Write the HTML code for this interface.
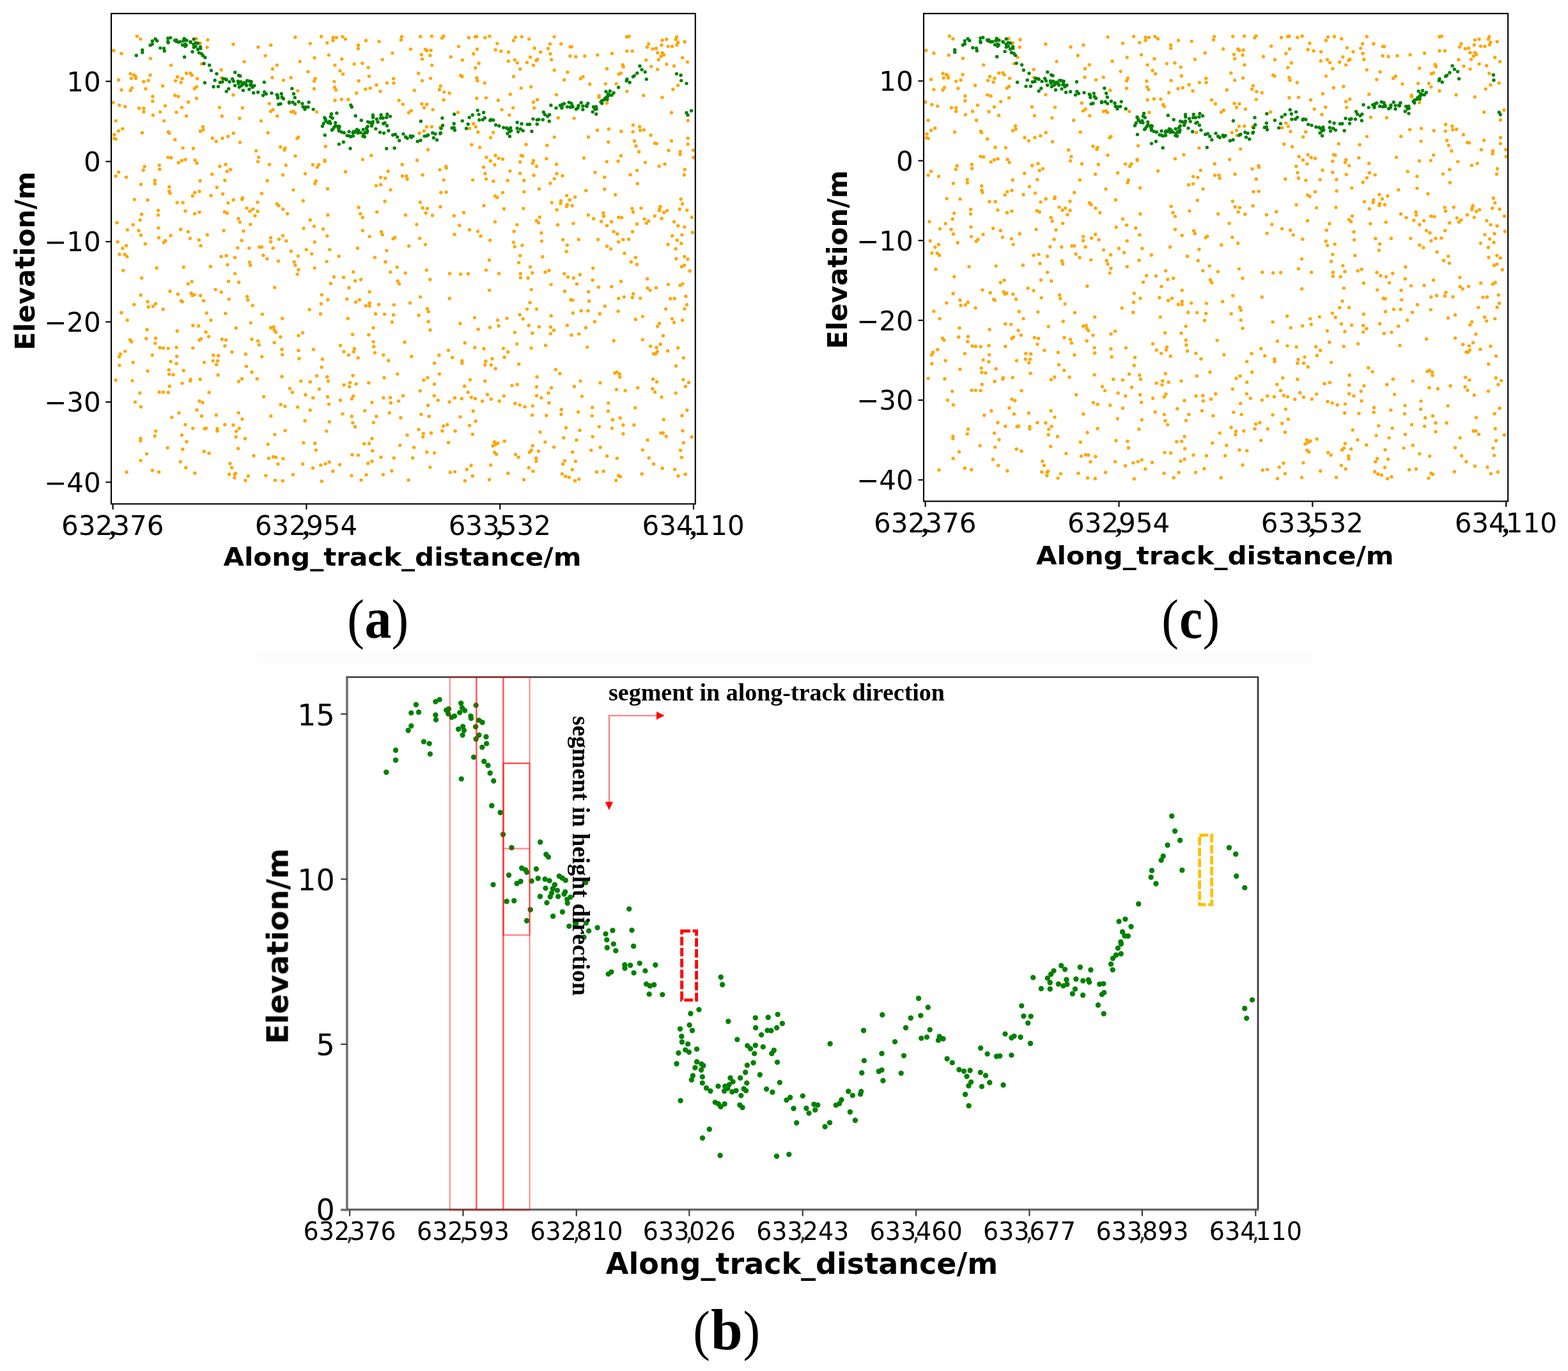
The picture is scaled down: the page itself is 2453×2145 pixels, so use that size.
<!DOCTYPE html>
<html lang="en"><head><meta charset="utf-8"><title>Figure</title>
<style>html,body{margin:0;padding:0;background:#fff}svg{display:block}.tk{font-family:"DejaVu Sans","Liberation Sans",sans-serif;fill:#000}.lb{font-family:"DejaVu Sans","Liberation Sans",sans-serif;font-weight:bold;fill:#000}.cap{font-family:"Liberation Serif","DejaVu Serif",serif;fill:#000}.an{font-family:"Liberation Serif","DejaVu Serif",serif;font-weight:bold;fill:#000}</style></head><body>
<svg xmlns="http://www.w3.org/2000/svg" width="2453" height="2145" viewBox="0 0 2453 2145">
<rect width="2453" height="2145" fill="#fff"/>
<g fill="#ffa500"><circle cx="214.3" cy="56.7" r="2.7"/><circle cx="219.9" cy="61.1" r="2.7"/><circle cx="307.1" cy="60.5" r="2.7"/><circle cx="325" cy="62.3" r="2.7"/><circle cx="313.3" cy="67.6" r="2.7"/><circle cx="324.2" cy="74" r="2.7"/><circle cx="364.9" cy="69.3" r="2.7"/><circle cx="403.9" cy="73.7" r="2.7"/><circle cx="177.7" cy="79.3" r="2.7"/><circle cx="190" cy="83.7" r="2.7"/><circle cx="235.4" cy="91.6" r="2.7"/><circle cx="382.1" cy="96.6" r="2.7"/><circle cx="315.4" cy="100.1" r="2.7"/><circle cx="267.6" cy="102.1" r="2.7"/><circle cx="346.1" cy="109.2" r="2.7"/><circle cx="204.1" cy="115.4" r="2.7"/><circle cx="209.6" cy="117.4" r="2.7"/><circle cx="211.9" cy="119.7" r="2.7"/><circle cx="212.5" cy="122.6" r="2.7"/><circle cx="205.3" cy="122.6" r="2.7"/><circle cx="235" cy="117.4" r="2.7"/><circle cx="291.6" cy="114.7" r="2.7"/><circle cx="297.8" cy="114.4" r="2.7"/><circle cx="300.2" cy="117.7" r="2.7"/><circle cx="277.6" cy="120.3" r="2.7"/><circle cx="285" cy="123" r="2.7"/><circle cx="308.6" cy="123" r="2.7"/><circle cx="346.7" cy="121.8" r="2.7"/><circle cx="185.6" cy="125" r="2.7"/><circle cx="224.8" cy="127.7" r="2.7"/><circle cx="232.1" cy="125.9" r="2.7"/><circle cx="274.6" cy="126.5" r="2.7"/><circle cx="283.2" cy="129.1" r="2.7"/><circle cx="254.5" cy="134.4" r="2.7"/><circle cx="307.5" cy="135.8" r="2.7"/><circle cx="304.2" cy="138.7" r="2.7"/><circle cx="206.4" cy="137.6" r="2.7"/><circle cx="204.1" cy="141.4" r="2.7"/><circle cx="190" cy="140.8" r="2.7"/><circle cx="227.8" cy="139" r="2.7"/><circle cx="273.8" cy="149.2" r="2.7"/><circle cx="279" cy="151" r="2.7"/><circle cx="238.9" cy="151" r="2.7"/><circle cx="238.9" cy="158.4" r="2.7"/><circle cx="307.5" cy="153.7" r="2.7"/><circle cx="364.9" cy="148.8" r="2.7"/><circle cx="294.6" cy="159.8" r="2.7"/><circle cx="176.8" cy="160.5" r="2.7"/><circle cx="186.8" cy="164.6" r="2.7"/><circle cx="195.8" cy="166.9" r="2.7"/><circle cx="258.5" cy="165.6" r="2.7"/><circle cx="284.4" cy="168.1" r="2.7"/><circle cx="343.4" cy="168.1" r="2.7"/><circle cx="379.3" cy="168.7" r="2.7"/><circle cx="217.5" cy="169.2" r="2.7"/><circle cx="224.8" cy="169.5" r="2.7"/><circle cx="224.8" cy="175" r="2.7"/><circle cx="250.6" cy="175.1" r="2.7"/><circle cx="276" cy="175.6" r="2.7"/><circle cx="239.5" cy="180.3" r="2.7"/><circle cx="291.6" cy="181.5" r="2.7"/><circle cx="347.3" cy="181.8" r="2.7"/><circle cx="374.8" cy="185.3" r="2.7"/><circle cx="181.1" cy="189.1" r="2.7"/><circle cx="256.5" cy="189.1" r="2.7"/><circle cx="317.4" cy="198.2" r="2.7"/><circle cx="318" cy="203.1" r="2.7"/><circle cx="313.5" cy="205.5" r="2.7"/><circle cx="191.8" cy="201.4" r="2.7"/><circle cx="185.6" cy="204.9" r="2.7"/><circle cx="222.5" cy="207.8" r="2.7"/><circle cx="263.5" cy="206.4" r="2.7"/><circle cx="264.7" cy="208.4" r="2.7"/><circle cx="365.2" cy="208.4" r="2.7"/><circle cx="178.9" cy="210.8" r="2.7"/><circle cx="356.7" cy="213.5" r="2.7"/><circle cx="332.1" cy="216.2" r="2.7"/><circle cx="347.9" cy="216.2" r="2.7"/><circle cx="178.5" cy="216.6" r="2.7"/><circle cx="181.2" cy="217.6" r="2.7"/><circle cx="273.7" cy="218.5" r="2.7"/><circle cx="338.3" cy="221.3" r="2.7"/><circle cx="375.4" cy="222.8" r="2.7"/><circle cx="461.9" cy="58.2" r="2.7"/><circle cx="502.6" cy="57.2" r="2.7"/><circle cx="521" cy="58.8" r="2.7"/><circle cx="526.3" cy="58.8" r="2.7"/><circle cx="521" cy="63.5" r="2.7"/><circle cx="535.9" cy="57.6" r="2.7"/><circle cx="540.4" cy="61.1" r="2.7"/><circle cx="511.7" cy="67" r="2.7"/><circle cx="485.3" cy="68.1" r="2.7"/><circle cx="572.4" cy="63.5" r="2.7"/><circle cx="593.1" cy="64.9" r="2.7"/><circle cx="628.5" cy="57.4" r="2.7"/><circle cx="627.3" cy="62.5" r="2.7"/><circle cx="560.5" cy="70.7" r="2.7"/><circle cx="560.5" cy="76" r="2.7"/><circle cx="423.8" cy="70.7" r="2.7"/><circle cx="415.2" cy="87.1" r="2.7"/><circle cx="514.4" cy="86.1" r="2.7"/><circle cx="492.1" cy="90.4" r="2.7"/><circle cx="534.8" cy="92.4" r="2.7"/><circle cx="614" cy="83.1" r="2.7"/><circle cx="598.2" cy="93.3" r="2.7"/><circle cx="469.1" cy="96.3" r="2.7"/><circle cx="524" cy="102.1" r="2.7"/><circle cx="554.2" cy="100.1" r="2.7"/><circle cx="566.8" cy="99" r="2.7"/><circle cx="576.1" cy="105.6" r="2.7"/><circle cx="433.2" cy="101.9" r="2.7"/><circle cx="426.4" cy="108" r="2.7"/><circle cx="482" cy="112.1" r="2.7"/><circle cx="531.9" cy="110.7" r="2.7"/><circle cx="536.5" cy="116" r="2.7"/><circle cx="577.3" cy="119.4" r="2.7"/><circle cx="425.8" cy="121.5" r="2.7"/><circle cx="455.1" cy="121.5" r="2.7"/><circle cx="443.4" cy="125.6" r="2.7"/><circle cx="493.2" cy="122.9" r="2.7"/><circle cx="491.4" cy="127.1" r="2.7"/><circle cx="522.8" cy="127.6" r="2.7"/><circle cx="561.1" cy="126.5" r="2.7"/><circle cx="615.6" cy="123" r="2.7"/><circle cx="616" cy="129.9" r="2.7"/><circle cx="605.4" cy="129.7" r="2.7"/><circle cx="589" cy="133" r="2.7"/><circle cx="491.4" cy="139" r="2.7"/><circle cx="523.4" cy="136.7" r="2.7"/><circle cx="525.7" cy="140.8" r="2.7"/><circle cx="579.1" cy="137.9" r="2.7"/><circle cx="571.8" cy="139.4" r="2.7"/><circle cx="594.9" cy="142.9" r="2.7"/><circle cx="557.6" cy="145.7" r="2.7"/><circle cx="465.7" cy="142" r="2.7"/><circle cx="524" cy="157" r="2.7"/><circle cx="534.2" cy="155.5" r="2.7"/><circle cx="544.8" cy="155.8" r="2.7"/><circle cx="624.2" cy="156.9" r="2.7"/><circle cx="630.3" cy="163.3" r="2.7"/><circle cx="421.2" cy="162.1" r="2.7"/><circle cx="427.1" cy="171.6" r="2.7"/><circle cx="423.4" cy="174.2" r="2.7"/><circle cx="455.4" cy="175.1" r="2.7"/><circle cx="458.9" cy="174.2" r="2.7"/><circle cx="461.6" cy="176.9" r="2.7"/><circle cx="495.5" cy="175.1" r="2.7"/><circle cx="433.7" cy="181.8" r="2.7"/><circle cx="408.5" cy="189.1" r="2.7"/><circle cx="419.1" cy="207.8" r="2.7"/><circle cx="466.8" cy="214.6" r="2.7"/><circle cx="464.8" cy="216.6" r="2.7"/><circle cx="657.6" cy="57.2" r="2.7"/><circle cx="675.5" cy="56.7" r="2.7"/><circle cx="694" cy="56.4" r="2.7"/><circle cx="691.6" cy="59.4" r="2.7"/><circle cx="733.5" cy="59" r="2.7"/><circle cx="743.4" cy="57.6" r="2.7"/><circle cx="745.8" cy="57" r="2.7"/><circle cx="758.7" cy="59" r="2.7"/><circle cx="766" cy="56.7" r="2.7"/><circle cx="806.4" cy="58.2" r="2.7"/><circle cx="816.3" cy="57.6" r="2.7"/><circle cx="803.4" cy="63.5" r="2.7"/><circle cx="827.8" cy="61.1" r="2.7"/><circle cx="867.1" cy="57.6" r="2.7"/><circle cx="777.8" cy="68.1" r="2.7"/><circle cx="717.6" cy="72.6" r="2.7"/><circle cx="860.4" cy="68.7" r="2.7"/><circle cx="836.2" cy="75.2" r="2.7"/><circle cx="857.5" cy="76" r="2.7"/><circle cx="642.4" cy="76.9" r="2.7"/><circle cx="665.5" cy="77.2" r="2.7"/><circle cx="667.8" cy="79.3" r="2.7"/><circle cx="674.1" cy="78.7" r="2.7"/><circle cx="746.4" cy="76.9" r="2.7"/><circle cx="775.1" cy="77.9" r="2.7"/><circle cx="783.9" cy="80.2" r="2.7"/><circle cx="795.6" cy="81.4" r="2.7"/><circle cx="845.7" cy="81.4" r="2.7"/><circle cx="860.9" cy="84.2" r="2.7"/><circle cx="659.3" cy="85.5" r="2.7"/><circle cx="672.8" cy="86.7" r="2.7"/><circle cx="740.7" cy="84.2" r="2.7"/><circle cx="705.3" cy="88.9" r="2.7"/><circle cx="829.6" cy="89.5" r="2.7"/><circle cx="660.6" cy="92.4" r="2.7"/><circle cx="723.3" cy="93.9" r="2.7"/><circle cx="805.3" cy="93.7" r="2.7"/><circle cx="840.7" cy="93" r="2.7"/><circle cx="838.9" cy="94.8" r="2.7"/><circle cx="862.6" cy="93.3" r="2.7"/><circle cx="795.2" cy="95.7" r="2.7"/><circle cx="809.3" cy="98.4" r="2.7"/><circle cx="824.5" cy="97.8" r="2.7"/><circle cx="749.1" cy="99" r="2.7"/><circle cx="675.7" cy="102.1" r="2.7"/><circle cx="834.5" cy="102.1" r="2.7"/><circle cx="743.7" cy="106.2" r="2.7"/><circle cx="813.7" cy="108" r="2.7"/><circle cx="867.1" cy="109.8" r="2.7"/><circle cx="654.7" cy="114.7" r="2.7"/><circle cx="720.6" cy="118" r="2.7"/><circle cx="722.9" cy="119.7" r="2.7"/><circle cx="803.5" cy="119.7" r="2.7"/><circle cx="673.5" cy="122.6" r="2.7"/><circle cx="745.8" cy="121.8" r="2.7"/><circle cx="746.9" cy="126.2" r="2.7"/><circle cx="660.6" cy="126.2" r="2.7"/><circle cx="758.1" cy="129.9" r="2.7"/><circle cx="689.2" cy="134.7" r="2.7"/><circle cx="830.7" cy="135.9" r="2.7"/><circle cx="815.3" cy="137.9" r="2.7"/><circle cx="687.4" cy="140.2" r="2.7"/><circle cx="648.2" cy="141.4" r="2.7"/><circle cx="694.8" cy="144.1" r="2.7"/><circle cx="703.2" cy="145.8" r="2.7"/><circle cx="798.2" cy="147.5" r="2.7"/><circle cx="745.8" cy="153.7" r="2.7"/><circle cx="760.4" cy="153.1" r="2.7"/><circle cx="694.2" cy="156.3" r="2.7"/><circle cx="779.4" cy="157" r="2.7"/><circle cx="840.7" cy="156" r="2.7"/><circle cx="834.5" cy="159.8" r="2.7"/><circle cx="659.9" cy="162.5" r="2.7"/><circle cx="667.8" cy="163.3" r="2.7"/><circle cx="663.4" cy="168.7" r="2.7"/><circle cx="802.6" cy="168.6" r="2.7"/><circle cx="835.7" cy="168.9" r="2.7"/><circle cx="677.2" cy="171.6" r="2.7"/><circle cx="785" cy="171.6" r="2.7"/><circle cx="643.2" cy="173.3" r="2.7"/><circle cx="639.5" cy="176.3" r="2.7"/><circle cx="716.5" cy="176" r="2.7"/><circle cx="796.8" cy="180.1" r="2.7"/><circle cx="740.7" cy="193.5" r="2.7"/><circle cx="744.2" cy="198.5" r="2.7"/><circle cx="734.6" cy="200.9" r="2.7"/><circle cx="667.3" cy="198.5" r="2.7"/><circle cx="675.5" cy="198.2" r="2.7"/><circle cx="688.4" cy="199.2" r="2.7"/><circle cx="663.4" cy="204.9" r="2.7"/><circle cx="656.1" cy="208.4" r="2.7"/><circle cx="747.8" cy="206.7" r="2.7"/><circle cx="771.6" cy="207.2" r="2.7"/><circle cx="767.5" cy="215.2" r="2.7"/><circle cx="867.1" cy="214.6" r="2.7"/><circle cx="980.5" cy="57.8" r="2.7"/><circle cx="984" cy="57" r="2.7"/><circle cx="1058.6" cy="57.8" r="2.7"/><circle cx="1057.2" cy="61.7" r="2.7"/><circle cx="1036.1" cy="62.9" r="2.7"/><circle cx="1042.8" cy="61.5" r="2.7"/><circle cx="1071" cy="65.5" r="2.7"/><circle cx="1060.7" cy="66.4" r="2.7"/><circle cx="877.7" cy="68.7" r="2.7"/><circle cx="1014.7" cy="68.7" r="2.7"/><circle cx="1035" cy="70.5" r="2.7"/><circle cx="1059" cy="70.3" r="2.7"/><circle cx="892" cy="73.1" r="2.7"/><circle cx="894.3" cy="73.1" r="2.7"/><circle cx="1012.3" cy="73.7" r="2.7"/><circle cx="1045.1" cy="72.6" r="2.7"/><circle cx="1051.6" cy="72.8" r="2.7"/><circle cx="1021.1" cy="76.6" r="2.7"/><circle cx="1026.4" cy="75.8" r="2.7"/><circle cx="980.8" cy="79.9" r="2.7"/><circle cx="989.2" cy="79.9" r="2.7"/><circle cx="957.4" cy="83.7" r="2.7"/><circle cx="1028.7" cy="82.8" r="2.7"/><circle cx="1036.1" cy="82.8" r="2.7"/><circle cx="1038.5" cy="85.7" r="2.7"/><circle cx="934.8" cy="86.1" r="2.7"/><circle cx="891.8" cy="87.7" r="2.7"/><circle cx="900.8" cy="88.9" r="2.7"/><circle cx="914.8" cy="87.7" r="2.7"/><circle cx="1034.1" cy="88.3" r="2.7"/><circle cx="1067.5" cy="90.4" r="2.7"/><circle cx="1010.7" cy="93.9" r="2.7"/><circle cx="1030.3" cy="93.3" r="2.7"/><circle cx="1075.4" cy="96.9" r="2.7"/><circle cx="1042.8" cy="100.6" r="2.7"/><circle cx="974" cy="101.5" r="2.7"/><circle cx="975.2" cy="104.5" r="2.7"/><circle cx="1018.8" cy="104.1" r="2.7"/><circle cx="1054.5" cy="103.3" r="2.7"/><circle cx="949.4" cy="107.4" r="2.7"/><circle cx="1028.7" cy="108.6" r="2.7"/><circle cx="887.9" cy="113" r="2.7"/><circle cx="968.2" cy="116" r="2.7"/><circle cx="971.4" cy="114.4" r="2.7"/><circle cx="912.1" cy="119.9" r="2.7"/><circle cx="908.2" cy="123" r="2.7"/><circle cx="882.6" cy="125" r="2.7"/><circle cx="947.4" cy="131.1" r="2.7"/><circle cx="964.1" cy="131.1" r="2.7"/><circle cx="922.7" cy="131.8" r="2.7"/><circle cx="1060.7" cy="133.5" r="2.7"/><circle cx="1052.9" cy="140" r="2.7"/><circle cx="980.8" cy="142.9" r="2.7"/><circle cx="870.5" cy="148.2" r="2.7"/><circle cx="1006.8" cy="149.2" r="2.7"/><circle cx="937.1" cy="149.6" r="2.7"/><circle cx="937.1" cy="152.2" r="2.7"/><circle cx="1035.9" cy="152.5" r="2.7"/><circle cx="949.4" cy="161.3" r="2.7"/><circle cx="1050.5" cy="176.3" r="2.7"/><circle cx="873.2" cy="184.4" r="2.7"/><circle cx="898.1" cy="185.1" r="2.7"/><circle cx="1076.2" cy="188.6" r="2.7"/><circle cx="990.4" cy="195.6" r="2.7"/><circle cx="1000.6" cy="198.2" r="2.7"/><circle cx="934.4" cy="203.7" r="2.7"/><circle cx="952.3" cy="202" r="2.7"/><circle cx="1001.6" cy="203.9" r="2.7"/><circle cx="1007.4" cy="203.3" r="2.7"/><circle cx="971.9" cy="205.5" r="2.7"/><circle cx="990.1" cy="206.1" r="2.7"/><circle cx="1018" cy="211.4" r="2.7"/><circle cx="920.5" cy="214.4" r="2.7"/><circle cx="1076.2" cy="216.2" r="2.7"/><circle cx="992.4" cy="220.8" r="2.7"/><circle cx="1050.5" cy="220.5" r="2.7"/><circle cx="951.8" cy="222.2" r="2.7"/><circle cx="1024.4" cy="224" r="2.7"/><circle cx="1027.3" cy="224.6" r="2.7"/><circle cx="286.1" cy="231.6" r="2.7"/><circle cx="302.4" cy="232.2" r="2.7"/><circle cx="400.6" cy="235.9" r="2.7"/><circle cx="404.7" cy="246.1" r="2.7"/><circle cx="403.5" cy="252.9" r="2.7"/><circle cx="262.9" cy="246.1" r="2.7"/><circle cx="267.6" cy="246.7" r="2.7"/><circle cx="290.1" cy="249.6" r="2.7"/><circle cx="284.4" cy="251.2" r="2.7"/><circle cx="279.3" cy="254.4" r="2.7"/><circle cx="305.1" cy="250.6" r="2.7"/><circle cx="308" cy="255.3" r="2.7"/><circle cx="249.2" cy="258.4" r="2.7"/><circle cx="249.7" cy="265" r="2.7"/><circle cx="226.2" cy="260.5" r="2.7"/><circle cx="224.2" cy="266.2" r="2.7"/><circle cx="352.9" cy="257.2" r="2.7"/><circle cx="343.8" cy="260.2" r="2.7"/><circle cx="360.4" cy="265.2" r="2.7"/><circle cx="355.1" cy="268.1" r="2.7"/><circle cx="185.6" cy="269.3" r="2.7"/><circle cx="181.1" cy="275.4" r="2.7"/><circle cx="197.5" cy="277.2" r="2.7"/><circle cx="331.7" cy="272.6" r="2.7"/><circle cx="242.2" cy="282.2" r="2.7"/><circle cx="242.4" cy="287.5" r="2.7"/><circle cx="313.1" cy="282.8" r="2.7"/><circle cx="351.8" cy="282.2" r="2.7"/><circle cx="220.4" cy="288.4" r="2.7"/><circle cx="264.7" cy="292.4" r="2.7"/><circle cx="339.4" cy="293.3" r="2.7"/><circle cx="264.7" cy="299.2" r="2.7"/><circle cx="266.1" cy="302.4" r="2.7"/><circle cx="311.9" cy="299.4" r="2.7"/><circle cx="304.8" cy="301.3" r="2.7"/><circle cx="301.2" cy="306.5" r="2.7"/><circle cx="348.5" cy="303.5" r="2.7"/><circle cx="330" cy="306" r="2.7"/><circle cx="210.2" cy="312.1" r="2.7"/><circle cx="231" cy="313" r="2.7"/><circle cx="379.3" cy="309.8" r="2.7"/><circle cx="378.6" cy="311.9" r="2.7"/><circle cx="365.2" cy="312.7" r="2.7"/><circle cx="277" cy="317" r="2.7"/><circle cx="286.1" cy="317" r="2.7"/><circle cx="356.9" cy="317.6" r="2.7"/><circle cx="403" cy="316.5" r="2.7"/><circle cx="386" cy="325.6" r="2.7"/><circle cx="395.6" cy="327.3" r="2.7"/><circle cx="391" cy="330.5" r="2.7"/><circle cx="403" cy="330.8" r="2.7"/><circle cx="247.5" cy="329.1" r="2.7"/><circle cx="289.9" cy="330.3" r="2.7"/><circle cx="311.9" cy="332" r="2.7"/><circle cx="304.5" cy="334.4" r="2.7"/><circle cx="351.2" cy="331.4" r="2.7"/><circle cx="355.3" cy="333.4" r="2.7"/><circle cx="221.6" cy="335.2" r="2.7"/><circle cx="247.5" cy="336.4" r="2.7"/><circle cx="398.9" cy="337.5" r="2.7"/><circle cx="373.1" cy="342" r="2.7"/><circle cx="219.2" cy="344.3" r="2.7"/><circle cx="375.2" cy="347.6" r="2.7"/><circle cx="182.9" cy="348.4" r="2.7"/><circle cx="208.1" cy="351.6" r="2.7"/><circle cx="391.6" cy="351.1" r="2.7"/><circle cx="247.9" cy="356.6" r="2.7"/><circle cx="199.4" cy="359.6" r="2.7"/><circle cx="217" cy="360.7" r="2.7"/><circle cx="282.6" cy="359" r="2.7"/><circle cx="294.3" cy="362.5" r="2.7"/><circle cx="350" cy="360.7" r="2.7"/><circle cx="381" cy="361.5" r="2.7"/><circle cx="220.4" cy="368" r="2.7"/><circle cx="267" cy="368.6" r="2.7"/><circle cx="324.2" cy="367.4" r="2.7"/><circle cx="248.5" cy="371.9" r="2.7"/><circle cx="297.3" cy="373" r="2.7"/><circle cx="311.2" cy="375.4" r="2.7"/><circle cx="258.8" cy="376.5" r="2.7"/><circle cx="256.2" cy="379.2" r="2.7"/><circle cx="378.1" cy="376.3" r="2.7"/><circle cx="184.1" cy="378.5" r="2.7"/><circle cx="227.2" cy="381.5" r="2.7"/><circle cx="197.5" cy="384.4" r="2.7"/><circle cx="314.1" cy="384.4" r="2.7"/><circle cx="191.8" cy="388.6" r="2.7"/><circle cx="371.9" cy="387.7" r="2.7"/><circle cx="389.8" cy="388.3" r="2.7"/><circle cx="405.7" cy="386.5" r="2.7"/><circle cx="186.8" cy="397.9" r="2.7"/><circle cx="195.2" cy="398" r="2.7"/><circle cx="198.7" cy="401.4" r="2.7"/><circle cx="346.1" cy="401.4" r="2.7"/><circle cx="354.1" cy="400" r="2.7"/><circle cx="367.5" cy="402.9" r="2.7"/><circle cx="390.4" cy="410.2" r="2.7"/><circle cx="391.6" cy="415" r="2.7"/><circle cx="355.9" cy="414.3" r="2.7"/><circle cx="329.4" cy="417" r="2.7"/><circle cx="287.2" cy="418.1" r="2.7"/><circle cx="245.1" cy="419.3" r="2.7"/><circle cx="192.8" cy="423.2" r="2.7"/><circle cx="409.5" cy="302.7" r="2.7"/><circle cx="438.8" cy="229.8" r="2.7"/><circle cx="446" cy="231.8" r="2.7"/><circle cx="444.9" cy="234.8" r="2.7"/><circle cx="509.3" cy="229.2" r="2.7"/><circle cx="461.9" cy="243.9" r="2.7"/><circle cx="580.8" cy="243.3" r="2.7"/><circle cx="567.3" cy="249.6" r="2.7"/><circle cx="507.9" cy="250.6" r="2.7"/><circle cx="508.2" cy="252.3" r="2.7"/><circle cx="421.4" cy="257.4" r="2.7"/><circle cx="447.2" cy="258.4" r="2.7"/><circle cx="489.4" cy="257.8" r="2.7"/><circle cx="498.8" cy="257.6" r="2.7"/><circle cx="496.4" cy="261.4" r="2.7"/><circle cx="629.1" cy="257.4" r="2.7"/><circle cx="540.4" cy="268.7" r="2.7"/><circle cx="607.2" cy="267.9" r="2.7"/><circle cx="477.5" cy="271.7" r="2.7"/><circle cx="442.5" cy="273.8" r="2.7"/><circle cx="629.4" cy="275.5" r="2.7"/><circle cx="635.9" cy="275.5" r="2.7"/><circle cx="637.1" cy="280.2" r="2.7"/><circle cx="595.5" cy="277.5" r="2.7"/><circle cx="602.7" cy="278.9" r="2.7"/><circle cx="418.2" cy="282.8" r="2.7"/><circle cx="494.3" cy="283.1" r="2.7"/><circle cx="492.9" cy="287.2" r="2.7"/><circle cx="595.5" cy="289" r="2.7"/><circle cx="588.4" cy="290.6" r="2.7"/><circle cx="512.5" cy="295.3" r="2.7"/><circle cx="458.9" cy="297.1" r="2.7"/><circle cx="611" cy="297.1" r="2.7"/><circle cx="474.2" cy="314.2" r="2.7"/><circle cx="602.1" cy="315" r="2.7"/><circle cx="433.2" cy="318.9" r="2.7"/><circle cx="435.9" cy="321.8" r="2.7"/><circle cx="561.1" cy="324.4" r="2.7"/><circle cx="442.8" cy="327.3" r="2.7"/><circle cx="589.8" cy="331.7" r="2.7"/><circle cx="449.6" cy="334.4" r="2.7"/><circle cx="563.8" cy="334.4" r="2.7"/><circle cx="512.8" cy="336.4" r="2.7"/><circle cx="634.5" cy="336.4" r="2.7"/><circle cx="567.3" cy="340.2" r="2.7"/><circle cx="485.3" cy="344.3" r="2.7"/><circle cx="491.4" cy="353.9" r="2.7"/><circle cx="475.1" cy="357.2" r="2.7"/><circle cx="505.6" cy="358.4" r="2.7"/><circle cx="567.3" cy="360.7" r="2.7"/><circle cx="596.4" cy="362.7" r="2.7"/><circle cx="598.2" cy="367.2" r="2.7"/><circle cx="442.5" cy="368.6" r="2.7"/><circle cx="511.7" cy="369.2" r="2.7"/><circle cx="578.1" cy="370.1" r="2.7"/><circle cx="423.5" cy="371.9" r="2.7"/><circle cx="617.7" cy="371.5" r="2.7"/><circle cx="615" cy="373.6" r="2.7"/><circle cx="436.4" cy="374.2" r="2.7"/><circle cx="447.8" cy="376.9" r="2.7"/><circle cx="423.5" cy="378.3" r="2.7"/><circle cx="492.1" cy="378.7" r="2.7"/><circle cx="409.7" cy="386.5" r="2.7"/><circle cx="427.1" cy="388.3" r="2.7"/><circle cx="559.4" cy="388.3" r="2.7"/><circle cx="479.2" cy="390.6" r="2.7"/><circle cx="515.8" cy="390.6" r="2.7"/><circle cx="455.4" cy="393" r="2.7"/><circle cx="604.8" cy="392.1" r="2.7"/><circle cx="487.6" cy="397.1" r="2.7"/><circle cx="411.8" cy="399.4" r="2.7"/><circle cx="466.3" cy="400.6" r="2.7"/><circle cx="530.2" cy="400.9" r="2.7"/><circle cx="586.4" cy="402.9" r="2.7"/><circle cx="417.9" cy="404.9" r="2.7"/><circle cx="435.5" cy="408.5" r="2.7"/><circle cx="511.1" cy="409.1" r="2.7"/><circle cx="603.1" cy="409.7" r="2.7"/><circle cx="460.1" cy="409.6" r="2.7"/><circle cx="461.9" cy="414.9" r="2.7"/><circle cx="621.2" cy="418.1" r="2.7"/><circle cx="492.1" cy="419.3" r="2.7"/><circle cx="466.9" cy="422" r="2.7"/><circle cx="737.9" cy="226.5" r="2.7"/><circle cx="823.1" cy="226" r="2.7"/><circle cx="750.5" cy="230.6" r="2.7"/><circle cx="855.9" cy="227.5" r="2.7"/><circle cx="669.6" cy="234.2" r="2.7"/><circle cx="775.1" cy="243.3" r="2.7"/><circle cx="761" cy="246.2" r="2.7"/><circle cx="815.3" cy="243.3" r="2.7"/><circle cx="817.8" cy="244.1" r="2.7"/><circle cx="780.1" cy="247.6" r="2.7"/><circle cx="786.4" cy="249" r="2.7"/><circle cx="854.8" cy="248.2" r="2.7"/><circle cx="652.6" cy="250.8" r="2.7"/><circle cx="767.2" cy="251.7" r="2.7"/><circle cx="834.5" cy="251.2" r="2.7"/><circle cx="813.7" cy="253.5" r="2.7"/><circle cx="833.3" cy="255.3" r="2.7"/><circle cx="773.9" cy="257.8" r="2.7"/><circle cx="839.5" cy="260.3" r="2.7"/><circle cx="756.6" cy="261.4" r="2.7"/><circle cx="697.7" cy="260.5" r="2.7"/><circle cx="698.3" cy="262.9" r="2.7"/><circle cx="688" cy="265.6" r="2.7"/><circle cx="797.9" cy="267.6" r="2.7"/><circle cx="758.9" cy="271.4" r="2.7"/><circle cx="813.7" cy="271.1" r="2.7"/><circle cx="661" cy="273.8" r="2.7"/><circle cx="835.1" cy="274.2" r="2.7"/><circle cx="760.4" cy="280.1" r="2.7"/><circle cx="694.2" cy="281.6" r="2.7"/><circle cx="739.6" cy="281.6" r="2.7"/><circle cx="771.8" cy="283.4" r="2.7"/><circle cx="794.1" cy="282.4" r="2.7"/><circle cx="819.8" cy="282.2" r="2.7"/><circle cx="867.1" cy="279.6" r="2.7"/><circle cx="860.9" cy="286.7" r="2.7"/><circle cx="843.6" cy="295.5" r="2.7"/><circle cx="689.8" cy="301.3" r="2.7"/><circle cx="698.1" cy="300.6" r="2.7"/><circle cx="786.4" cy="301.3" r="2.7"/><circle cx="820" cy="300.1" r="2.7"/><circle cx="774.5" cy="306.8" r="2.7"/><circle cx="778" cy="308.9" r="2.7"/><circle cx="657.3" cy="316.5" r="2.7"/><circle cx="863.2" cy="317.1" r="2.7"/><circle cx="756.9" cy="321.8" r="2.7"/><circle cx="688.9" cy="323.5" r="2.7"/><circle cx="661" cy="325.2" r="2.7"/><circle cx="668.4" cy="326.2" r="2.7"/><circle cx="788.5" cy="326.7" r="2.7"/><circle cx="818.8" cy="326.2" r="2.7"/><circle cx="725.6" cy="332.8" r="2.7"/><circle cx="666.1" cy="333.2" r="2.7"/><circle cx="676.6" cy="336.9" r="2.7"/><circle cx="710.4" cy="337.5" r="2.7"/><circle cx="844.2" cy="339.6" r="2.7"/><circle cx="774.5" cy="347" r="2.7"/><circle cx="839.3" cy="345.3" r="2.7"/><circle cx="842.5" cy="348.4" r="2.7"/><circle cx="652" cy="351.1" r="2.7"/><circle cx="808.7" cy="351.6" r="2.7"/><circle cx="718.8" cy="352.8" r="2.7"/><circle cx="734.6" cy="359.6" r="2.7"/><circle cx="747.5" cy="361.9" r="2.7"/><circle cx="804.1" cy="361.9" r="2.7"/><circle cx="846.9" cy="364.5" r="2.7"/><circle cx="711" cy="366.8" r="2.7"/><circle cx="752" cy="369.5" r="2.7"/><circle cx="656.7" cy="373" r="2.7"/><circle cx="766.6" cy="376" r="2.7"/><circle cx="847.5" cy="377.1" r="2.7"/><circle cx="803.2" cy="379.1" r="2.7"/><circle cx="665.5" cy="382.6" r="2.7"/><circle cx="817" cy="383.8" r="2.7"/><circle cx="639.7" cy="385" r="2.7"/><circle cx="805.3" cy="385.9" r="2.7"/><circle cx="813.7" cy="400" r="2.7"/><circle cx="848.7" cy="401.7" r="2.7"/><circle cx="765.5" cy="407" r="2.7"/><circle cx="811.6" cy="410.9" r="2.7"/><circle cx="829.6" cy="417.6" r="2.7"/><circle cx="667.3" cy="422.6" r="2.7"/><circle cx="760.4" cy="422.6" r="2.7"/><circle cx="858.9" cy="423.2" r="2.7"/><circle cx="1076.2" cy="225.7" r="2.7"/><circle cx="995.1" cy="228.5" r="2.7"/><circle cx="999.6" cy="237.4" r="2.7"/><circle cx="1046.1" cy="235.3" r="2.7"/><circle cx="1084.4" cy="235.1" r="2.7"/><circle cx="1064.2" cy="237.1" r="2.7"/><circle cx="1064" cy="241.5" r="2.7"/><circle cx="1085" cy="246.2" r="2.7"/><circle cx="971.4" cy="243.8" r="2.7"/><circle cx="913.3" cy="247.3" r="2.7"/><circle cx="949.2" cy="252.9" r="2.7"/><circle cx="967" cy="252.3" r="2.7"/><circle cx="1009.5" cy="254.1" r="2.7"/><circle cx="870.5" cy="257" r="2.7"/><circle cx="1040" cy="256.8" r="2.7"/><circle cx="1031.1" cy="259.9" r="2.7"/><circle cx="996.6" cy="266.6" r="2.7"/><circle cx="1071.3" cy="265.2" r="2.7"/><circle cx="931" cy="269.7" r="2.7"/><circle cx="871.1" cy="271.7" r="2.7"/><circle cx="880" cy="274.9" r="2.7"/><circle cx="986.1" cy="273.4" r="2.7"/><circle cx="1070.3" cy="273.8" r="2.7"/><circle cx="945.7" cy="277.2" r="2.7"/><circle cx="997.2" cy="287.2" r="2.7"/><circle cx="945.7" cy="296" r="2.7"/><circle cx="916.6" cy="298.3" r="2.7"/><circle cx="962.6" cy="304.7" r="2.7"/><circle cx="886.7" cy="306" r="2.7"/><circle cx="899.6" cy="308.2" r="2.7"/><circle cx="1065.2" cy="311.5" r="2.7"/><circle cx="891.2" cy="312.7" r="2.7"/><circle cx="877.6" cy="314.1" r="2.7"/><circle cx="877" cy="318.2" r="2.7"/><circle cx="1067.5" cy="318.9" r="2.7"/><circle cx="887.5" cy="320.3" r="2.7"/><circle cx="886.5" cy="323" r="2.7"/><circle cx="895.1" cy="321.8" r="2.7"/><circle cx="1033" cy="323.2" r="2.7"/><circle cx="988.9" cy="326.2" r="2.7"/><circle cx="1003" cy="325.8" r="2.7"/><circle cx="1031.8" cy="326.7" r="2.7"/><circle cx="1031.4" cy="329.4" r="2.7"/><circle cx="1063.3" cy="327.3" r="2.7"/><circle cx="1074.8" cy="328.9" r="2.7"/><circle cx="871.1" cy="328.3" r="2.7"/><circle cx="1043.4" cy="329.7" r="2.7"/><circle cx="1038.5" cy="332.4" r="2.7"/><circle cx="990.4" cy="331.8" r="2.7"/><circle cx="943.9" cy="333.2" r="2.7"/><circle cx="920.3" cy="336.4" r="2.7"/><circle cx="944.5" cy="338.2" r="2.7"/><circle cx="1024.2" cy="337.9" r="2.7"/><circle cx="967.6" cy="339.9" r="2.7"/><circle cx="972.6" cy="340.5" r="2.7"/><circle cx="1082.2" cy="339.9" r="2.7"/><circle cx="928.7" cy="342.2" r="2.7"/><circle cx="1035" cy="341.7" r="2.7"/><circle cx="1008" cy="342.6" r="2.7"/><circle cx="1014.7" cy="345.8" r="2.7"/><circle cx="940.6" cy="346.4" r="2.7"/><circle cx="956.4" cy="347" r="2.7"/><circle cx="1054.6" cy="347" r="2.7"/><circle cx="1011.3" cy="349.2" r="2.7"/><circle cx="896.9" cy="349.4" r="2.7"/><circle cx="996.6" cy="350.4" r="2.7"/><circle cx="872.6" cy="351.7" r="2.7"/><circle cx="949.6" cy="353.1" r="2.7"/><circle cx="1060.7" cy="353.3" r="2.7"/><circle cx="1070.9" cy="355.1" r="2.7"/><circle cx="960.2" cy="362.5" r="2.7"/><circle cx="989.5" cy="362.5" r="2.7"/><circle cx="1083.2" cy="363.7" r="2.7"/><circle cx="965.8" cy="366" r="2.7"/><circle cx="1066.8" cy="367.4" r="2.7"/><circle cx="1051.7" cy="368.9" r="2.7"/><circle cx="983.7" cy="374.2" r="2.7"/><circle cx="974.8" cy="374.8" r="2.7"/><circle cx="880.6" cy="375.1" r="2.7"/><circle cx="905.2" cy="374.8" r="2.7"/><circle cx="935.6" cy="374.8" r="2.7"/><circle cx="1059.2" cy="375.7" r="2.7"/><circle cx="967.6" cy="378.5" r="2.7"/><circle cx="1065.8" cy="381" r="2.7"/><circle cx="1045.1" cy="382.4" r="2.7"/><circle cx="887.3" cy="383.6" r="2.7"/><circle cx="949.6" cy="385.3" r="2.7"/><circle cx="1057.2" cy="389.2" r="2.7"/><circle cx="955.6" cy="389.4" r="2.7"/><circle cx="886.1" cy="393.5" r="2.7"/><circle cx="976.9" cy="396.2" r="2.7"/><circle cx="994.5" cy="402.9" r="2.7"/><circle cx="1070.7" cy="401.5" r="2.7"/><circle cx="1057.8" cy="404.7" r="2.7"/><circle cx="1076" cy="405.5" r="2.7"/><circle cx="987.3" cy="409.7" r="2.7"/><circle cx="996.3" cy="413.8" r="2.7"/><circle cx="1070.7" cy="415.2" r="2.7"/><circle cx="1066.4" cy="417.3" r="2.7"/><circle cx="927.7" cy="419.7" r="2.7"/><circle cx="1079.1" cy="424" r="2.7"/><circle cx="367.6" cy="428.1" r="2.7"/><circle cx="221.7" cy="435" r="2.7"/><circle cx="300.1" cy="440.6" r="2.7"/><circle cx="294.3" cy="444.1" r="2.7"/><circle cx="357.5" cy="440.3" r="2.7"/><circle cx="373.7" cy="441.8" r="2.7"/><circle cx="265.9" cy="455.8" r="2.7"/><circle cx="337.1" cy="453.1" r="2.7"/><circle cx="346.1" cy="457" r="2.7"/><circle cx="278.2" cy="460.2" r="2.7"/><circle cx="299.2" cy="458.8" r="2.7"/><circle cx="303.9" cy="461.1" r="2.7"/><circle cx="301" cy="462.3" r="2.7"/><circle cx="313.7" cy="462.5" r="2.7"/><circle cx="220.1" cy="461.7" r="2.7"/><circle cx="386.6" cy="464" r="2.7"/><circle cx="387.7" cy="469.3" r="2.7"/><circle cx="358.1" cy="468.1" r="2.7"/><circle cx="318.6" cy="470.5" r="2.7"/><circle cx="283.4" cy="470.7" r="2.7"/><circle cx="285.2" cy="472" r="2.7"/><circle cx="231" cy="471.9" r="2.7"/><circle cx="243.4" cy="475.2" r="2.7"/><circle cx="209.8" cy="476.4" r="2.7"/><circle cx="239.5" cy="479.3" r="2.7"/><circle cx="232.1" cy="480.2" r="2.7"/><circle cx="395.1" cy="477.9" r="2.7"/><circle cx="255.1" cy="484" r="2.7"/><circle cx="190" cy="489.2" r="2.7"/><circle cx="323.3" cy="489.8" r="2.7"/><circle cx="352.8" cy="490.4" r="2.7"/><circle cx="199.1" cy="501" r="2.7"/><circle cx="330" cy="501" r="2.7"/><circle cx="392.2" cy="505.1" r="2.7"/><circle cx="301.8" cy="509.2" r="2.7"/><circle cx="310.7" cy="510" r="2.7"/><circle cx="369.2" cy="513.3" r="2.7"/><circle cx="230.1" cy="515.8" r="2.7"/><circle cx="277.2" cy="518" r="2.7"/><circle cx="322.1" cy="519.5" r="2.7"/><circle cx="326.4" cy="526.7" r="2.7"/><circle cx="228.7" cy="529.7" r="2.7"/><circle cx="243.4" cy="529.1" r="2.7"/><circle cx="314.5" cy="529.9" r="2.7"/><circle cx="311.9" cy="532" r="2.7"/><circle cx="203.4" cy="531.8" r="2.7"/><circle cx="205.9" cy="534.7" r="2.7"/><circle cx="347.3" cy="530.8" r="2.7"/><circle cx="353.5" cy="532" r="2.7"/><circle cx="393.9" cy="530.8" r="2.7"/><circle cx="403.5" cy="533.4" r="2.7"/><circle cx="405.3" cy="539.4" r="2.7"/><circle cx="242.8" cy="537.1" r="2.7"/><circle cx="351.8" cy="541.2" r="2.7"/><circle cx="250" cy="544" r="2.7"/><circle cx="255.3" cy="544.6" r="2.7"/><circle cx="263.2" cy="545.1" r="2.7"/><circle cx="276" cy="543.4" r="2.7"/><circle cx="301.8" cy="544.6" r="2.7"/><circle cx="195.8" cy="549.6" r="2.7"/><circle cx="362.9" cy="550.8" r="2.7"/><circle cx="188.5" cy="553.9" r="2.7"/><circle cx="186.5" cy="558" r="2.7"/><circle cx="238.3" cy="555.8" r="2.7"/><circle cx="333.8" cy="555.8" r="2.7"/><circle cx="341.7" cy="556.4" r="2.7"/><circle cx="384.4" cy="554" r="2.7"/><circle cx="276.6" cy="557.8" r="2.7"/><circle cx="333.2" cy="564.6" r="2.7"/><circle cx="340.5" cy="564.8" r="2.7"/><circle cx="267" cy="565.8" r="2.7"/><circle cx="208.1" cy="566.9" r="2.7"/><circle cx="319.5" cy="566.9" r="2.7"/><circle cx="276" cy="568.7" r="2.7"/><circle cx="338.7" cy="570.5" r="2.7"/><circle cx="186.8" cy="571.6" r="2.7"/><circle cx="385.4" cy="573.3" r="2.7"/><circle cx="264.1" cy="578.7" r="2.7"/><circle cx="287.2" cy="579.8" r="2.7"/><circle cx="231" cy="580.6" r="2.7"/><circle cx="393.9" cy="582.2" r="2.7"/><circle cx="264.7" cy="585.6" r="2.7"/><circle cx="270.9" cy="586.2" r="2.7"/><circle cx="341.1" cy="586.7" r="2.7"/><circle cx="378.6" cy="592.7" r="2.7"/><circle cx="402.1" cy="592.7" r="2.7"/><circle cx="313.1" cy="593.5" r="2.7"/><circle cx="298.3" cy="593.8" r="2.7"/><circle cx="297.5" cy="596.1" r="2.7"/><circle cx="181.1" cy="594.7" r="2.7"/><circle cx="207" cy="595.6" r="2.7"/><circle cx="373.4" cy="596.8" r="2.7"/><circle cx="285" cy="599.6" r="2.7"/><circle cx="265.3" cy="604.3" r="2.7"/><circle cx="249.1" cy="613.5" r="2.7"/><circle cx="255.3" cy="613.5" r="2.7"/><circle cx="263.2" cy="614" r="2.7"/><circle cx="327" cy="614" r="2.7"/><circle cx="218.7" cy="615" r="2.7"/><circle cx="410.3" cy="491.6" r="2.7"/><circle cx="409.7" cy="558.1" r="2.7"/><circle cx="552.7" cy="425.6" r="2.7"/><circle cx="610.7" cy="425.6" r="2.7"/><circle cx="634.1" cy="427.1" r="2.7"/><circle cx="465.1" cy="429.1" r="2.7"/><circle cx="522.5" cy="433.3" r="2.7"/><circle cx="537.5" cy="433.9" r="2.7"/><circle cx="564.6" cy="437.3" r="2.7"/><circle cx="555.6" cy="439.4" r="2.7"/><circle cx="622.2" cy="439.8" r="2.7"/><circle cx="624.5" cy="444.1" r="2.7"/><circle cx="517.3" cy="443.5" r="2.7"/><circle cx="429.6" cy="449.8" r="2.7"/><circle cx="545.9" cy="450.3" r="2.7"/><circle cx="578.1" cy="456.4" r="2.7"/><circle cx="503.2" cy="461.1" r="2.7"/><circle cx="512.8" cy="469" r="2.7"/><circle cx="542.7" cy="467.9" r="2.7"/><circle cx="562.3" cy="469" r="2.7"/><circle cx="556.6" cy="472.5" r="2.7"/><circle cx="578.1" cy="474" r="2.7"/><circle cx="502.3" cy="475.2" r="2.7"/><circle cx="572.3" cy="478.5" r="2.7"/><circle cx="578.1" cy="478.7" r="2.7"/><circle cx="592.5" cy="476.4" r="2.7"/><circle cx="616.2" cy="476.9" r="2.7"/><circle cx="484.1" cy="484.2" r="2.7"/><circle cx="501.5" cy="491" r="2.7"/><circle cx="587.6" cy="491" r="2.7"/><circle cx="601.6" cy="491.6" r="2.7"/><circle cx="615.6" cy="492.8" r="2.7"/><circle cx="441.6" cy="498.3" r="2.7"/><circle cx="544.2" cy="498.3" r="2.7"/><circle cx="613.4" cy="503.9" r="2.7"/><circle cx="423.5" cy="512.7" r="2.7"/><circle cx="428.1" cy="511.5" r="2.7"/><circle cx="429.1" cy="516.2" r="2.7"/><circle cx="431.6" cy="519.7" r="2.7"/><circle cx="584.1" cy="512.9" r="2.7"/><circle cx="473.6" cy="520.6" r="2.7"/><circle cx="466.9" cy="525" r="2.7"/><circle cx="551.5" cy="523.2" r="2.7"/><circle cx="576.9" cy="523.8" r="2.7"/><circle cx="438.8" cy="527.1" r="2.7"/><circle cx="429.1" cy="535.9" r="2.7"/><circle cx="584.1" cy="534.6" r="2.7"/><circle cx="633" cy="535.2" r="2.7"/><circle cx="532.4" cy="540.5" r="2.7"/><circle cx="584.7" cy="542.3" r="2.7"/><circle cx="554.4" cy="545.5" r="2.7"/><circle cx="441" cy="546.7" r="2.7"/><circle cx="490.3" cy="546.7" r="2.7"/><circle cx="466.9" cy="548.4" r="2.7"/><circle cx="538" cy="550.2" r="2.7"/><circle cx="553.3" cy="550.2" r="2.7"/><circle cx="586.4" cy="551.9" r="2.7"/><circle cx="441.6" cy="554.9" r="2.7"/><circle cx="545.4" cy="555.5" r="2.7"/><circle cx="599.8" cy="555.5" r="2.7"/><circle cx="560.1" cy="559.9" r="2.7"/><circle cx="468" cy="561" r="2.7"/><circle cx="504.4" cy="561.9" r="2.7"/><circle cx="607.8" cy="564.2" r="2.7"/><circle cx="503.2" cy="574.4" r="2.7"/><circle cx="621.8" cy="585.1" r="2.7"/><circle cx="552.1" cy="587.4" r="2.7"/><circle cx="495.5" cy="588" r="2.7"/><circle cx="441" cy="589.2" r="2.7"/><circle cx="511.7" cy="589.7" r="2.7"/><circle cx="601.1" cy="591" r="2.7"/><circle cx="470.7" cy="596.2" r="2.7"/><circle cx="513.4" cy="596.2" r="2.7"/><circle cx="485.3" cy="597.4" r="2.7"/><circle cx="547.6" cy="598.8" r="2.7"/><circle cx="576.9" cy="599" r="2.7"/><circle cx="557.1" cy="600.8" r="2.7"/><circle cx="538" cy="602.3" r="2.7"/><circle cx="546.8" cy="605" r="2.7"/><circle cx="453.4" cy="607.8" r="2.7"/><circle cx="499.4" cy="608.8" r="2.7"/><circle cx="457.4" cy="614" r="2.7"/><circle cx="478" cy="617.8" r="2.7"/><circle cx="412.6" cy="620.8" r="2.7"/><circle cx="512.5" cy="620.8" r="2.7"/><circle cx="552.7" cy="619.6" r="2.7"/><circle cx="630.6" cy="619.3" r="2.7"/><circle cx="489.8" cy="622.5" r="2.7"/><circle cx="599.9" cy="622.5" r="2.7"/><circle cx="610.5" cy="621.9" r="2.7"/><circle cx="550.3" cy="624" r="2.7"/><circle cx="853" cy="425.7" r="2.7"/><circle cx="703.6" cy="428" r="2.7"/><circle cx="720.6" cy="428.9" r="2.7"/><circle cx="732.5" cy="428.5" r="2.7"/><circle cx="780.6" cy="428" r="2.7"/><circle cx="814.3" cy="428.3" r="2.7"/><circle cx="832.8" cy="426.9" r="2.7"/><circle cx="814.3" cy="434.4" r="2.7"/><circle cx="826" cy="435" r="2.7"/><circle cx="672.9" cy="437.3" r="2.7"/><circle cx="862.1" cy="445.1" r="2.7"/><circle cx="765.5" cy="454.1" r="2.7"/><circle cx="831.3" cy="453.1" r="2.7"/><circle cx="657.6" cy="464.6" r="2.7"/><circle cx="703.2" cy="467" r="2.7"/><circle cx="641.5" cy="474" r="2.7"/><circle cx="829" cy="473.4" r="2.7"/><circle cx="668.4" cy="483" r="2.7"/><circle cx="670.2" cy="487.5" r="2.7"/><circle cx="824.5" cy="483.6" r="2.7"/><circle cx="839.5" cy="483.6" r="2.7"/><circle cx="655" cy="493.3" r="2.7"/><circle cx="813.2" cy="492.4" r="2.7"/><circle cx="862.1" cy="493.9" r="2.7"/><circle cx="742.5" cy="497.1" r="2.7"/><circle cx="793" cy="498" r="2.7"/><circle cx="818.2" cy="498.9" r="2.7"/><circle cx="778.6" cy="501" r="2.7"/><circle cx="670.2" cy="503.3" r="2.7"/><circle cx="720" cy="506.2" r="2.7"/><circle cx="780.1" cy="510" r="2.7"/><circle cx="827.2" cy="509.2" r="2.7"/><circle cx="766.6" cy="512.3" r="2.7"/><circle cx="843.4" cy="511.2" r="2.7"/><circle cx="861.4" cy="511.7" r="2.7"/><circle cx="748.1" cy="515.3" r="2.7"/><circle cx="672.9" cy="516.2" r="2.7"/><circle cx="866.5" cy="516.8" r="2.7"/><circle cx="805.3" cy="520.1" r="2.7"/><circle cx="832.8" cy="521.2" r="2.7"/><circle cx="861.4" cy="522.1" r="2.7"/><circle cx="727.3" cy="536.4" r="2.7"/><circle cx="808.7" cy="538.1" r="2.7"/><circle cx="853.6" cy="540.5" r="2.7"/><circle cx="742.8" cy="543.7" r="2.7"/><circle cx="756.9" cy="545.5" r="2.7"/><circle cx="787.4" cy="545.1" r="2.7"/><circle cx="831.1" cy="544.6" r="2.7"/><circle cx="701.5" cy="548.1" r="2.7"/><circle cx="794.6" cy="550.8" r="2.7"/><circle cx="686.9" cy="555.8" r="2.7"/><circle cx="643.8" cy="557.8" r="2.7"/><circle cx="707.7" cy="559.3" r="2.7"/><circle cx="789.1" cy="559" r="2.7"/><circle cx="770" cy="561.3" r="2.7"/><circle cx="722.7" cy="564.5" r="2.7"/><circle cx="759.8" cy="565.2" r="2.7"/><circle cx="722.9" cy="568.3" r="2.7"/><circle cx="679.6" cy="568.3" r="2.7"/><circle cx="811.6" cy="569.8" r="2.7"/><circle cx="758.7" cy="571" r="2.7"/><circle cx="768.3" cy="571" r="2.7"/><circle cx="775.1" cy="576.8" r="2.7"/><circle cx="687.4" cy="585.1" r="2.7"/><circle cx="840.1" cy="589.8" r="2.7"/><circle cx="669" cy="591" r="2.7"/><circle cx="662.8" cy="594.7" r="2.7"/><circle cx="735.6" cy="594.1" r="2.7"/><circle cx="758.7" cy="596.2" r="2.7"/><circle cx="679.6" cy="600.9" r="2.7"/><circle cx="809.3" cy="601.4" r="2.7"/><circle cx="800.9" cy="603.1" r="2.7"/><circle cx="726.7" cy="604.3" r="2.7"/><circle cx="839.5" cy="605.3" r="2.7"/><circle cx="862.6" cy="606.7" r="2.7"/><circle cx="657.3" cy="611.5" r="2.7"/><circle cx="732.3" cy="613.8" r="2.7"/><circle cx="858" cy="615" r="2.7"/><circle cx="762.5" cy="617.3" r="2.7"/><circle cx="679.2" cy="619.1" r="2.7"/><circle cx="788.5" cy="619.6" r="2.7"/><circle cx="839.5" cy="619" r="2.7"/><circle cx="737.3" cy="621.7" r="2.7"/><circle cx="711.6" cy="622.5" r="2.7"/><circle cx="846.8" cy="622.5" r="2.7"/><circle cx="722.3" cy="623.7" r="2.7"/><circle cx="743.4" cy="623.7" r="2.7"/><circle cx="768.3" cy="624.4" r="2.7"/><circle cx="869.4" cy="578.3" r="2.7"/><circle cx="882.8" cy="428.3" r="2.7"/><circle cx="907.5" cy="429.7" r="2.7"/><circle cx="888.5" cy="433.3" r="2.7"/><circle cx="897.3" cy="435" r="2.7"/><circle cx="927.1" cy="438.3" r="2.7"/><circle cx="1012.5" cy="436.2" r="2.7"/><circle cx="971.4" cy="440.3" r="2.7"/><circle cx="902.3" cy="444.5" r="2.7"/><circle cx="1045.5" cy="445.1" r="2.7"/><circle cx="1068" cy="444.1" r="2.7"/><circle cx="1064" cy="446.5" r="2.7"/><circle cx="936.3" cy="449.2" r="2.7"/><circle cx="956.8" cy="448.5" r="2.7"/><circle cx="1013" cy="450.6" r="2.7"/><circle cx="1026.4" cy="450.2" r="2.7"/><circle cx="1017" cy="454.1" r="2.7"/><circle cx="883.4" cy="455.8" r="2.7"/><circle cx="920.7" cy="456.4" r="2.7"/><circle cx="990.7" cy="459.7" r="2.7"/><circle cx="1073" cy="463.7" r="2.7"/><circle cx="976.4" cy="464.6" r="2.7"/><circle cx="989.2" cy="465.5" r="2.7"/><circle cx="967.6" cy="467" r="2.7"/><circle cx="1001.8" cy="466.6" r="2.7"/><circle cx="1048.8" cy="467.3" r="2.7"/><circle cx="1055.2" cy="467" r="2.7"/><circle cx="892.9" cy="469" r="2.7"/><circle cx="895.9" cy="469.6" r="2.7"/><circle cx="921.6" cy="471.3" r="2.7"/><circle cx="1074.4" cy="476.7" r="2.7"/><circle cx="946.2" cy="479" r="2.7"/><circle cx="1041.6" cy="483.4" r="2.7"/><circle cx="1070.9" cy="483.1" r="2.7"/><circle cx="909.2" cy="486.3" r="2.7"/><circle cx="919.9" cy="486.3" r="2.7"/><circle cx="967" cy="486.9" r="2.7"/><circle cx="896.3" cy="489.8" r="2.7"/><circle cx="938.3" cy="491" r="2.7"/><circle cx="1005.3" cy="495.1" r="2.7"/><circle cx="994.3" cy="499.8" r="2.7"/><circle cx="1051.4" cy="498.6" r="2.7"/><circle cx="1067.5" cy="501" r="2.7"/><circle cx="930.4" cy="503.3" r="2.7"/><circle cx="1054.5" cy="504.5" r="2.7"/><circle cx="1031.4" cy="506" r="2.7"/><circle cx="887.3" cy="508.9" r="2.7"/><circle cx="1028.5" cy="510.6" r="2.7"/><circle cx="916.4" cy="512.7" r="2.7"/><circle cx="905.7" cy="522.4" r="2.7"/><circle cx="894" cy="524.2" r="2.7"/><circle cx="1037.6" cy="525.3" r="2.7"/><circle cx="1005.3" cy="531.4" r="2.7"/><circle cx="960.2" cy="533" r="2.7"/><circle cx="1033.2" cy="538.7" r="2.7"/><circle cx="1017.4" cy="541.6" r="2.7"/><circle cx="918.7" cy="543.1" r="2.7"/><circle cx="1027" cy="543.7" r="2.7"/><circle cx="1060.7" cy="544.3" r="2.7"/><circle cx="1044.6" cy="549" r="2.7"/><circle cx="1028.2" cy="550.2" r="2.7"/><circle cx="1022.6" cy="553.5" r="2.7"/><circle cx="1025.6" cy="553.7" r="2.7"/><circle cx="1069.2" cy="559.9" r="2.7"/><circle cx="1057.5" cy="572.4" r="2.7"/><circle cx="875.9" cy="584.4" r="2.7"/><circle cx="961.7" cy="583.8" r="2.7"/><circle cx="965.2" cy="582.2" r="2.7"/><circle cx="969.3" cy="585.1" r="2.7"/><circle cx="969.7" cy="590" r="2.7"/><circle cx="1021.5" cy="593.3" r="2.7"/><circle cx="1068.9" cy="594.1" r="2.7"/><circle cx="908" cy="596.1" r="2.7"/><circle cx="1027.6" cy="597.4" r="2.7"/><circle cx="1077.5" cy="598.5" r="2.7"/><circle cx="938.9" cy="599" r="2.7"/><circle cx="898.4" cy="604.7" r="2.7"/><circle cx="1072.5" cy="604.7" r="2.7"/><circle cx="997.7" cy="606.7" r="2.7"/><circle cx="1020.9" cy="608.2" r="2.7"/><circle cx="964.6" cy="609.4" r="2.7"/><circle cx="978.1" cy="611.1" r="2.7"/><circle cx="1024.6" cy="613.5" r="2.7"/><circle cx="1057.2" cy="614.9" r="2.7"/><circle cx="910.4" cy="620.1" r="2.7"/><circle cx="1035" cy="621.3" r="2.7"/><circle cx="211.4" cy="628.9" r="2.7"/><circle cx="220.4" cy="636.5" r="2.7"/><circle cx="311.9" cy="627.4" r="2.7"/><circle cx="316.8" cy="629.7" r="2.7"/><circle cx="308" cy="641.4" r="2.7"/><circle cx="279.9" cy="645.9" r="2.7"/><circle cx="373.1" cy="645.9" r="2.7"/><circle cx="338.3" cy="649.4" r="2.7"/><circle cx="315.4" cy="650.9" r="2.7"/><circle cx="268.8" cy="652.9" r="2.7"/><circle cx="378.9" cy="655.8" r="2.7"/><circle cx="289.9" cy="664.4" r="2.7"/><circle cx="351.8" cy="664.4" r="2.7"/><circle cx="364.9" cy="665" r="2.7"/><circle cx="301.8" cy="670.1" r="2.7"/><circle cx="320" cy="670.7" r="2.7"/><circle cx="322.5" cy="669.9" r="2.7"/><circle cx="374.2" cy="670.3" r="2.7"/><circle cx="339.9" cy="670.7" r="2.7"/><circle cx="339.9" cy="674.2" r="2.7"/><circle cx="243.6" cy="674.6" r="2.7"/><circle cx="369.8" cy="674.8" r="2.7"/><circle cx="284.4" cy="680.8" r="2.7"/><circle cx="242.2" cy="682.2" r="2.7"/><circle cx="369.2" cy="683.6" r="2.7"/><circle cx="219.9" cy="686" r="2.7"/><circle cx="219.9" cy="689.6" r="2.7"/><circle cx="383.4" cy="686.3" r="2.7"/><circle cx="291.9" cy="691" r="2.7"/><circle cx="262.1" cy="700.6" r="2.7"/><circle cx="285.8" cy="703" r="2.7"/><circle cx="372.7" cy="701.8" r="2.7"/><circle cx="319.2" cy="706.2" r="2.7"/><circle cx="327" cy="709.2" r="2.7"/><circle cx="229.5" cy="710.1" r="2.7"/><circle cx="396.9" cy="713" r="2.7"/><circle cx="220.1" cy="720.6" r="2.7"/><circle cx="282.3" cy="722.4" r="2.7"/><circle cx="359.8" cy="725.3" r="2.7"/><circle cx="290.7" cy="731.7" r="2.7"/><circle cx="362.5" cy="731.7" r="2.7"/><circle cx="238.3" cy="735.9" r="2.7"/><circle cx="198.1" cy="738.8" r="2.7"/><circle cx="248.6" cy="738.5" r="2.7"/><circle cx="304.8" cy="740.2" r="2.7"/><circle cx="358.7" cy="742" r="2.7"/><circle cx="368.6" cy="740.6" r="2.7"/><circle cx="367.2" cy="742.2" r="2.7"/><circle cx="388.3" cy="744.7" r="2.7"/><circle cx="366.9" cy="747.6" r="2.7"/><circle cx="384" cy="751.7" r="2.7"/><circle cx="532.5" cy="626.3" r="2.7"/><circle cx="623.6" cy="627.4" r="2.7"/><circle cx="581.8" cy="629.7" r="2.7"/><circle cx="611.3" cy="630.3" r="2.7"/><circle cx="514.6" cy="632.4" r="2.7"/><circle cx="439.2" cy="633" r="2.7"/><circle cx="446" cy="635.7" r="2.7"/><circle cx="465.7" cy="636.9" r="2.7"/><circle cx="485.3" cy="641.8" r="2.7"/><circle cx="570.6" cy="642.6" r="2.7"/><circle cx="609.3" cy="645.9" r="2.7"/><circle cx="535.9" cy="647.6" r="2.7"/><circle cx="423.8" cy="650.9" r="2.7"/><circle cx="550.3" cy="651.5" r="2.7"/><circle cx="588.7" cy="651.5" r="2.7"/><circle cx="626.9" cy="653.5" r="2.7"/><circle cx="477.1" cy="658.2" r="2.7"/><circle cx="515.2" cy="659.9" r="2.7"/><circle cx="551.8" cy="661.5" r="2.7"/><circle cx="584.3" cy="661.1" r="2.7"/><circle cx="555.6" cy="667.8" r="2.7"/><circle cx="446" cy="673.7" r="2.7"/><circle cx="510.7" cy="674.6" r="2.7"/><circle cx="429.9" cy="679.9" r="2.7"/><circle cx="637.1" cy="680.8" r="2.7"/><circle cx="582" cy="686.3" r="2.7"/><circle cx="474.8" cy="692.8" r="2.7"/><circle cx="492.7" cy="693.7" r="2.7"/><circle cx="569.7" cy="694.3" r="2.7"/><circle cx="577.5" cy="693.9" r="2.7"/><circle cx="419.3" cy="695.1" r="2.7"/><circle cx="625.7" cy="696.6" r="2.7"/><circle cx="494.4" cy="704.1" r="2.7"/><circle cx="582.6" cy="705.3" r="2.7"/><circle cx="550.9" cy="711.5" r="2.7"/><circle cx="560.5" cy="712.1" r="2.7"/><circle cx="427.3" cy="714.8" r="2.7"/><circle cx="431.6" cy="715.4" r="2.7"/><circle cx="420.3" cy="717" r="2.7"/><circle cx="442.8" cy="717.6" r="2.7"/><circle cx="596" cy="715.4" r="2.7"/><circle cx="616.2" cy="716.4" r="2.7"/><circle cx="515.2" cy="723" r="2.7"/><circle cx="582" cy="721.8" r="2.7"/><circle cx="509.1" cy="725.6" r="2.7"/><circle cx="575.8" cy="725" r="2.7"/><circle cx="434.9" cy="725.9" r="2.7"/><circle cx="473.6" cy="725.9" r="2.7"/><circle cx="501.7" cy="727.6" r="2.7"/><circle cx="531.4" cy="727" r="2.7"/><circle cx="489.4" cy="732.2" r="2.7"/><circle cx="520.7" cy="737.3" r="2.7"/><circle cx="612.8" cy="736.7" r="2.7"/><circle cx="458.4" cy="742.6" r="2.7"/><circle cx="573" cy="742.9" r="2.7"/><circle cx="599.3" cy="742.6" r="2.7"/><circle cx="415.8" cy="744.1" r="2.7"/><circle cx="550" cy="744.1" r="2.7"/><circle cx="430.5" cy="751.4" r="2.7"/><circle cx="442.2" cy="752.3" r="2.7"/><circle cx="565" cy="751.1" r="2.7"/><circle cx="503.2" cy="752.9" r="2.7"/><circle cx="685.2" cy="626.3" r="2.7"/><circle cx="754.6" cy="627.7" r="2.7"/><circle cx="781.2" cy="627.4" r="2.7"/><circle cx="639.1" cy="751.1" r="2.7"/><circle cx="703.2" cy="628.9" r="2.7"/><circle cx="805.9" cy="631.2" r="2.7"/><circle cx="858.9" cy="630.3" r="2.7"/><circle cx="669.6" cy="634.2" r="2.7"/><circle cx="813.2" cy="633.6" r="2.7"/><circle cx="833.3" cy="635.1" r="2.7"/><circle cx="821.1" cy="636.5" r="2.7"/><circle cx="740.3" cy="643.2" r="2.7"/><circle cx="658.8" cy="648.2" r="2.7"/><circle cx="832.5" cy="649.4" r="2.7"/><circle cx="854.8" cy="650" r="2.7"/><circle cx="671.1" cy="651.5" r="2.7"/><circle cx="720" cy="652.1" r="2.7"/><circle cx="744.2" cy="659" r="2.7"/><circle cx="699.8" cy="664.4" r="2.7"/><circle cx="693.6" cy="666.6" r="2.7"/><circle cx="734.6" cy="665.6" r="2.7"/><circle cx="655" cy="671.9" r="2.7"/><circle cx="691.9" cy="674.2" r="2.7"/><circle cx="712.1" cy="674.2" r="2.7"/><circle cx="674.5" cy="677.5" r="2.7"/><circle cx="662.3" cy="678.1" r="2.7"/><circle cx="845.1" cy="676" r="2.7"/><circle cx="739.3" cy="679.5" r="2.7"/><circle cx="661.6" cy="683.4" r="2.7"/><circle cx="789.1" cy="690.2" r="2.7"/><circle cx="773.3" cy="691.4" r="2.7"/><circle cx="701.5" cy="692.4" r="2.7"/><circle cx="778.8" cy="693.3" r="2.7"/><circle cx="852.8" cy="691.6" r="2.7"/><circle cx="775.1" cy="695.5" r="2.7"/><circle cx="771" cy="697.8" r="2.7"/><circle cx="833.3" cy="697.2" r="2.7"/><circle cx="647.6" cy="700" r="2.7"/><circle cx="866.5" cy="699.6" r="2.7"/><circle cx="831.3" cy="704.5" r="2.7"/><circle cx="842.5" cy="705.9" r="2.7"/><circle cx="667.8" cy="707.4" r="2.7"/><circle cx="828.4" cy="707.4" r="2.7"/><circle cx="679.6" cy="708.6" r="2.7"/><circle cx="773.7" cy="707.8" r="2.7"/><circle cx="776.6" cy="710.7" r="2.7"/><circle cx="806.5" cy="711.3" r="2.7"/><circle cx="811" cy="715.4" r="2.7"/><circle cx="645.6" cy="716.4" r="2.7"/><circle cx="838.6" cy="716.8" r="2.7"/><circle cx="838.9" cy="721.5" r="2.7"/><circle cx="737" cy="728.3" r="2.7"/><circle cx="767.7" cy="727.6" r="2.7"/><circle cx="672.9" cy="731.1" r="2.7"/><circle cx="827.2" cy="731.7" r="2.7"/><circle cx="730.2" cy="734.4" r="2.7"/><circle cx="834" cy="737.3" r="2.7"/><circle cx="704.2" cy="739" r="2.7"/><circle cx="711.6" cy="738.1" r="2.7"/><circle cx="794.6" cy="740.5" r="2.7"/><circle cx="739.3" cy="744.7" r="2.7"/><circle cx="765.5" cy="750.5" r="2.7"/><circle cx="819.4" cy="750.5" r="2.7"/><circle cx="727.4" cy="752.3" r="2.7"/><circle cx="951.8" cy="630.6" r="2.7"/><circle cx="926.8" cy="637.4" r="2.7"/><circle cx="993.9" cy="637.9" r="2.7"/><circle cx="878.3" cy="640.8" r="2.7"/><circle cx="1074.8" cy="641.8" r="2.7"/><circle cx="951.4" cy="643.3" r="2.7"/><circle cx="904.6" cy="644.7" r="2.7"/><circle cx="877.9" cy="648.2" r="2.7"/><circle cx="926.2" cy="650.6" r="2.7"/><circle cx="1066.9" cy="650.3" r="2.7"/><circle cx="970.3" cy="653.9" r="2.7"/><circle cx="958.5" cy="656.8" r="2.7"/><circle cx="1038.2" cy="656.4" r="2.7"/><circle cx="974.8" cy="664.9" r="2.7"/><circle cx="991.8" cy="664.9" r="2.7"/><circle cx="937.3" cy="667.6" r="2.7"/><circle cx="885.5" cy="669.3" r="2.7"/><circle cx="957.4" cy="670.1" r="2.7"/><circle cx="907" cy="673.2" r="2.7"/><circle cx="1068" cy="674" r="2.7"/><circle cx="1033.8" cy="677.5" r="2.7"/><circle cx="1037.3" cy="677.5" r="2.7"/><circle cx="974.8" cy="678.7" r="2.7"/><circle cx="1042.2" cy="682.8" r="2.7"/><circle cx="927.1" cy="683.1" r="2.7"/><circle cx="1082.1" cy="683.7" r="2.7"/><circle cx="881.8" cy="684.9" r="2.7"/><circle cx="901.9" cy="688.4" r="2.7"/><circle cx="1013" cy="688.4" r="2.7"/><circle cx="1069.3" cy="692.8" r="2.7"/><circle cx="939.1" cy="700" r="2.7"/><circle cx="1005.3" cy="703.9" r="2.7"/><circle cx="924.8" cy="704.5" r="2.7"/><circle cx="1064.6" cy="704.5" r="2.7"/><circle cx="895.7" cy="707.2" r="2.7"/><circle cx="949.6" cy="713.5" r="2.7"/><circle cx="965.5" cy="717" r="2.7"/><circle cx="1015.3" cy="716.4" r="2.7"/><circle cx="1066.4" cy="715.8" r="2.7"/><circle cx="883.5" cy="720.9" r="2.7"/><circle cx="900.4" cy="721.8" r="2.7"/><circle cx="880.6" cy="725.9" r="2.7"/><circle cx="1022.6" cy="725.9" r="2.7"/><circle cx="1036.1" cy="732.8" r="2.7"/><circle cx="895.3" cy="734.7" r="2.7"/><circle cx="1055.7" cy="734.4" r="2.7"/><circle cx="933.4" cy="738.5" r="2.7"/><circle cx="944.1" cy="737.3" r="2.7"/><circle cx="879.4" cy="741.4" r="2.7"/><circle cx="1004.1" cy="741.4" r="2.7"/><circle cx="1072.1" cy="742" r="2.7"/><circle cx="967.6" cy="744" r="2.7"/><circle cx="970.5" cy="745.7" r="2.7"/><circle cx="884.6" cy="745.3" r="2.7"/><circle cx="890.2" cy="746.9" r="2.7"/><circle cx="1061" cy="744.7" r="2.7"/><circle cx="905.8" cy="749.6" r="2.7"/><circle cx="899.6" cy="752.3" r="2.7"/><circle cx="963.7" cy="751.7" r="2.7"/></g><g fill="#008000"><circle cx="213.3" cy="86.7" r="2.7"/><circle cx="222.7" cy="78.3" r="2.7"/><circle cx="222.7" cy="82.1" r="2.7"/><circle cx="235.2" cy="70.8" r="2.7"/><circle cx="238.3" cy="69.1" r="2.7"/><circle cx="238.3" cy="64.2" r="2.7"/><circle cx="243.1" cy="61" r="2.7"/><circle cx="245.8" cy="63.9" r="2.7"/><circle cx="250.8" cy="75.1" r="2.7"/><circle cx="256.4" cy="75.8" r="2.7"/><circle cx="257.2" cy="79.7" r="2.7"/><circle cx="262.7" cy="59.9" r="2.7"/><circle cx="266.7" cy="59.1" r="2.7"/><circle cx="262.7" cy="65" r="2.7"/><circle cx="263.1" cy="66.8" r="2.7"/><circle cx="273.4" cy="63.1" r="2.7"/><circle cx="275.8" cy="62.7" r="2.7"/><circle cx="275.4" cy="64.5" r="2.7"/><circle cx="278.8" cy="65.9" r="2.7"/><circle cx="281.7" cy="65.4" r="2.7"/><circle cx="288.2" cy="60.5" r="2.7"/><circle cx="289.3" cy="62.2" r="2.7"/><circle cx="292" cy="63.2" r="2.7"/><circle cx="286.9" cy="64" r="2.7"/><circle cx="297.9" cy="65.4" r="2.7"/><circle cx="298.3" cy="66.2" r="2.7"/><circle cx="303.2" cy="61.2" r="2.7"/><circle cx="285.6" cy="70.3" r="2.7"/><circle cx="290.1" cy="69.3" r="2.7"/><circle cx="291.2" cy="70.8" r="2.7"/><circle cx="289.7" cy="72.6" r="2.7"/><circle cx="302.9" cy="69.4" r="2.7"/><circle cx="306.2" cy="66.9" r="2.7"/><circle cx="309.6" cy="67.7" r="2.7"/><circle cx="306.2" cy="72.6" r="2.7"/><circle cx="303.2" cy="74.1" r="2.7"/><circle cx="313.4" cy="73.2" r="2.7"/><circle cx="313.8" cy="75.8" r="2.7"/><circle cx="309.4" cy="77.2" r="2.7"/><circle cx="301" cy="81" r="2.7"/><circle cx="311.3" cy="82.6" r="2.7"/><circle cx="315.2" cy="84.1" r="2.7"/><circle cx="317.4" cy="87" r="2.7"/><circle cx="320.9" cy="90" r="2.7"/><circle cx="288.6" cy="89.2" r="2.7"/><circle cx="319" cy="99.4" r="2.7"/><circle cx="327.6" cy="102" r="2.7"/><circle cx="330.4" cy="110.3" r="2.7"/><circle cx="339" cy="115.4" r="2.7"/><circle cx="367.7" cy="113.2" r="2.7"/><circle cx="373.5" cy="117.9" r="2.7"/><circle cx="375.8" cy="118.9" r="2.7"/><circle cx="349.1" cy="123.1" r="2.7"/><circle cx="352.9" cy="123.8" r="2.7"/><circle cx="354.2" cy="124.7" r="2.7"/><circle cx="363.6" cy="123.4" r="2.7"/><circle cx="336.1" cy="125.8" r="2.7"/><circle cx="320.4" cy="129.4" r="2.7"/><circle cx="344.2" cy="128.9" r="2.7"/><circle cx="348" cy="128.1" r="2.7"/><circle cx="359" cy="128" r="2.7"/><circle cx="365.4" cy="127" r="2.7"/><circle cx="372.4" cy="127.3" r="2.7"/><circle cx="376.9" cy="127.9" r="2.7"/><circle cx="386.6" cy="126.2" r="2.7"/><circle cx="389.7" cy="126.9" r="2.7"/><circle cx="393.1" cy="127.7" r="2.7"/><circle cx="382.2" cy="129.4" r="2.7"/><circle cx="373" cy="130.7" r="2.7"/><circle cx="380.3" cy="130.9" r="2.7"/><circle cx="384.8" cy="131.6" r="2.7"/><circle cx="379.2" cy="132.6" r="2.7"/><circle cx="392.7" cy="132.1" r="2.7"/><circle cx="391.6" cy="133" r="2.7"/><circle cx="367.5" cy="133.9" r="2.7"/><circle cx="377.7" cy="134" r="2.7"/><circle cx="385.6" cy="133.9" r="2.7"/><circle cx="397.9" cy="134.1" r="2.7"/><circle cx="394.5" cy="135" r="2.7"/><circle cx="394.9" cy="136.4" r="2.7"/><circle cx="374.3" cy="136.3" r="2.7"/><circle cx="334" cy="135.7" r="2.7"/><circle cx="341.4" cy="135.5" r="2.7"/><circle cx="357.7" cy="138.9" r="2.7"/><circle cx="389.9" cy="139.7" r="2.7"/><circle cx="380.4" cy="141.4" r="2.7"/><circle cx="354.2" cy="143.1" r="2.7"/><circle cx="413.3" cy="128.6" r="2.7"/><circle cx="396.6" cy="145.2" r="2.7"/><circle cx="403.6" cy="144.2" r="2.7"/><circle cx="413.7" cy="144" r="2.7"/><circle cx="416.3" cy="146.9" r="2.7"/><circle cx="425" cy="145.7" r="2.7"/><circle cx="411.5" cy="149.3" r="2.7"/><circle cx="433.2" cy="148.1" r="2.7"/><circle cx="440.2" cy="146.8" r="2.7"/><circle cx="456.8" cy="138.6" r="2.7"/><circle cx="459.5" cy="146.7" r="2.7"/><circle cx="434.4" cy="150.3" r="2.7"/><circle cx="441.1" cy="151.9" r="2.7"/><circle cx="434.7" cy="153.3" r="2.7"/><circle cx="443.4" cy="154.5" r="2.7"/><circle cx="461.2" cy="152.8" r="2.7"/><circle cx="435.9" cy="163.3" r="2.7"/><circle cx="439" cy="162.5" r="2.7"/><circle cx="452.4" cy="159.8" r="2.7"/><circle cx="452.5" cy="161.1" r="2.7"/><circle cx="458" cy="160" r="2.7"/><circle cx="467.3" cy="159.2" r="2.7"/><circle cx="483.1" cy="159.9" r="2.7"/><circle cx="472.9" cy="162.1" r="2.7"/><circle cx="461.5" cy="162.9" r="2.7"/><circle cx="474" cy="167.1" r="2.7"/><circle cx="477.7" cy="167.8" r="2.7"/><circle cx="481.8" cy="167.4" r="2.7"/><circle cx="476.9" cy="171" r="2.7"/><circle cx="490.2" cy="171.1" r="2.7"/><circle cx="548.8" cy="164.5" r="2.7"/><circle cx="550.3" cy="167.4" r="2.7"/><circle cx="526.8" cy="176.9" r="2.7"/><circle cx="518.4" cy="178.3" r="2.7"/><circle cx="517.3" cy="182.7" r="2.7"/><circle cx="507.9" cy="184.2" r="2.7"/><circle cx="520.1" cy="184.8" r="2.7"/><circle cx="509.4" cy="187" r="2.7"/><circle cx="509.8" cy="189.2" r="2.7"/><circle cx="515.7" cy="189.9" r="2.7"/><circle cx="513.2" cy="192.1" r="2.7"/><circle cx="516.9" cy="193" r="2.7"/><circle cx="524.7" cy="191.9" r="2.7"/><circle cx="506.3" cy="193.3" r="2.7"/><circle cx="504.4" cy="197.4" r="2.7"/><circle cx="524.7" cy="196.7" r="2.7"/><circle cx="529.3" cy="197.5" r="2.7"/><circle cx="531.2" cy="198.1" r="2.7"/><circle cx="522.9" cy="198.9" r="2.7"/><circle cx="529.1" cy="199.8" r="2.7"/><circle cx="520.7" cy="202" r="2.7"/><circle cx="519.4" cy="203.5" r="2.7"/><circle cx="530.2" cy="202.4" r="2.7"/><circle cx="530.2" cy="204.7" r="2.7"/><circle cx="534.2" cy="206.6" r="2.7"/><circle cx="538.3" cy="207.8" r="2.7"/><circle cx="546.1" cy="205.9" r="2.7"/><circle cx="508.3" cy="211.4" r="2.7"/><circle cx="556.2" cy="181.3" r="2.7"/><circle cx="565.2" cy="188.2" r="2.7"/><circle cx="583.4" cy="180" r="2.7"/><circle cx="596.2" cy="179.8" r="2.7"/><circle cx="605.8" cy="178.7" r="2.7"/><circle cx="610.4" cy="182.1" r="2.7"/><circle cx="583.6" cy="183.7" r="2.7"/><circle cx="604.8" cy="183.7" r="2.7"/><circle cx="595.4" cy="184.7" r="2.7"/><circle cx="599.2" cy="184.8" r="2.7"/><circle cx="589.4" cy="186.4" r="2.7"/><circle cx="575.4" cy="190.6" r="2.7"/><circle cx="578.5" cy="191.7" r="2.7"/><circle cx="583.4" cy="190.4" r="2.7"/><circle cx="591.1" cy="191" r="2.7"/><circle cx="582.4" cy="193.6" r="2.7"/><circle cx="602" cy="192.3" r="2.7"/><circle cx="599.8" cy="193.5" r="2.7"/><circle cx="581.4" cy="197" r="2.7"/><circle cx="575.2" cy="198" r="2.7"/><circle cx="605.4" cy="196.8" r="2.7"/><circle cx="573.4" cy="200.7" r="2.7"/><circle cx="587.9" cy="201.6" r="2.7"/><circle cx="568.2" cy="202.8" r="2.7"/><circle cx="558.2" cy="202.8" r="2.7"/><circle cx="560.9" cy="204.2" r="2.7"/><circle cx="557.1" cy="205.4" r="2.7"/><circle cx="553" cy="205.9" r="2.7"/><circle cx="555.6" cy="206.8" r="2.7"/><circle cx="552.2" cy="207.8" r="2.7"/><circle cx="574.8" cy="204.7" r="2.7"/><circle cx="607.8" cy="204.5" r="2.7"/><circle cx="560.1" cy="208.1" r="2.7"/><circle cx="564" cy="207.6" r="2.7"/><circle cx="571.8" cy="206.9" r="2.7"/><circle cx="574" cy="207.6" r="2.7"/><circle cx="569" cy="209.5" r="2.7"/><circle cx="594.5" cy="207" r="2.7"/><circle cx="600.5" cy="208.2" r="2.7"/><circle cx="543" cy="212.1" r="2.7"/><circle cx="546.3" cy="212.6" r="2.7"/><circle cx="548.6" cy="213.8" r="2.7"/><circle cx="552.5" cy="212.7" r="2.7"/><circle cx="567.8" cy="213.1" r="2.7"/><circle cx="570.4" cy="214" r="2.7"/><circle cx="618.3" cy="210.2" r="2.7"/><circle cx="614.6" cy="211.2" r="2.7"/><circle cx="630.9" cy="209.6" r="2.7"/><circle cx="621.7" cy="214.4" r="2.7"/><circle cx="634.5" cy="214.3" r="2.7"/><circle cx="637.1" cy="216.2" r="2.7"/><circle cx="624.7" cy="219.9" r="2.7"/><circle cx="642.1" cy="212.8" r="2.7"/><circle cx="645.9" cy="213.1" r="2.7"/><circle cx="643.3" cy="214.9" r="2.7"/><circle cx="658.3" cy="189.8" r="2.7"/><circle cx="691.9" cy="184.8" r="2.7"/><circle cx="734.2" cy="183.7" r="2.7"/><circle cx="758.4" cy="184.5" r="2.7"/><circle cx="723.3" cy="189.1" r="2.7"/><circle cx="749.8" cy="187.7" r="2.7"/><circle cx="755.3" cy="187.3" r="2.7"/><circle cx="768" cy="187.1" r="2.7"/><circle cx="771.7" cy="187.9" r="2.7"/><circle cx="766.8" cy="188.5" r="2.7"/><circle cx="710.2" cy="193.5" r="2.7"/><circle cx="732.3" cy="194.3" r="2.7"/><circle cx="692.5" cy="196.2" r="2.7"/><circle cx="690.1" cy="200.9" r="2.7"/><circle cx="707.1" cy="200.3" r="2.7"/><circle cx="710.2" cy="199.8" r="2.7"/><circle cx="729.5" cy="201" r="2.7"/><circle cx="711.4" cy="203.8" r="2.7"/><circle cx="676.7" cy="207.9" r="2.7"/><circle cx="680.9" cy="209.5" r="2.7"/><circle cx="689.4" cy="208" r="2.7"/><circle cx="688.7" cy="209" r="2.7"/><circle cx="669.7" cy="211.1" r="2.7"/><circle cx="667.7" cy="212.5" r="2.7"/><circle cx="664.1" cy="213.1" r="2.7"/><circle cx="678.4" cy="215.7" r="2.7"/><circle cx="683.5" cy="218.9" r="2.7"/><circle cx="657.9" cy="219.8" r="2.7"/><circle cx="653.2" cy="221.3" r="2.7"/><circle cx="756.5" cy="176" r="2.7"/><circle cx="775.6" cy="195.5" r="2.7"/><circle cx="780.9" cy="197" r="2.7"/><circle cx="787.6" cy="199.6" r="2.7"/><circle cx="792.5" cy="200.2" r="2.7"/><circle cx="798.7" cy="199.9" r="2.7"/><circle cx="795.4" cy="202.2" r="2.7"/><circle cx="799.6" cy="204.4" r="2.7"/><circle cx="797.3" cy="205.8" r="2.7"/><circle cx="793.9" cy="209" r="2.7"/><circle cx="797.4" cy="213.4" r="2.7"/><circle cx="809.2" cy="191.5" r="2.7"/><circle cx="816" cy="193.7" r="2.7"/><circle cx="825.2" cy="194.6" r="2.7"/><circle cx="828.6" cy="194.5" r="2.7"/><circle cx="840.2" cy="194.2" r="2.7"/><circle cx="809.1" cy="200.7" r="2.7"/><circle cx="814.3" cy="201.9" r="2.7"/><circle cx="818.3" cy="204.6" r="2.7"/><circle cx="810.4" cy="206.1" r="2.7"/><circle cx="831.9" cy="205.5" r="2.7"/><circle cx="833.9" cy="186.1" r="2.7"/><circle cx="840.2" cy="187.6" r="2.7"/><circle cx="842.8" cy="186.9" r="2.7"/><circle cx="849.2" cy="187.3" r="2.7"/><circle cx="859.2" cy="189.7" r="2.7"/><circle cx="850.3" cy="175.4" r="2.7"/><circle cx="852.4" cy="179.3" r="2.7"/><circle cx="859.6" cy="179.4" r="2.7"/><circle cx="856.7" cy="181.9" r="2.7"/><circle cx="861.9" cy="164.7" r="2.7"/><circle cx="870" cy="168.9" r="2.7"/><circle cx="878.9" cy="169" r="2.7"/><circle cx="876.4" cy="164.9" r="2.7"/><circle cx="878.9" cy="166.6" r="2.7"/><circle cx="879.8" cy="163.4" r="2.7"/><circle cx="882.6" cy="162.1" r="2.7"/><circle cx="890.1" cy="160.1" r="2.7"/><circle cx="893.8" cy="161.6" r="2.7"/><circle cx="887.3" cy="167.1" r="2.7"/><circle cx="892.1" cy="167.8" r="2.7"/><circle cx="895.9" cy="167.2" r="2.7"/><circle cx="895.3" cy="165.5" r="2.7"/><circle cx="904.9" cy="165.2" r="2.7"/><circle cx="904" cy="169" r="2.7"/><circle cx="901.4" cy="170.8" r="2.7"/><circle cx="909.1" cy="160.8" r="2.7"/><circle cx="919.7" cy="161.8" r="2.7"/><circle cx="911.9" cy="165.9" r="2.7"/><circle cx="917.3" cy="165.5" r="2.7"/><circle cx="918.2" cy="166.4" r="2.7"/><circle cx="911.8" cy="171.4" r="2.7"/><circle cx="928.5" cy="167.2" r="2.7"/><circle cx="932.4" cy="167" r="2.7"/><circle cx="933.1" cy="170.4" r="2.7"/><circle cx="930.8" cy="171.1" r="2.7"/><circle cx="927.1" cy="175.1" r="2.7"/><circle cx="932.7" cy="178.4" r="2.7"/><circle cx="941.7" cy="161.8" r="2.7"/><circle cx="939.9" cy="159.6" r="2.7"/><circle cx="941.9" cy="157.4" r="2.7"/><circle cx="945.1" cy="156.1" r="2.7"/><circle cx="949.9" cy="155.7" r="2.7"/><circle cx="946.9" cy="153.5" r="2.7"/><circle cx="950.1" cy="151.9" r="2.7"/><circle cx="949.8" cy="151.2" r="2.7"/><circle cx="951.5" cy="147.3" r="2.7"/><circle cx="953.7" cy="148.8" r="2.7"/><circle cx="957.1" cy="148.9" r="2.7"/><circle cx="960.1" cy="145.3" r="2.7"/><circle cx="948" cy="143.3" r="2.7"/><circle cx="954.3" cy="142.5" r="2.7"/><circle cx="967.6" cy="136.7" r="2.7"/><circle cx="1001" cy="103.3" r="2.7"/><circle cx="1004.1" cy="109" r="2.7"/><circle cx="1009.2" cy="112.6" r="2.7"/><circle cx="996.7" cy="114.4" r="2.7"/><circle cx="992.3" cy="118.6" r="2.7"/><circle cx="990.3" cy="120.1" r="2.7"/><circle cx="980.9" cy="124" r="2.7"/><circle cx="980.1" cy="126.6" r="2.7"/><circle cx="985.1" cy="129" r="2.7"/><circle cx="1011.3" cy="123.9" r="2.7"/><circle cx="1058.5" cy="115.4" r="2.7"/><circle cx="1065.1" cy="117.8" r="2.7"/><circle cx="1065.7" cy="126.1" r="2.7"/><circle cx="1074" cy="130.6" r="2.7"/><circle cx="1081.6" cy="173.2" r="2.7"/><circle cx="1074" cy="176.4" r="2.7"/><circle cx="1076" cy="180.1" r="2.7"/><circle cx="537.3" cy="222.3" r="2.7"/><circle cx="530.4" cy="225.6" r="2.7"/><circle cx="548" cy="232.3" r="2.7"/><circle cx="604.7" cy="232.5" r="2.7"/><circle cx="617.1" cy="231.8" r="2.7"/><circle cx="747.1" cy="172.6" r="2.7"/><circle cx="710.7" cy="178.8" r="2.7"/><circle cx="739.2" cy="180" r="2.7"/><circle cx="749.1" cy="179.1" r="2.7"/></g>
<rect x="174" y="21.2" width="913.8" height="767.2" fill="none" stroke="#000" stroke-width="2.1"/>
<line x1="176.6" y1="788.4" x2="176.6" y2="797.1" stroke="#000" stroke-width="2.1"/>
<text class="tk" x="176.2" y="836.6" font-size="42" text-anchor="middle">632<tspan dx="-5.46" dy="1.2" font-family="Liberation Serif, DejaVu Serif, serif" font-weight="bold" font-size="43.7">,</tspan><tspan dx="-5.46" dy="-1.2">376</tspan></text>
<line x1="479.4" y1="788.4" x2="479.4" y2="797.1" stroke="#000" stroke-width="2.1"/>
<text class="tk" x="479" y="836.6" font-size="42" text-anchor="middle">632<tspan dx="-5.46" dy="1.2" font-family="Liberation Serif, DejaVu Serif, serif" font-weight="bold" font-size="43.7">,</tspan><tspan dx="-5.46" dy="-1.2">954</tspan></text>
<line x1="782.2" y1="788.4" x2="782.2" y2="797.1" stroke="#000" stroke-width="2.1"/>
<text class="tk" x="781.8" y="836.6" font-size="42" text-anchor="middle">633<tspan dx="-5.46" dy="1.2" font-family="Liberation Serif, DejaVu Serif, serif" font-weight="bold" font-size="43.7">,</tspan><tspan dx="-5.46" dy="-1.2">532</tspan></text>
<line x1="1085" y1="788.4" x2="1085" y2="797.1" stroke="#000" stroke-width="2.1"/>
<text class="tk" x="1084.6" y="836.6" font-size="42" text-anchor="middle">634<tspan dx="-5.46" dy="1.2" font-family="Liberation Serif, DejaVu Serif, serif" font-weight="bold" font-size="43.7">,</tspan><tspan dx="-5.46" dy="-1.2">110</tspan></text>
<line x1="165.4" y1="127.3" x2="174" y2="127.3" stroke="#000" stroke-width="2.1"/>
<text class="tk" x="157.7" y="142.6" font-size="42" text-anchor="end">10</text>
<line x1="165.4" y1="252.7" x2="174" y2="252.7" stroke="#000" stroke-width="2.1"/>
<text class="tk" x="157.7" y="268" font-size="42" text-anchor="end">0</text>
<line x1="165.4" y1="378.1" x2="174" y2="378.1" stroke="#000" stroke-width="2.1"/>
<text class="tk" x="157.7" y="393.4" font-size="42" text-anchor="end">−10</text>
<line x1="165.4" y1="503.6" x2="174" y2="503.6" stroke="#000" stroke-width="2.1"/>
<text class="tk" x="157.7" y="518.9" font-size="42" text-anchor="end">−20</text>
<line x1="165.4" y1="629" x2="174" y2="629" stroke="#000" stroke-width="2.1"/>
<text class="tk" x="157.7" y="644.3" font-size="42" text-anchor="end">−30</text>
<line x1="165.4" y1="754.4" x2="174" y2="754.4" stroke="#000" stroke-width="2.1"/>
<text class="tk" x="157.7" y="769.7" font-size="42" text-anchor="end">−40</text>
<text class="lb" transform="translate(629.4 884.7) scale(1.0915 1)" font-size="38.5" text-anchor="middle">Along_track_distance/m</text>
<text class="lb" transform="translate(53.5 408.3) rotate(-90)" font-size="42" text-anchor="middle">Elevation/m</text>
<g fill="#ffa500"><circle cx="1485.3" cy="56.4" r="2.7"/><circle cx="1490.9" cy="60.8" r="2.7"/><circle cx="1578.1" cy="60.2" r="2.7"/><circle cx="1596" cy="62" r="2.7"/><circle cx="1584.3" cy="67.3" r="2.7"/><circle cx="1595.2" cy="73.7" r="2.7"/><circle cx="1635.9" cy="69" r="2.7"/><circle cx="1675" cy="73.4" r="2.7"/><circle cx="1448.7" cy="78.9" r="2.7"/><circle cx="1461" cy="83.3" r="2.7"/><circle cx="1506.4" cy="91.2" r="2.7"/><circle cx="1653.1" cy="96.1" r="2.7"/><circle cx="1586.4" cy="99.6" r="2.7"/><circle cx="1538.6" cy="101.6" r="2.7"/><circle cx="1617.1" cy="108.7" r="2.7"/><circle cx="1475.1" cy="114.9" r="2.7"/><circle cx="1480.6" cy="116.8" r="2.7"/><circle cx="1482.9" cy="119.1" r="2.7"/><circle cx="1483.5" cy="122" r="2.7"/><circle cx="1476.3" cy="122" r="2.7"/><circle cx="1506" cy="116.8" r="2.7"/><circle cx="1562.6" cy="114.2" r="2.7"/><circle cx="1568.8" cy="113.9" r="2.7"/><circle cx="1571.2" cy="117.1" r="2.7"/><circle cx="1548.6" cy="119.7" r="2.7"/><circle cx="1556" cy="122.4" r="2.7"/><circle cx="1579.6" cy="122.4" r="2.7"/><circle cx="1617.7" cy="121.2" r="2.7"/><circle cx="1456.6" cy="124.4" r="2.7"/><circle cx="1495.8" cy="127.1" r="2.7"/><circle cx="1503.1" cy="125.3" r="2.7"/><circle cx="1545.6" cy="125.9" r="2.7"/><circle cx="1554.2" cy="128.5" r="2.7"/><circle cx="1525.5" cy="133.8" r="2.7"/><circle cx="1578.5" cy="135.2" r="2.7"/><circle cx="1575.2" cy="138" r="2.7"/><circle cx="1477.4" cy="137" r="2.7"/><circle cx="1475.1" cy="140.7" r="2.7"/><circle cx="1461" cy="140.1" r="2.7"/><circle cx="1498.8" cy="138.3" r="2.7"/><circle cx="1544.8" cy="148.5" r="2.7"/><circle cx="1550" cy="150.3" r="2.7"/><circle cx="1509.9" cy="150.3" r="2.7"/><circle cx="1509.9" cy="157.7" r="2.7"/><circle cx="1578.5" cy="153" r="2.7"/><circle cx="1635.9" cy="148.1" r="2.7"/><circle cx="1565.6" cy="159" r="2.7"/><circle cx="1447.8" cy="159.7" r="2.7"/><circle cx="1457.8" cy="163.8" r="2.7"/><circle cx="1466.8" cy="166.1" r="2.7"/><circle cx="1529.5" cy="164.8" r="2.7"/><circle cx="1555.4" cy="167.3" r="2.7"/><circle cx="1614.4" cy="167.3" r="2.7"/><circle cx="1650.3" cy="167.9" r="2.7"/><circle cx="1488.5" cy="168.4" r="2.7"/><circle cx="1495.8" cy="168.7" r="2.7"/><circle cx="1495.8" cy="174.2" r="2.7"/><circle cx="1521.6" cy="174.3" r="2.7"/><circle cx="1547" cy="174.8" r="2.7"/><circle cx="1510.5" cy="179.4" r="2.7"/><circle cx="1562.6" cy="180.6" r="2.7"/><circle cx="1618.3" cy="180.9" r="2.7"/><circle cx="1645.8" cy="184.4" r="2.7"/><circle cx="1452.1" cy="188.2" r="2.7"/><circle cx="1527.5" cy="188.2" r="2.7"/><circle cx="1588.4" cy="197.3" r="2.7"/><circle cx="1589" cy="202.1" r="2.7"/><circle cx="1584.5" cy="204.5" r="2.7"/><circle cx="1462.8" cy="200.4" r="2.7"/><circle cx="1456.6" cy="203.9" r="2.7"/><circle cx="1493.5" cy="206.8" r="2.7"/><circle cx="1534.5" cy="205.4" r="2.7"/><circle cx="1535.7" cy="207.4" r="2.7"/><circle cx="1636.2" cy="207.4" r="2.7"/><circle cx="1449.9" cy="209.8" r="2.7"/><circle cx="1627.7" cy="212.5" r="2.7"/><circle cx="1603.1" cy="215.2" r="2.7"/><circle cx="1618.9" cy="215.2" r="2.7"/><circle cx="1449.5" cy="215.6" r="2.7"/><circle cx="1452.2" cy="216.6" r="2.7"/><circle cx="1544.7" cy="217.5" r="2.7"/><circle cx="1609.3" cy="220.3" r="2.7"/><circle cx="1646.4" cy="221.7" r="2.7"/><circle cx="1733" cy="57.9" r="2.7"/><circle cx="1773.7" cy="56.9" r="2.7"/><circle cx="1792.1" cy="58.5" r="2.7"/><circle cx="1797.4" cy="58.5" r="2.7"/><circle cx="1792.1" cy="63.2" r="2.7"/><circle cx="1807" cy="57.3" r="2.7"/><circle cx="1811.5" cy="60.8" r="2.7"/><circle cx="1782.8" cy="66.7" r="2.7"/><circle cx="1756.4" cy="67.8" r="2.7"/><circle cx="1843.5" cy="63.2" r="2.7"/><circle cx="1864.2" cy="64.6" r="2.7"/><circle cx="1899.6" cy="57.1" r="2.7"/><circle cx="1898.4" cy="62.2" r="2.7"/><circle cx="1831.6" cy="70.4" r="2.7"/><circle cx="1831.6" cy="75.6" r="2.7"/><circle cx="1694.9" cy="70.4" r="2.7"/><circle cx="1686.3" cy="86.7" r="2.7"/><circle cx="1785.5" cy="85.7" r="2.7"/><circle cx="1763.2" cy="90" r="2.7"/><circle cx="1805.9" cy="92" r="2.7"/><circle cx="1885.1" cy="82.7" r="2.7"/><circle cx="1869.3" cy="92.9" r="2.7"/><circle cx="1740.2" cy="95.8" r="2.7"/><circle cx="1795.1" cy="101.6" r="2.7"/><circle cx="1825.3" cy="99.6" r="2.7"/><circle cx="1837.9" cy="98.5" r="2.7"/><circle cx="1847.2" cy="105.1" r="2.7"/><circle cx="1704.3" cy="101.4" r="2.7"/><circle cx="1697.5" cy="107.5" r="2.7"/><circle cx="1753.1" cy="111.6" r="2.7"/><circle cx="1803" cy="110.2" r="2.7"/><circle cx="1807.6" cy="115.5" r="2.7"/><circle cx="1848.4" cy="118.8" r="2.7"/><circle cx="1696.9" cy="120.9" r="2.7"/><circle cx="1726.2" cy="120.9" r="2.7"/><circle cx="1714.5" cy="125" r="2.7"/><circle cx="1764.3" cy="122.3" r="2.7"/><circle cx="1762.5" cy="126.5" r="2.7"/><circle cx="1793.9" cy="127" r="2.7"/><circle cx="1832.2" cy="125.9" r="2.7"/><circle cx="1886.7" cy="122.4" r="2.7"/><circle cx="1887.1" cy="129.3" r="2.7"/><circle cx="1876.5" cy="129.1" r="2.7"/><circle cx="1860.1" cy="132.4" r="2.7"/><circle cx="1762.5" cy="138.3" r="2.7"/><circle cx="1794.5" cy="136.1" r="2.7"/><circle cx="1796.8" cy="140.1" r="2.7"/><circle cx="1850.2" cy="137.2" r="2.7"/><circle cx="1842.9" cy="138.7" r="2.7"/><circle cx="1866" cy="142.2" r="2.7"/><circle cx="1828.7" cy="145" r="2.7"/><circle cx="1736.8" cy="141.3" r="2.7"/><circle cx="1795.1" cy="156.3" r="2.7"/><circle cx="1805.3" cy="154.8" r="2.7"/><circle cx="1815.9" cy="155.1" r="2.7"/><circle cx="1895.3" cy="156.2" r="2.7"/><circle cx="1901.4" cy="162.5" r="2.7"/><circle cx="1692.3" cy="161.3" r="2.7"/><circle cx="1698.2" cy="170.8" r="2.7"/><circle cx="1694.5" cy="173.4" r="2.7"/><circle cx="1726.5" cy="174.3" r="2.7"/><circle cx="1730" cy="173.4" r="2.7"/><circle cx="1732.7" cy="176.1" r="2.7"/><circle cx="1766.6" cy="174.3" r="2.7"/><circle cx="1704.8" cy="180.9" r="2.7"/><circle cx="1679.6" cy="188.2" r="2.7"/><circle cx="1690.2" cy="206.8" r="2.7"/><circle cx="1737.9" cy="213.6" r="2.7"/><circle cx="1735.9" cy="215.6" r="2.7"/><circle cx="1928.7" cy="56.9" r="2.7"/><circle cx="1946.6" cy="56.4" r="2.7"/><circle cx="1965.1" cy="56.1" r="2.7"/><circle cx="1962.7" cy="59.1" r="2.7"/><circle cx="2004.6" cy="58.7" r="2.7"/><circle cx="2014.5" cy="57.3" r="2.7"/><circle cx="2016.9" cy="56.7" r="2.7"/><circle cx="2029.8" cy="58.7" r="2.7"/><circle cx="2037.1" cy="56.4" r="2.7"/><circle cx="2077.5" cy="57.9" r="2.7"/><circle cx="2087.4" cy="57.3" r="2.7"/><circle cx="2074.5" cy="63.2" r="2.7"/><circle cx="2098.9" cy="60.8" r="2.7"/><circle cx="2138.3" cy="57.3" r="2.7"/><circle cx="2048.9" cy="67.8" r="2.7"/><circle cx="1988.7" cy="72.3" r="2.7"/><circle cx="2131.6" cy="68.4" r="2.7"/><circle cx="2107.3" cy="74.8" r="2.7"/><circle cx="2128.6" cy="75.6" r="2.7"/><circle cx="1913.5" cy="76.5" r="2.7"/><circle cx="1936.6" cy="76.8" r="2.7"/><circle cx="1938.9" cy="78.9" r="2.7"/><circle cx="1945.2" cy="78.3" r="2.7"/><circle cx="2017.5" cy="76.5" r="2.7"/><circle cx="2046.2" cy="77.5" r="2.7"/><circle cx="2055" cy="79.8" r="2.7"/><circle cx="2066.7" cy="81" r="2.7"/><circle cx="2116.8" cy="81" r="2.7"/><circle cx="2132.1" cy="83.8" r="2.7"/><circle cx="1930.4" cy="85.1" r="2.7"/><circle cx="1943.9" cy="86.3" r="2.7"/><circle cx="2011.8" cy="83.8" r="2.7"/><circle cx="1976.4" cy="88.5" r="2.7"/><circle cx="2100.7" cy="89.1" r="2.7"/><circle cx="1931.7" cy="92" r="2.7"/><circle cx="1994.4" cy="93.5" r="2.7"/><circle cx="2076.4" cy="93.3" r="2.7"/><circle cx="2111.8" cy="92.6" r="2.7"/><circle cx="2110" cy="94.4" r="2.7"/><circle cx="2133.8" cy="92.9" r="2.7"/><circle cx="2066.3" cy="95.3" r="2.7"/><circle cx="2080.4" cy="97.9" r="2.7"/><circle cx="2095.6" cy="97.3" r="2.7"/><circle cx="2020.2" cy="98.5" r="2.7"/><circle cx="1946.8" cy="101.6" r="2.7"/><circle cx="2105.6" cy="101.6" r="2.7"/><circle cx="2014.8" cy="105.7" r="2.7"/><circle cx="2084.8" cy="107.5" r="2.7"/><circle cx="2138.3" cy="109.3" r="2.7"/><circle cx="1925.8" cy="114.2" r="2.7"/><circle cx="1991.7" cy="117.4" r="2.7"/><circle cx="1994" cy="119.1" r="2.7"/><circle cx="2074.6" cy="119.1" r="2.7"/><circle cx="1944.6" cy="122" r="2.7"/><circle cx="2016.9" cy="121.2" r="2.7"/><circle cx="2018" cy="125.6" r="2.7"/><circle cx="1931.7" cy="125.6" r="2.7"/><circle cx="2029.2" cy="129.3" r="2.7"/><circle cx="1960.3" cy="134.1" r="2.7"/><circle cx="2101.8" cy="135.3" r="2.7"/><circle cx="2086.4" cy="137.2" r="2.7"/><circle cx="1958.5" cy="139.5" r="2.7"/><circle cx="1919.3" cy="140.7" r="2.7"/><circle cx="1965.9" cy="143.4" r="2.7"/><circle cx="1974.3" cy="145.1" r="2.7"/><circle cx="2069.3" cy="146.8" r="2.7"/><circle cx="2016.9" cy="153" r="2.7"/><circle cx="2031.5" cy="152.4" r="2.7"/><circle cx="1965.3" cy="155.6" r="2.7"/><circle cx="2050.5" cy="156.3" r="2.7"/><circle cx="2111.8" cy="155.3" r="2.7"/><circle cx="2105.6" cy="159" r="2.7"/><circle cx="1931" cy="161.7" r="2.7"/><circle cx="1938.9" cy="162.5" r="2.7"/><circle cx="1934.5" cy="167.9" r="2.7"/><circle cx="2073.7" cy="167.8" r="2.7"/><circle cx="2106.8" cy="168.1" r="2.7"/><circle cx="1948.3" cy="170.8" r="2.7"/><circle cx="2056.1" cy="170.8" r="2.7"/><circle cx="1914.3" cy="172.5" r="2.7"/><circle cx="1910.6" cy="175.5" r="2.7"/><circle cx="1987.6" cy="175.2" r="2.7"/><circle cx="2067.9" cy="179.2" r="2.7"/><circle cx="2011.8" cy="192.6" r="2.7"/><circle cx="2015.3" cy="197.6" r="2.7"/><circle cx="2005.7" cy="199.9" r="2.7"/><circle cx="1938.4" cy="197.6" r="2.7"/><circle cx="1946.6" cy="197.3" r="2.7"/><circle cx="1959.5" cy="198.3" r="2.7"/><circle cx="1934.5" cy="203.9" r="2.7"/><circle cx="1927.2" cy="207.4" r="2.7"/><circle cx="2018.9" cy="205.7" r="2.7"/><circle cx="2042.7" cy="206.2" r="2.7"/><circle cx="2038.6" cy="214.2" r="2.7"/><circle cx="2138.3" cy="213.6" r="2.7"/><circle cx="2251.7" cy="57.5" r="2.7"/><circle cx="2255.2" cy="56.7" r="2.7"/><circle cx="2329.8" cy="57.5" r="2.7"/><circle cx="2328.4" cy="61.4" r="2.7"/><circle cx="2307.3" cy="62.6" r="2.7"/><circle cx="2314" cy="61.2" r="2.7"/><circle cx="2342.2" cy="65.2" r="2.7"/><circle cx="2331.9" cy="66.1" r="2.7"/><circle cx="2148.9" cy="68.4" r="2.7"/><circle cx="2285.9" cy="68.4" r="2.7"/><circle cx="2306.2" cy="70.2" r="2.7"/><circle cx="2330.2" cy="70" r="2.7"/><circle cx="2163.2" cy="72.8" r="2.7"/><circle cx="2165.5" cy="72.8" r="2.7"/><circle cx="2283.5" cy="73.4" r="2.7"/><circle cx="2316.3" cy="72.3" r="2.7"/><circle cx="2322.8" cy="72.5" r="2.7"/><circle cx="2292.3" cy="76.2" r="2.7"/><circle cx="2297.6" cy="75.4" r="2.7"/><circle cx="2252" cy="79.5" r="2.7"/><circle cx="2260.4" cy="79.5" r="2.7"/><circle cx="2228.6" cy="83.3" r="2.7"/><circle cx="2299.9" cy="82.4" r="2.7"/><circle cx="2307.3" cy="82.4" r="2.7"/><circle cx="2309.7" cy="85.3" r="2.7"/><circle cx="2206" cy="85.7" r="2.7"/><circle cx="2163" cy="87.3" r="2.7"/><circle cx="2172" cy="88.5" r="2.7"/><circle cx="2186" cy="87.3" r="2.7"/><circle cx="2305.3" cy="87.9" r="2.7"/><circle cx="2338.7" cy="90" r="2.7"/><circle cx="2281.9" cy="93.5" r="2.7"/><circle cx="2301.5" cy="92.9" r="2.7"/><circle cx="2346.6" cy="96.4" r="2.7"/><circle cx="2314" cy="100.1" r="2.7"/><circle cx="2245.2" cy="101" r="2.7"/><circle cx="2246.4" cy="104" r="2.7"/><circle cx="2290" cy="103.6" r="2.7"/><circle cx="2325.7" cy="102.8" r="2.7"/><circle cx="2220.6" cy="106.9" r="2.7"/><circle cx="2299.9" cy="108.1" r="2.7"/><circle cx="2159.1" cy="112.5" r="2.7"/><circle cx="2239.4" cy="115.5" r="2.7"/><circle cx="2242.6" cy="113.9" r="2.7"/><circle cx="2183.3" cy="119.3" r="2.7"/><circle cx="2179.4" cy="122.4" r="2.7"/><circle cx="2153.8" cy="124.4" r="2.7"/><circle cx="2218.6" cy="130.5" r="2.7"/><circle cx="2235.3" cy="130.5" r="2.7"/><circle cx="2193.9" cy="131.2" r="2.7"/><circle cx="2331.9" cy="132.9" r="2.7"/><circle cx="2324.1" cy="139.3" r="2.7"/><circle cx="2252" cy="142.2" r="2.7"/><circle cx="2141.7" cy="147.5" r="2.7"/><circle cx="2278" cy="148.5" r="2.7"/><circle cx="2208.3" cy="148.9" r="2.7"/><circle cx="2208.3" cy="151.5" r="2.7"/><circle cx="2307.1" cy="151.8" r="2.7"/><circle cx="2220.6" cy="160.5" r="2.7"/><circle cx="2321.7" cy="175.5" r="2.7"/><circle cx="2144.4" cy="183.5" r="2.7"/><circle cx="2169.3" cy="184.2" r="2.7"/><circle cx="2347.4" cy="187.7" r="2.7"/><circle cx="2261.6" cy="194.7" r="2.7"/><circle cx="2271.8" cy="197.3" r="2.7"/><circle cx="2205.6" cy="202.7" r="2.7"/><circle cx="2223.5" cy="201" r="2.7"/><circle cx="2272.8" cy="202.9" r="2.7"/><circle cx="2278.6" cy="202.3" r="2.7"/><circle cx="2243.1" cy="204.5" r="2.7"/><circle cx="2261.3" cy="205.1" r="2.7"/><circle cx="2289.2" cy="210.4" r="2.7"/><circle cx="2191.7" cy="213.4" r="2.7"/><circle cx="2347.4" cy="215.2" r="2.7"/><circle cx="2263.6" cy="219.8" r="2.7"/><circle cx="2321.7" cy="219.5" r="2.7"/><circle cx="2223" cy="221.1" r="2.7"/><circle cx="2295.6" cy="222.9" r="2.7"/><circle cx="2298.5" cy="223.5" r="2.7"/><circle cx="1557.1" cy="230.5" r="2.7"/><circle cx="1573.4" cy="231.1" r="2.7"/><circle cx="1671.6" cy="234.8" r="2.7"/><circle cx="1675.8" cy="244.9" r="2.7"/><circle cx="1674.5" cy="251.7" r="2.7"/><circle cx="1533.9" cy="244.9" r="2.7"/><circle cx="1538.6" cy="245.5" r="2.7"/><circle cx="1561.1" cy="248.4" r="2.7"/><circle cx="1555.4" cy="250" r="2.7"/><circle cx="1550.3" cy="253.2" r="2.7"/><circle cx="1576.1" cy="249.4" r="2.7"/><circle cx="1579" cy="254.1" r="2.7"/><circle cx="1520.2" cy="257.2" r="2.7"/><circle cx="1520.7" cy="263.7" r="2.7"/><circle cx="1497.2" cy="259.3" r="2.7"/><circle cx="1495.2" cy="264.9" r="2.7"/><circle cx="1623.9" cy="256" r="2.7"/><circle cx="1614.8" cy="259" r="2.7"/><circle cx="1631.4" cy="263.9" r="2.7"/><circle cx="1626.1" cy="266.8" r="2.7"/><circle cx="1456.6" cy="268" r="2.7"/><circle cx="1452.1" cy="274.1" r="2.7"/><circle cx="1468.5" cy="275.9" r="2.7"/><circle cx="1602.7" cy="271.3" r="2.7"/><circle cx="1513.2" cy="280.9" r="2.7"/><circle cx="1513.4" cy="286.1" r="2.7"/><circle cx="1584.1" cy="281.5" r="2.7"/><circle cx="1622.8" cy="280.9" r="2.7"/><circle cx="1491.4" cy="287" r="2.7"/><circle cx="1535.7" cy="291" r="2.7"/><circle cx="1610.4" cy="291.9" r="2.7"/><circle cx="1535.7" cy="297.8" r="2.7"/><circle cx="1537.1" cy="301" r="2.7"/><circle cx="1582.9" cy="298" r="2.7"/><circle cx="1575.8" cy="299.9" r="2.7"/><circle cx="1572.2" cy="305" r="2.7"/><circle cx="1619.5" cy="302.1" r="2.7"/><circle cx="1601" cy="304.5" r="2.7"/><circle cx="1481.2" cy="310.6" r="2.7"/><circle cx="1502" cy="311.5" r="2.7"/><circle cx="1650.3" cy="308.3" r="2.7"/><circle cx="1649.6" cy="310.4" r="2.7"/><circle cx="1636.2" cy="311.2" r="2.7"/><circle cx="1548" cy="315.5" r="2.7"/><circle cx="1557.1" cy="315.5" r="2.7"/><circle cx="1627.9" cy="316.1" r="2.7"/><circle cx="1674" cy="315" r="2.7"/><circle cx="1657" cy="324.1" r="2.7"/><circle cx="1666.6" cy="325.7" r="2.7"/><circle cx="1662" cy="328.9" r="2.7"/><circle cx="1674" cy="329.2" r="2.7"/><circle cx="1518.5" cy="327.5" r="2.7"/><circle cx="1560.9" cy="328.7" r="2.7"/><circle cx="1582.9" cy="330.4" r="2.7"/><circle cx="1575.5" cy="332.8" r="2.7"/><circle cx="1622.2" cy="329.8" r="2.7"/><circle cx="1626.3" cy="331.8" r="2.7"/><circle cx="1492.6" cy="333.6" r="2.7"/><circle cx="1518.5" cy="334.8" r="2.7"/><circle cx="1669.9" cy="335.9" r="2.7"/><circle cx="1644.1" cy="340.4" r="2.7"/><circle cx="1490.2" cy="342.7" r="2.7"/><circle cx="1646.2" cy="345.9" r="2.7"/><circle cx="1453.9" cy="346.7" r="2.7"/><circle cx="1479.1" cy="349.9" r="2.7"/><circle cx="1662.6" cy="349.4" r="2.7"/><circle cx="1518.9" cy="354.9" r="2.7"/><circle cx="1470.4" cy="357.9" r="2.7"/><circle cx="1488" cy="359" r="2.7"/><circle cx="1553.6" cy="357.3" r="2.7"/><circle cx="1565.3" cy="360.8" r="2.7"/><circle cx="1621" cy="359" r="2.7"/><circle cx="1652" cy="359.8" r="2.7"/><circle cx="1491.4" cy="366.2" r="2.7"/><circle cx="1538" cy="366.8" r="2.7"/><circle cx="1595.2" cy="365.7" r="2.7"/><circle cx="1519.5" cy="370.1" r="2.7"/><circle cx="1568.3" cy="371.2" r="2.7"/><circle cx="1582.2" cy="373.6" r="2.7"/><circle cx="1529.8" cy="374.7" r="2.7"/><circle cx="1527.2" cy="377.4" r="2.7"/><circle cx="1649.1" cy="374.5" r="2.7"/><circle cx="1455.1" cy="376.7" r="2.7"/><circle cx="1498.2" cy="379.7" r="2.7"/><circle cx="1468.5" cy="382.6" r="2.7"/><circle cx="1585.1" cy="382.6" r="2.7"/><circle cx="1462.8" cy="386.7" r="2.7"/><circle cx="1642.9" cy="385.9" r="2.7"/><circle cx="1660.8" cy="386.5" r="2.7"/><circle cx="1676.8" cy="384.7" r="2.7"/><circle cx="1457.8" cy="396" r="2.7"/><circle cx="1466.2" cy="396.1" r="2.7"/><circle cx="1469.7" cy="399.5" r="2.7"/><circle cx="1617.1" cy="399.5" r="2.7"/><circle cx="1625.1" cy="398.1" r="2.7"/><circle cx="1638.5" cy="401" r="2.7"/><circle cx="1661.4" cy="408.2" r="2.7"/><circle cx="1662.6" cy="413" r="2.7"/><circle cx="1626.9" cy="412.3" r="2.7"/><circle cx="1600.4" cy="415" r="2.7"/><circle cx="1558.2" cy="416.1" r="2.7"/><circle cx="1516.1" cy="417.3" r="2.7"/><circle cx="1463.8" cy="421.2" r="2.7"/><circle cx="1680.6" cy="301.3" r="2.7"/><circle cx="1709.9" cy="228.7" r="2.7"/><circle cx="1717.1" cy="230.7" r="2.7"/><circle cx="1716" cy="233.7" r="2.7"/><circle cx="1780.4" cy="228.1" r="2.7"/><circle cx="1733" cy="242.7" r="2.7"/><circle cx="1851.9" cy="242.1" r="2.7"/><circle cx="1838.4" cy="248.4" r="2.7"/><circle cx="1779" cy="249.4" r="2.7"/><circle cx="1779.3" cy="251.1" r="2.7"/><circle cx="1692.5" cy="256.2" r="2.7"/><circle cx="1718.3" cy="257.2" r="2.7"/><circle cx="1760.5" cy="256.6" r="2.7"/><circle cx="1769.9" cy="256.4" r="2.7"/><circle cx="1767.5" cy="260.2" r="2.7"/><circle cx="1900.2" cy="256.2" r="2.7"/><circle cx="1811.5" cy="267.4" r="2.7"/><circle cx="1878.3" cy="266.6" r="2.7"/><circle cx="1748.6" cy="270.4" r="2.7"/><circle cx="1713.6" cy="272.5" r="2.7"/><circle cx="1900.5" cy="274.2" r="2.7"/><circle cx="1907" cy="274.2" r="2.7"/><circle cx="1908.2" cy="278.9" r="2.7"/><circle cx="1866.6" cy="276.2" r="2.7"/><circle cx="1873.8" cy="277.6" r="2.7"/><circle cx="1689.3" cy="281.5" r="2.7"/><circle cx="1765.4" cy="281.8" r="2.7"/><circle cx="1764" cy="285.8" r="2.7"/><circle cx="1866.6" cy="287.6" r="2.7"/><circle cx="1859.5" cy="289.2" r="2.7"/><circle cx="1783.6" cy="293.9" r="2.7"/><circle cx="1730" cy="295.7" r="2.7"/><circle cx="1882.1" cy="295.7" r="2.7"/><circle cx="1745.3" cy="312.7" r="2.7"/><circle cx="1873.2" cy="313.5" r="2.7"/><circle cx="1704.3" cy="317.4" r="2.7"/><circle cx="1707" cy="320.3" r="2.7"/><circle cx="1832.2" cy="322.9" r="2.7"/><circle cx="1713.9" cy="325.7" r="2.7"/><circle cx="1860.9" cy="330.1" r="2.7"/><circle cx="1720.7" cy="332.8" r="2.7"/><circle cx="1834.9" cy="332.8" r="2.7"/><circle cx="1783.9" cy="334.8" r="2.7"/><circle cx="1905.6" cy="334.8" r="2.7"/><circle cx="1838.4" cy="338.6" r="2.7"/><circle cx="1756.4" cy="342.7" r="2.7"/><circle cx="1762.5" cy="352.2" r="2.7"/><circle cx="1746.2" cy="355.5" r="2.7"/><circle cx="1776.7" cy="356.7" r="2.7"/><circle cx="1838.4" cy="359" r="2.7"/><circle cx="1867.5" cy="361" r="2.7"/><circle cx="1869.3" cy="365.5" r="2.7"/><circle cx="1713.6" cy="366.8" r="2.7"/><circle cx="1782.8" cy="367.4" r="2.7"/><circle cx="1849.2" cy="368.3" r="2.7"/><circle cx="1694.6" cy="370.1" r="2.7"/><circle cx="1888.8" cy="369.7" r="2.7"/><circle cx="1886.1" cy="371.8" r="2.7"/><circle cx="1707.5" cy="372.4" r="2.7"/><circle cx="1718.9" cy="375.1" r="2.7"/><circle cx="1694.6" cy="376.5" r="2.7"/><circle cx="1763.2" cy="376.9" r="2.7"/><circle cx="1680.8" cy="384.7" r="2.7"/><circle cx="1698.2" cy="386.5" r="2.7"/><circle cx="1830.5" cy="386.5" r="2.7"/><circle cx="1750.3" cy="388.7" r="2.7"/><circle cx="1786.9" cy="388.7" r="2.7"/><circle cx="1726.5" cy="391.1" r="2.7"/><circle cx="1875.9" cy="390.2" r="2.7"/><circle cx="1758.7" cy="395.2" r="2.7"/><circle cx="1682.9" cy="397.5" r="2.7"/><circle cx="1737.4" cy="398.7" r="2.7"/><circle cx="1801.3" cy="399" r="2.7"/><circle cx="1857.5" cy="401" r="2.7"/><circle cx="1689" cy="403" r="2.7"/><circle cx="1706.6" cy="406.6" r="2.7"/><circle cx="1782.2" cy="407.2" r="2.7"/><circle cx="1874.2" cy="407.7" r="2.7"/><circle cx="1731.2" cy="407.6" r="2.7"/><circle cx="1733" cy="412.9" r="2.7"/><circle cx="1892.3" cy="416.1" r="2.7"/><circle cx="1763.2" cy="417.3" r="2.7"/><circle cx="1738" cy="420" r="2.7"/><circle cx="2009" cy="225.4" r="2.7"/><circle cx="2094.2" cy="224.9" r="2.7"/><circle cx="2021.6" cy="229.5" r="2.7"/><circle cx="2127" cy="226.4" r="2.7"/><circle cx="1940.7" cy="233.1" r="2.7"/><circle cx="2046.2" cy="242.1" r="2.7"/><circle cx="2032.1" cy="245" r="2.7"/><circle cx="2086.4" cy="242.1" r="2.7"/><circle cx="2088.9" cy="242.9" r="2.7"/><circle cx="2051.2" cy="246.4" r="2.7"/><circle cx="2057.5" cy="247.8" r="2.7"/><circle cx="2125.9" cy="247" r="2.7"/><circle cx="1923.7" cy="249.6" r="2.7"/><circle cx="2038.3" cy="250.5" r="2.7"/><circle cx="2105.6" cy="250" r="2.7"/><circle cx="2084.8" cy="252.3" r="2.7"/><circle cx="2104.4" cy="254.1" r="2.7"/><circle cx="2045" cy="256.6" r="2.7"/><circle cx="2110.6" cy="259.1" r="2.7"/><circle cx="2027.7" cy="260.2" r="2.7"/><circle cx="1968.8" cy="259.3" r="2.7"/><circle cx="1969.4" cy="261.7" r="2.7"/><circle cx="1959.1" cy="264.3" r="2.7"/><circle cx="2069" cy="266.3" r="2.7"/><circle cx="2030" cy="270.1" r="2.7"/><circle cx="2084.8" cy="269.8" r="2.7"/><circle cx="1932.1" cy="272.5" r="2.7"/><circle cx="2106.2" cy="272.9" r="2.7"/><circle cx="2031.5" cy="278.8" r="2.7"/><circle cx="1965.3" cy="280.3" r="2.7"/><circle cx="2010.7" cy="280.3" r="2.7"/><circle cx="2042.9" cy="282.1" r="2.7"/><circle cx="2065.2" cy="281.1" r="2.7"/><circle cx="2090.9" cy="280.9" r="2.7"/><circle cx="2138.3" cy="278.3" r="2.7"/><circle cx="2132.1" cy="285.3" r="2.7"/><circle cx="2114.7" cy="294.1" r="2.7"/><circle cx="1960.9" cy="299.9" r="2.7"/><circle cx="1969.2" cy="299.2" r="2.7"/><circle cx="2057.5" cy="299.9" r="2.7"/><circle cx="2091.1" cy="298.7" r="2.7"/><circle cx="2045.6" cy="305.3" r="2.7"/><circle cx="2049.1" cy="307.4" r="2.7"/><circle cx="1928.4" cy="315" r="2.7"/><circle cx="2134.4" cy="315.6" r="2.7"/><circle cx="2028" cy="320.3" r="2.7"/><circle cx="1960" cy="322" r="2.7"/><circle cx="1932.1" cy="323.7" r="2.7"/><circle cx="1939.5" cy="324.6" r="2.7"/><circle cx="2059.6" cy="325.1" r="2.7"/><circle cx="2089.9" cy="324.6" r="2.7"/><circle cx="1996.7" cy="331.2" r="2.7"/><circle cx="1937.2" cy="331.6" r="2.7"/><circle cx="1947.7" cy="335.3" r="2.7"/><circle cx="1981.5" cy="335.9" r="2.7"/><circle cx="2115.3" cy="338" r="2.7"/><circle cx="2045.6" cy="345.3" r="2.7"/><circle cx="2110.4" cy="343.7" r="2.7"/><circle cx="2113.6" cy="346.7" r="2.7"/><circle cx="1923.1" cy="349.4" r="2.7"/><circle cx="2079.8" cy="349.9" r="2.7"/><circle cx="1989.9" cy="351.1" r="2.7"/><circle cx="2005.7" cy="357.9" r="2.7"/><circle cx="2018.6" cy="360.2" r="2.7"/><circle cx="2075.2" cy="360.2" r="2.7"/><circle cx="2118" cy="362.8" r="2.7"/><circle cx="1982.1" cy="365.1" r="2.7"/><circle cx="2023.1" cy="367.7" r="2.7"/><circle cx="1927.8" cy="371.2" r="2.7"/><circle cx="2037.7" cy="374.2" r="2.7"/><circle cx="2118.6" cy="375.3" r="2.7"/><circle cx="2074.3" cy="377.3" r="2.7"/><circle cx="1936.6" cy="380.8" r="2.7"/><circle cx="2088.1" cy="382" r="2.7"/><circle cx="1910.8" cy="383.2" r="2.7"/><circle cx="2076.4" cy="384.1" r="2.7"/><circle cx="2084.8" cy="398.1" r="2.7"/><circle cx="2119.8" cy="399.8" r="2.7"/><circle cx="2036.6" cy="405.1" r="2.7"/><circle cx="2082.7" cy="408.9" r="2.7"/><circle cx="2100.7" cy="415.6" r="2.7"/><circle cx="1938.4" cy="420.6" r="2.7"/><circle cx="2031.5" cy="420.6" r="2.7"/><circle cx="2130.1" cy="421.2" r="2.7"/><circle cx="2347.4" cy="224.6" r="2.7"/><circle cx="2266.3" cy="227.4" r="2.7"/><circle cx="2270.8" cy="236.3" r="2.7"/><circle cx="2317.3" cy="234.2" r="2.7"/><circle cx="2355.6" cy="234" r="2.7"/><circle cx="2335.4" cy="236" r="2.7"/><circle cx="2335.2" cy="240.4" r="2.7"/><circle cx="2356.2" cy="245" r="2.7"/><circle cx="2242.6" cy="242.6" r="2.7"/><circle cx="2184.5" cy="246.1" r="2.7"/><circle cx="2220.4" cy="251.7" r="2.7"/><circle cx="2238.2" cy="251.1" r="2.7"/><circle cx="2280.7" cy="252.9" r="2.7"/><circle cx="2141.7" cy="255.8" r="2.7"/><circle cx="2311.2" cy="255.6" r="2.7"/><circle cx="2302.3" cy="258.7" r="2.7"/><circle cx="2267.8" cy="265.3" r="2.7"/><circle cx="2342.5" cy="263.9" r="2.7"/><circle cx="2202.2" cy="268.4" r="2.7"/><circle cx="2142.3" cy="270.4" r="2.7"/><circle cx="2151.2" cy="273.6" r="2.7"/><circle cx="2257.3" cy="272.1" r="2.7"/><circle cx="2341.5" cy="272.5" r="2.7"/><circle cx="2216.9" cy="275.9" r="2.7"/><circle cx="2268.4" cy="285.8" r="2.7"/><circle cx="2216.9" cy="294.6" r="2.7"/><circle cx="2187.8" cy="296.9" r="2.7"/><circle cx="2233.8" cy="303.3" r="2.7"/><circle cx="2157.9" cy="304.5" r="2.7"/><circle cx="2170.8" cy="306.7" r="2.7"/><circle cx="2336.4" cy="310" r="2.7"/><circle cx="2162.4" cy="311.2" r="2.7"/><circle cx="2148.8" cy="312.6" r="2.7"/><circle cx="2148.2" cy="316.7" r="2.7"/><circle cx="2338.7" cy="317.4" r="2.7"/><circle cx="2158.7" cy="318.8" r="2.7"/><circle cx="2157.7" cy="321.5" r="2.7"/><circle cx="2166.3" cy="320.3" r="2.7"/><circle cx="2304.2" cy="321.7" r="2.7"/><circle cx="2260.1" cy="324.6" r="2.7"/><circle cx="2274.2" cy="324.3" r="2.7"/><circle cx="2303" cy="325.1" r="2.7"/><circle cx="2302.6" cy="327.8" r="2.7"/><circle cx="2334.5" cy="325.7" r="2.7"/><circle cx="2346" cy="327.3" r="2.7"/><circle cx="2142.3" cy="326.7" r="2.7"/><circle cx="2314.6" cy="328.1" r="2.7"/><circle cx="2309.7" cy="330.8" r="2.7"/><circle cx="2261.6" cy="330.2" r="2.7"/><circle cx="2215.1" cy="331.6" r="2.7"/><circle cx="2191.5" cy="334.8" r="2.7"/><circle cx="2215.7" cy="336.6" r="2.7"/><circle cx="2295.4" cy="336.3" r="2.7"/><circle cx="2238.8" cy="338.3" r="2.7"/><circle cx="2243.8" cy="338.9" r="2.7"/><circle cx="2353.4" cy="338.3" r="2.7"/><circle cx="2199.9" cy="340.6" r="2.7"/><circle cx="2306.2" cy="340.1" r="2.7"/><circle cx="2279.2" cy="341" r="2.7"/><circle cx="2285.9" cy="344.2" r="2.7"/><circle cx="2211.8" cy="344.8" r="2.7"/><circle cx="2227.6" cy="345.3" r="2.7"/><circle cx="2325.8" cy="345.3" r="2.7"/><circle cx="2282.5" cy="347.5" r="2.7"/><circle cx="2168.1" cy="347.7" r="2.7"/><circle cx="2267.8" cy="348.7" r="2.7"/><circle cx="2143.8" cy="350" r="2.7"/><circle cx="2220.8" cy="351.4" r="2.7"/><circle cx="2331.9" cy="351.6" r="2.7"/><circle cx="2342.1" cy="353.4" r="2.7"/><circle cx="2231.4" cy="360.8" r="2.7"/><circle cx="2260.7" cy="360.8" r="2.7"/><circle cx="2354.4" cy="362" r="2.7"/><circle cx="2237" cy="364.3" r="2.7"/><circle cx="2338" cy="365.7" r="2.7"/><circle cx="2322.9" cy="367.1" r="2.7"/><circle cx="2254.9" cy="372.4" r="2.7"/><circle cx="2246" cy="373" r="2.7"/><circle cx="2151.8" cy="373.3" r="2.7"/><circle cx="2176.4" cy="373" r="2.7"/><circle cx="2206.8" cy="373" r="2.7"/><circle cx="2330.4" cy="373.9" r="2.7"/><circle cx="2238.8" cy="376.7" r="2.7"/><circle cx="2337" cy="379.2" r="2.7"/><circle cx="2316.3" cy="380.6" r="2.7"/><circle cx="2158.5" cy="381.8" r="2.7"/><circle cx="2220.8" cy="383.5" r="2.7"/><circle cx="2328.4" cy="387.3" r="2.7"/><circle cx="2226.8" cy="387.5" r="2.7"/><circle cx="2157.3" cy="391.6" r="2.7"/><circle cx="2248.1" cy="394.3" r="2.7"/><circle cx="2265.7" cy="401" r="2.7"/><circle cx="2341.9" cy="399.6" r="2.7"/><circle cx="2329" cy="402.8" r="2.7"/><circle cx="2347.2" cy="403.6" r="2.7"/><circle cx="2258.5" cy="407.7" r="2.7"/><circle cx="2267.5" cy="411.8" r="2.7"/><circle cx="2341.9" cy="413.2" r="2.7"/><circle cx="2337.6" cy="415.3" r="2.7"/><circle cx="2198.9" cy="417.7" r="2.7"/><circle cx="2350.3" cy="422" r="2.7"/><circle cx="1638.6" cy="426.1" r="2.7"/><circle cx="1492.7" cy="432.9" r="2.7"/><circle cx="1571.1" cy="438.5" r="2.7"/><circle cx="1565.3" cy="442" r="2.7"/><circle cx="1628.5" cy="438.2" r="2.7"/><circle cx="1644.7" cy="439.7" r="2.7"/><circle cx="1536.9" cy="453.6" r="2.7"/><circle cx="1608.1" cy="450.9" r="2.7"/><circle cx="1617.1" cy="454.8" r="2.7"/><circle cx="1549.2" cy="458" r="2.7"/><circle cx="1570.2" cy="456.6" r="2.7"/><circle cx="1574.9" cy="458.9" r="2.7"/><circle cx="1572" cy="460.1" r="2.7"/><circle cx="1584.7" cy="460.3" r="2.7"/><circle cx="1491.1" cy="459.5" r="2.7"/><circle cx="1657.6" cy="461.8" r="2.7"/><circle cx="1658.7" cy="467.1" r="2.7"/><circle cx="1629.1" cy="465.9" r="2.7"/><circle cx="1589.6" cy="468.3" r="2.7"/><circle cx="1554.4" cy="468.5" r="2.7"/><circle cx="1556.2" cy="469.8" r="2.7"/><circle cx="1502" cy="469.7" r="2.7"/><circle cx="1514.4" cy="472.9" r="2.7"/><circle cx="1480.8" cy="474.1" r="2.7"/><circle cx="1510.5" cy="477" r="2.7"/><circle cx="1503.1" cy="477.9" r="2.7"/><circle cx="1666.1" cy="475.6" r="2.7"/><circle cx="1526.1" cy="481.7" r="2.7"/><circle cx="1461" cy="486.9" r="2.7"/><circle cx="1594.3" cy="487.5" r="2.7"/><circle cx="1623.8" cy="488.1" r="2.7"/><circle cx="1470.1" cy="498.6" r="2.7"/><circle cx="1601" cy="498.6" r="2.7"/><circle cx="1663.2" cy="502.7" r="2.7"/><circle cx="1572.8" cy="506.8" r="2.7"/><circle cx="1581.7" cy="507.6" r="2.7"/><circle cx="1640.2" cy="510.9" r="2.7"/><circle cx="1501.1" cy="513.3" r="2.7"/><circle cx="1548.2" cy="515.5" r="2.7"/><circle cx="1593.1" cy="517" r="2.7"/><circle cx="1597.4" cy="524.2" r="2.7"/><circle cx="1499.7" cy="527.2" r="2.7"/><circle cx="1514.4" cy="526.6" r="2.7"/><circle cx="1585.5" cy="527.4" r="2.7"/><circle cx="1582.9" cy="529.5" r="2.7"/><circle cx="1474.4" cy="529.3" r="2.7"/><circle cx="1476.9" cy="532.2" r="2.7"/><circle cx="1618.3" cy="528.3" r="2.7"/><circle cx="1624.5" cy="529.5" r="2.7"/><circle cx="1664.9" cy="528.3" r="2.7"/><circle cx="1674.5" cy="530.9" r="2.7"/><circle cx="1676.4" cy="536.8" r="2.7"/><circle cx="1513.8" cy="534.5" r="2.7"/><circle cx="1622.8" cy="538.6" r="2.7"/><circle cx="1521" cy="541.4" r="2.7"/><circle cx="1526.3" cy="542" r="2.7"/><circle cx="1534.2" cy="542.5" r="2.7"/><circle cx="1547" cy="540.8" r="2.7"/><circle cx="1572.8" cy="542" r="2.7"/><circle cx="1466.8" cy="547" r="2.7"/><circle cx="1633.9" cy="548.2" r="2.7"/><circle cx="1459.5" cy="551.3" r="2.7"/><circle cx="1457.5" cy="555.3" r="2.7"/><circle cx="1509.3" cy="553.2" r="2.7"/><circle cx="1604.8" cy="553.2" r="2.7"/><circle cx="1612.7" cy="553.7" r="2.7"/><circle cx="1655.4" cy="551.4" r="2.7"/><circle cx="1547.6" cy="555.1" r="2.7"/><circle cx="1604.2" cy="561.9" r="2.7"/><circle cx="1611.5" cy="562.1" r="2.7"/><circle cx="1538" cy="563.1" r="2.7"/><circle cx="1479.1" cy="564.2" r="2.7"/><circle cx="1590.5" cy="564.2" r="2.7"/><circle cx="1547" cy="566" r="2.7"/><circle cx="1609.7" cy="567.8" r="2.7"/><circle cx="1457.8" cy="568.9" r="2.7"/><circle cx="1656.4" cy="570.6" r="2.7"/><circle cx="1535.1" cy="575.9" r="2.7"/><circle cx="1558.2" cy="577" r="2.7"/><circle cx="1502" cy="577.8" r="2.7"/><circle cx="1664.9" cy="579.4" r="2.7"/><circle cx="1535.7" cy="582.8" r="2.7"/><circle cx="1541.9" cy="583.4" r="2.7"/><circle cx="1612.1" cy="583.9" r="2.7"/><circle cx="1649.6" cy="589.9" r="2.7"/><circle cx="1673.1" cy="589.9" r="2.7"/><circle cx="1584.1" cy="590.7" r="2.7"/><circle cx="1569.3" cy="591" r="2.7"/><circle cx="1568.5" cy="593.3" r="2.7"/><circle cx="1452.1" cy="591.9" r="2.7"/><circle cx="1478" cy="592.8" r="2.7"/><circle cx="1644.4" cy="594" r="2.7"/><circle cx="1556" cy="596.7" r="2.7"/><circle cx="1536.3" cy="601.4" r="2.7"/><circle cx="1520.1" cy="610.6" r="2.7"/><circle cx="1526.3" cy="610.6" r="2.7"/><circle cx="1534.2" cy="611.1" r="2.7"/><circle cx="1598" cy="611.1" r="2.7"/><circle cx="1489.7" cy="612.1" r="2.7"/><circle cx="1681.4" cy="489.3" r="2.7"/><circle cx="1680.8" cy="555.4" r="2.7"/><circle cx="1823.8" cy="423.6" r="2.7"/><circle cx="1881.8" cy="423.6" r="2.7"/><circle cx="1905.2" cy="425.1" r="2.7"/><circle cx="1736.2" cy="427.1" r="2.7"/><circle cx="1793.6" cy="431.2" r="2.7"/><circle cx="1808.6" cy="431.8" r="2.7"/><circle cx="1835.7" cy="435.2" r="2.7"/><circle cx="1826.7" cy="437.3" r="2.7"/><circle cx="1893.3" cy="437.7" r="2.7"/><circle cx="1895.6" cy="442" r="2.7"/><circle cx="1788.4" cy="441.4" r="2.7"/><circle cx="1700.7" cy="447.7" r="2.7"/><circle cx="1817" cy="448.2" r="2.7"/><circle cx="1849.2" cy="454.2" r="2.7"/><circle cx="1774.3" cy="458.9" r="2.7"/><circle cx="1783.9" cy="466.8" r="2.7"/><circle cx="1813.8" cy="465.7" r="2.7"/><circle cx="1833.4" cy="466.8" r="2.7"/><circle cx="1827.7" cy="470.2" r="2.7"/><circle cx="1849.2" cy="471.7" r="2.7"/><circle cx="1773.4" cy="472.9" r="2.7"/><circle cx="1843.4" cy="476.2" r="2.7"/><circle cx="1849.2" cy="476.4" r="2.7"/><circle cx="1863.6" cy="474.1" r="2.7"/><circle cx="1887.3" cy="474.6" r="2.7"/><circle cx="1755.2" cy="481.9" r="2.7"/><circle cx="1772.6" cy="488.7" r="2.7"/><circle cx="1858.7" cy="488.7" r="2.7"/><circle cx="1872.7" cy="489.3" r="2.7"/><circle cx="1886.7" cy="490.5" r="2.7"/><circle cx="1712.7" cy="495.9" r="2.7"/><circle cx="1815.3" cy="495.9" r="2.7"/><circle cx="1884.5" cy="501.5" r="2.7"/><circle cx="1694.6" cy="510.3" r="2.7"/><circle cx="1699.2" cy="509.1" r="2.7"/><circle cx="1700.2" cy="513.7" r="2.7"/><circle cx="1702.7" cy="517.2" r="2.7"/><circle cx="1855.2" cy="510.5" r="2.7"/><circle cx="1744.7" cy="518.1" r="2.7"/><circle cx="1738" cy="522.5" r="2.7"/><circle cx="1822.6" cy="520.7" r="2.7"/><circle cx="1848" cy="521.3" r="2.7"/><circle cx="1709.9" cy="524.6" r="2.7"/><circle cx="1700.2" cy="533.3" r="2.7"/><circle cx="1855.2" cy="532.1" r="2.7"/><circle cx="1904.1" cy="532.6" r="2.7"/><circle cx="1803.5" cy="537.9" r="2.7"/><circle cx="1855.8" cy="539.7" r="2.7"/><circle cx="1825.5" cy="542.9" r="2.7"/><circle cx="1712.1" cy="544.1" r="2.7"/><circle cx="1761.4" cy="544.1" r="2.7"/><circle cx="1738" cy="545.8" r="2.7"/><circle cx="1809.1" cy="547.6" r="2.7"/><circle cx="1824.4" cy="547.6" r="2.7"/><circle cx="1857.5" cy="549.3" r="2.7"/><circle cx="1712.7" cy="552.3" r="2.7"/><circle cx="1816.5" cy="552.9" r="2.7"/><circle cx="1870.9" cy="552.9" r="2.7"/><circle cx="1831.2" cy="557.2" r="2.7"/><circle cx="1739.1" cy="558.3" r="2.7"/><circle cx="1775.5" cy="559.2" r="2.7"/><circle cx="1878.9" cy="561.5" r="2.7"/><circle cx="1774.3" cy="571.7" r="2.7"/><circle cx="1892.9" cy="582.3" r="2.7"/><circle cx="1823.2" cy="584.6" r="2.7"/><circle cx="1766.6" cy="585.2" r="2.7"/><circle cx="1712.1" cy="586.4" r="2.7"/><circle cx="1782.8" cy="586.9" r="2.7"/><circle cx="1872.2" cy="588.2" r="2.7"/><circle cx="1741.8" cy="593.4" r="2.7"/><circle cx="1784.5" cy="593.4" r="2.7"/><circle cx="1756.4" cy="594.6" r="2.7"/><circle cx="1818.7" cy="595.9" r="2.7"/><circle cx="1848" cy="596.1" r="2.7"/><circle cx="1828.2" cy="597.9" r="2.7"/><circle cx="1809.1" cy="599.4" r="2.7"/><circle cx="1817.9" cy="602.1" r="2.7"/><circle cx="1724.5" cy="604.9" r="2.7"/><circle cx="1770.5" cy="605.9" r="2.7"/><circle cx="1728.5" cy="611.1" r="2.7"/><circle cx="1749.1" cy="614.9" r="2.7"/><circle cx="1683.7" cy="617.8" r="2.7"/><circle cx="1783.6" cy="617.8" r="2.7"/><circle cx="1823.8" cy="616.6" r="2.7"/><circle cx="1901.7" cy="616.3" r="2.7"/><circle cx="1760.9" cy="619.5" r="2.7"/><circle cx="1871" cy="619.5" r="2.7"/><circle cx="1881.6" cy="618.9" r="2.7"/><circle cx="1821.4" cy="621" r="2.7"/><circle cx="2124.1" cy="423.7" r="2.7"/><circle cx="1974.7" cy="426" r="2.7"/><circle cx="1991.7" cy="426.9" r="2.7"/><circle cx="2003.6" cy="426.5" r="2.7"/><circle cx="2051.7" cy="426" r="2.7"/><circle cx="2085.4" cy="426.3" r="2.7"/><circle cx="2103.9" cy="424.9" r="2.7"/><circle cx="2085.4" cy="432.3" r="2.7"/><circle cx="2097.1" cy="432.9" r="2.7"/><circle cx="1944" cy="435.2" r="2.7"/><circle cx="2133.3" cy="443" r="2.7"/><circle cx="2036.6" cy="451.9" r="2.7"/><circle cx="2102.4" cy="450.9" r="2.7"/><circle cx="1928.7" cy="462.4" r="2.7"/><circle cx="1974.3" cy="464.8" r="2.7"/><circle cx="1912.6" cy="471.7" r="2.7"/><circle cx="2100.1" cy="471.1" r="2.7"/><circle cx="1939.5" cy="480.7" r="2.7"/><circle cx="1941.3" cy="485.2" r="2.7"/><circle cx="2095.6" cy="481.3" r="2.7"/><circle cx="2110.6" cy="481.3" r="2.7"/><circle cx="1926.1" cy="490.9" r="2.7"/><circle cx="2084.3" cy="490.1" r="2.7"/><circle cx="2133.3" cy="491.5" r="2.7"/><circle cx="2013.6" cy="494.7" r="2.7"/><circle cx="2064.1" cy="495.6" r="2.7"/><circle cx="2089.3" cy="496.5" r="2.7"/><circle cx="2049.7" cy="498.6" r="2.7"/><circle cx="1941.3" cy="500.9" r="2.7"/><circle cx="1991.1" cy="503.8" r="2.7"/><circle cx="2051.2" cy="507.6" r="2.7"/><circle cx="2098.3" cy="506.8" r="2.7"/><circle cx="2037.7" cy="509.9" r="2.7"/><circle cx="2114.5" cy="508.8" r="2.7"/><circle cx="2132.6" cy="509.3" r="2.7"/><circle cx="2019.2" cy="512.8" r="2.7"/><circle cx="1944" cy="513.7" r="2.7"/><circle cx="2137.7" cy="514.3" r="2.7"/><circle cx="2076.4" cy="517.6" r="2.7"/><circle cx="2103.9" cy="518.7" r="2.7"/><circle cx="2132.6" cy="519.6" r="2.7"/><circle cx="1998.4" cy="533.8" r="2.7"/><circle cx="2079.8" cy="535.5" r="2.7"/><circle cx="2124.7" cy="537.9" r="2.7"/><circle cx="2013.9" cy="541.1" r="2.7"/><circle cx="2028" cy="542.9" r="2.7"/><circle cx="2058.5" cy="542.5" r="2.7"/><circle cx="2102.2" cy="542" r="2.7"/><circle cx="1972.6" cy="545.5" r="2.7"/><circle cx="2065.7" cy="548.2" r="2.7"/><circle cx="1958" cy="553.2" r="2.7"/><circle cx="1914.9" cy="555.1" r="2.7"/><circle cx="1978.8" cy="556.6" r="2.7"/><circle cx="2060.2" cy="556.3" r="2.7"/><circle cx="2041.1" cy="558.6" r="2.7"/><circle cx="1993.8" cy="561.8" r="2.7"/><circle cx="2030.9" cy="562.5" r="2.7"/><circle cx="1994" cy="565.6" r="2.7"/><circle cx="1950.7" cy="565.6" r="2.7"/><circle cx="2082.7" cy="567.1" r="2.7"/><circle cx="2029.8" cy="568.3" r="2.7"/><circle cx="2039.4" cy="568.3" r="2.7"/><circle cx="2046.2" cy="574" r="2.7"/><circle cx="1958.5" cy="582.3" r="2.7"/><circle cx="2111.2" cy="587" r="2.7"/><circle cx="1940.1" cy="588.2" r="2.7"/><circle cx="1933.9" cy="591.9" r="2.7"/><circle cx="2006.7" cy="591.3" r="2.7"/><circle cx="2029.8" cy="593.4" r="2.7"/><circle cx="1950.7" cy="598" r="2.7"/><circle cx="2080.4" cy="598.5" r="2.7"/><circle cx="2072" cy="600.2" r="2.7"/><circle cx="1997.8" cy="601.4" r="2.7"/><circle cx="2110.6" cy="602.4" r="2.7"/><circle cx="2133.8" cy="603.8" r="2.7"/><circle cx="1928.4" cy="608.6" r="2.7"/><circle cx="2003.4" cy="610.9" r="2.7"/><circle cx="2129.2" cy="612.1" r="2.7"/><circle cx="2033.6" cy="614.4" r="2.7"/><circle cx="1950.3" cy="616.1" r="2.7"/><circle cx="2059.6" cy="616.6" r="2.7"/><circle cx="2110.6" cy="616" r="2.7"/><circle cx="2008.4" cy="618.7" r="2.7"/><circle cx="1982.7" cy="619.5" r="2.7"/><circle cx="2117.9" cy="619.5" r="2.7"/><circle cx="1993.4" cy="620.7" r="2.7"/><circle cx="2014.5" cy="620.7" r="2.7"/><circle cx="2039.4" cy="621.4" r="2.7"/><circle cx="2140.6" cy="575.5" r="2.7"/><circle cx="2154" cy="426.3" r="2.7"/><circle cx="2178.7" cy="427.7" r="2.7"/><circle cx="2159.7" cy="431.2" r="2.7"/><circle cx="2168.5" cy="432.9" r="2.7"/><circle cx="2198.3" cy="436.2" r="2.7"/><circle cx="2283.7" cy="434.1" r="2.7"/><circle cx="2242.6" cy="438.2" r="2.7"/><circle cx="2173.5" cy="442.4" r="2.7"/><circle cx="2316.7" cy="443" r="2.7"/><circle cx="2339.2" cy="442" r="2.7"/><circle cx="2335.2" cy="444.4" r="2.7"/><circle cx="2207.5" cy="447.1" r="2.7"/><circle cx="2228" cy="446.4" r="2.7"/><circle cx="2284.2" cy="448.5" r="2.7"/><circle cx="2297.6" cy="448.1" r="2.7"/><circle cx="2288.2" cy="451.9" r="2.7"/><circle cx="2154.6" cy="453.6" r="2.7"/><circle cx="2191.9" cy="454.2" r="2.7"/><circle cx="2261.9" cy="457.5" r="2.7"/><circle cx="2344.2" cy="461.5" r="2.7"/><circle cx="2247.6" cy="462.4" r="2.7"/><circle cx="2260.4" cy="463.3" r="2.7"/><circle cx="2238.8" cy="464.8" r="2.7"/><circle cx="2273" cy="464.4" r="2.7"/><circle cx="2320" cy="465.1" r="2.7"/><circle cx="2326.4" cy="464.8" r="2.7"/><circle cx="2164.1" cy="466.8" r="2.7"/><circle cx="2167.1" cy="467.4" r="2.7"/><circle cx="2192.8" cy="469.1" r="2.7"/><circle cx="2345.6" cy="474.4" r="2.7"/><circle cx="2217.4" cy="476.7" r="2.7"/><circle cx="2312.8" cy="481.1" r="2.7"/><circle cx="2342.1" cy="480.8" r="2.7"/><circle cx="2180.4" cy="484" r="2.7"/><circle cx="2191.1" cy="484" r="2.7"/><circle cx="2238.2" cy="484.6" r="2.7"/><circle cx="2167.5" cy="487.5" r="2.7"/><circle cx="2209.5" cy="488.7" r="2.7"/><circle cx="2276.5" cy="492.7" r="2.7"/><circle cx="2265.5" cy="497.4" r="2.7"/><circle cx="2322.6" cy="496.2" r="2.7"/><circle cx="2338.7" cy="498.6" r="2.7"/><circle cx="2201.6" cy="500.9" r="2.7"/><circle cx="2325.7" cy="502.1" r="2.7"/><circle cx="2302.6" cy="503.6" r="2.7"/><circle cx="2158.5" cy="506.5" r="2.7"/><circle cx="2299.7" cy="508.2" r="2.7"/><circle cx="2187.6" cy="510.3" r="2.7"/><circle cx="2176.9" cy="519.9" r="2.7"/><circle cx="2165.2" cy="521.7" r="2.7"/><circle cx="2308.8" cy="522.8" r="2.7"/><circle cx="2276.5" cy="528.9" r="2.7"/><circle cx="2231.4" cy="530.5" r="2.7"/><circle cx="2304.4" cy="536.1" r="2.7"/><circle cx="2288.6" cy="539" r="2.7"/><circle cx="2189.9" cy="540.5" r="2.7"/><circle cx="2298.2" cy="541.1" r="2.7"/><circle cx="2331.9" cy="541.7" r="2.7"/><circle cx="2315.8" cy="546.4" r="2.7"/><circle cx="2299.4" cy="547.6" r="2.7"/><circle cx="2293.8" cy="550.9" r="2.7"/><circle cx="2296.8" cy="551.1" r="2.7"/><circle cx="2340.4" cy="557.2" r="2.7"/><circle cx="2328.7" cy="569.7" r="2.7"/><circle cx="2147.1" cy="581.6" r="2.7"/><circle cx="2232.9" cy="581" r="2.7"/><circle cx="2236.4" cy="579.4" r="2.7"/><circle cx="2240.5" cy="582.3" r="2.7"/><circle cx="2240.9" cy="587.2" r="2.7"/><circle cx="2292.7" cy="590.5" r="2.7"/><circle cx="2340.1" cy="591.3" r="2.7"/><circle cx="2179.2" cy="593.3" r="2.7"/><circle cx="2298.8" cy="594.6" r="2.7"/><circle cx="2348.7" cy="595.6" r="2.7"/><circle cx="2210.1" cy="596.1" r="2.7"/><circle cx="2169.6" cy="601.8" r="2.7"/><circle cx="2343.7" cy="601.8" r="2.7"/><circle cx="2268.9" cy="603.8" r="2.7"/><circle cx="2292.1" cy="605.3" r="2.7"/><circle cx="2235.8" cy="606.5" r="2.7"/><circle cx="2249.3" cy="608.2" r="2.7"/><circle cx="2295.8" cy="610.6" r="2.7"/><circle cx="2328.4" cy="612" r="2.7"/><circle cx="2181.6" cy="617.1" r="2.7"/><circle cx="2306.2" cy="618.3" r="2.7"/><circle cx="1482.4" cy="625.9" r="2.7"/><circle cx="1491.4" cy="633.5" r="2.7"/><circle cx="1582.9" cy="624.4" r="2.7"/><circle cx="1587.8" cy="626.7" r="2.7"/><circle cx="1579" cy="638.3" r="2.7"/><circle cx="1550.9" cy="642.8" r="2.7"/><circle cx="1644.1" cy="642.8" r="2.7"/><circle cx="1609.3" cy="646.3" r="2.7"/><circle cx="1586.4" cy="647.8" r="2.7"/><circle cx="1539.8" cy="649.8" r="2.7"/><circle cx="1649.9" cy="652.7" r="2.7"/><circle cx="1560.9" cy="661.2" r="2.7"/><circle cx="1622.8" cy="661.2" r="2.7"/><circle cx="1635.9" cy="661.8" r="2.7"/><circle cx="1572.8" cy="666.9" r="2.7"/><circle cx="1591" cy="667.5" r="2.7"/><circle cx="1593.5" cy="666.7" r="2.7"/><circle cx="1645.2" cy="667.1" r="2.7"/><circle cx="1610.9" cy="667.5" r="2.7"/><circle cx="1610.9" cy="671" r="2.7"/><circle cx="1514.6" cy="671.4" r="2.7"/><circle cx="1640.8" cy="671.6" r="2.7"/><circle cx="1555.4" cy="677.6" r="2.7"/><circle cx="1513.2" cy="678.9" r="2.7"/><circle cx="1640.2" cy="680.3" r="2.7"/><circle cx="1490.9" cy="682.7" r="2.7"/><circle cx="1490.9" cy="686.3" r="2.7"/><circle cx="1654.4" cy="683" r="2.7"/><circle cx="1562.9" cy="687.7" r="2.7"/><circle cx="1533.1" cy="697.3" r="2.7"/><circle cx="1556.8" cy="699.6" r="2.7"/><circle cx="1643.7" cy="698.5" r="2.7"/><circle cx="1590.2" cy="702.8" r="2.7"/><circle cx="1598" cy="705.8" r="2.7"/><circle cx="1500.5" cy="706.7" r="2.7"/><circle cx="1667.9" cy="709.6" r="2.7"/><circle cx="1491.1" cy="717.2" r="2.7"/><circle cx="1553.3" cy="719" r="2.7"/><circle cx="1630.8" cy="721.8" r="2.7"/><circle cx="1561.7" cy="728.2" r="2.7"/><circle cx="1633.5" cy="728.2" r="2.7"/><circle cx="1509.3" cy="732.4" r="2.7"/><circle cx="1469.1" cy="735.3" r="2.7"/><circle cx="1519.6" cy="735" r="2.7"/><circle cx="1575.8" cy="736.7" r="2.7"/><circle cx="1629.7" cy="738.5" r="2.7"/><circle cx="1639.6" cy="737.1" r="2.7"/><circle cx="1638.2" cy="738.7" r="2.7"/><circle cx="1659.3" cy="741.1" r="2.7"/><circle cx="1637.9" cy="744" r="2.7"/><circle cx="1655" cy="748.1" r="2.7"/><circle cx="1803.6" cy="623.3" r="2.7"/><circle cx="1894.7" cy="624.4" r="2.7"/><circle cx="1852.9" cy="626.7" r="2.7"/><circle cx="1882.4" cy="627.3" r="2.7"/><circle cx="1785.7" cy="629.4" r="2.7"/><circle cx="1710.3" cy="630" r="2.7"/><circle cx="1717.1" cy="632.7" r="2.7"/><circle cx="1736.8" cy="633.9" r="2.7"/><circle cx="1756.4" cy="638.7" r="2.7"/><circle cx="1841.7" cy="639.5" r="2.7"/><circle cx="1880.4" cy="642.8" r="2.7"/><circle cx="1807" cy="644.5" r="2.7"/><circle cx="1694.9" cy="647.8" r="2.7"/><circle cx="1821.4" cy="648.4" r="2.7"/><circle cx="1859.8" cy="648.4" r="2.7"/><circle cx="1898" cy="650.4" r="2.7"/><circle cx="1748.2" cy="655.1" r="2.7"/><circle cx="1786.3" cy="656.8" r="2.7"/><circle cx="1822.9" cy="658.3" r="2.7"/><circle cx="1855.4" cy="657.9" r="2.7"/><circle cx="1826.7" cy="664.6" r="2.7"/><circle cx="1717.1" cy="670.5" r="2.7"/><circle cx="1781.8" cy="671.4" r="2.7"/><circle cx="1701" cy="676.7" r="2.7"/><circle cx="1908.2" cy="677.6" r="2.7"/><circle cx="1853.1" cy="683" r="2.7"/><circle cx="1745.9" cy="689.5" r="2.7"/><circle cx="1763.8" cy="690.4" r="2.7"/><circle cx="1840.8" cy="691" r="2.7"/><circle cx="1848.6" cy="690.6" r="2.7"/><circle cx="1690.4" cy="691.8" r="2.7"/><circle cx="1896.8" cy="693.3" r="2.7"/><circle cx="1765.5" cy="700.7" r="2.7"/><circle cx="1853.7" cy="701.9" r="2.7"/><circle cx="1822" cy="708.1" r="2.7"/><circle cx="1831.6" cy="708.7" r="2.7"/><circle cx="1698.4" cy="711.4" r="2.7"/><circle cx="1702.7" cy="712" r="2.7"/><circle cx="1691.4" cy="713.6" r="2.7"/><circle cx="1713.9" cy="714.2" r="2.7"/><circle cx="1867.1" cy="712" r="2.7"/><circle cx="1887.3" cy="713" r="2.7"/><circle cx="1786.3" cy="719.6" r="2.7"/><circle cx="1853.1" cy="718.4" r="2.7"/><circle cx="1780.2" cy="722.1" r="2.7"/><circle cx="1846.9" cy="721.5" r="2.7"/><circle cx="1706" cy="722.4" r="2.7"/><circle cx="1744.7" cy="722.4" r="2.7"/><circle cx="1772.8" cy="724.1" r="2.7"/><circle cx="1802.5" cy="723.5" r="2.7"/><circle cx="1760.5" cy="728.7" r="2.7"/><circle cx="1791.8" cy="733.8" r="2.7"/><circle cx="1883.9" cy="733.2" r="2.7"/><circle cx="1729.5" cy="739.1" r="2.7"/><circle cx="1844.1" cy="739.4" r="2.7"/><circle cx="1870.4" cy="739.1" r="2.7"/><circle cx="1686.9" cy="740.5" r="2.7"/><circle cx="1821.1" cy="740.5" r="2.7"/><circle cx="1701.6" cy="747.8" r="2.7"/><circle cx="1713.3" cy="748.7" r="2.7"/><circle cx="1836.1" cy="747.5" r="2.7"/><circle cx="1774.3" cy="749.3" r="2.7"/><circle cx="1956.3" cy="623.3" r="2.7"/><circle cx="2025.7" cy="624.7" r="2.7"/><circle cx="2052.3" cy="624.4" r="2.7"/><circle cx="1910.2" cy="747.5" r="2.7"/><circle cx="1974.3" cy="625.9" r="2.7"/><circle cx="2077" cy="628.2" r="2.7"/><circle cx="2130.1" cy="627.3" r="2.7"/><circle cx="1940.7" cy="631.2" r="2.7"/><circle cx="2084.3" cy="630.6" r="2.7"/><circle cx="2104.4" cy="632.1" r="2.7"/><circle cx="2092.2" cy="633.5" r="2.7"/><circle cx="2011.4" cy="640.1" r="2.7"/><circle cx="1929.9" cy="645.1" r="2.7"/><circle cx="2103.6" cy="646.3" r="2.7"/><circle cx="2125.9" cy="646.9" r="2.7"/><circle cx="1942.2" cy="648.4" r="2.7"/><circle cx="1991.1" cy="649" r="2.7"/><circle cx="2015.3" cy="655.9" r="2.7"/><circle cx="1970.9" cy="661.2" r="2.7"/><circle cx="1964.7" cy="663.4" r="2.7"/><circle cx="2005.7" cy="662.4" r="2.7"/><circle cx="1926.1" cy="668.7" r="2.7"/><circle cx="1963" cy="671" r="2.7"/><circle cx="1983.2" cy="671" r="2.7"/><circle cx="1945.6" cy="674.3" r="2.7"/><circle cx="1933.4" cy="674.9" r="2.7"/><circle cx="2116.2" cy="672.8" r="2.7"/><circle cx="2010.4" cy="676.3" r="2.7"/><circle cx="1932.7" cy="680.1" r="2.7"/><circle cx="2060.2" cy="686.9" r="2.7"/><circle cx="2044.4" cy="688.1" r="2.7"/><circle cx="1972.6" cy="689.1" r="2.7"/><circle cx="2049.9" cy="690" r="2.7"/><circle cx="2123.9" cy="688.3" r="2.7"/><circle cx="2046.2" cy="692.2" r="2.7"/><circle cx="2042.1" cy="694.5" r="2.7"/><circle cx="2104.4" cy="693.9" r="2.7"/><circle cx="1918.7" cy="696.7" r="2.7"/><circle cx="2137.7" cy="696.3" r="2.7"/><circle cx="2102.4" cy="701.1" r="2.7"/><circle cx="2113.6" cy="702.5" r="2.7"/><circle cx="1938.9" cy="704" r="2.7"/><circle cx="2099.5" cy="704" r="2.7"/><circle cx="1950.7" cy="705.2" r="2.7"/><circle cx="2044.8" cy="704.4" r="2.7"/><circle cx="2047.7" cy="707.3" r="2.7"/><circle cx="2077.6" cy="707.9" r="2.7"/><circle cx="2082.1" cy="712" r="2.7"/><circle cx="1916.7" cy="713" r="2.7"/><circle cx="2109.7" cy="713.4" r="2.7"/><circle cx="2110" cy="718.1" r="2.7"/><circle cx="2008.1" cy="724.8" r="2.7"/><circle cx="2038.8" cy="724.1" r="2.7"/><circle cx="1944" cy="727.6" r="2.7"/><circle cx="2098.3" cy="728.2" r="2.7"/><circle cx="2001.3" cy="730.9" r="2.7"/><circle cx="2105.1" cy="733.8" r="2.7"/><circle cx="1975.3" cy="735.5" r="2.7"/><circle cx="1982.7" cy="734.6" r="2.7"/><circle cx="2065.7" cy="737" r="2.7"/><circle cx="2010.4" cy="741.1" r="2.7"/><circle cx="2036.6" cy="746.9" r="2.7"/><circle cx="2090.5" cy="746.9" r="2.7"/><circle cx="1998.5" cy="748.7" r="2.7"/><circle cx="2223" cy="627.6" r="2.7"/><circle cx="2198" cy="634.4" r="2.7"/><circle cx="2265.1" cy="634.9" r="2.7"/><circle cx="2149.5" cy="637.7" r="2.7"/><circle cx="2346" cy="638.7" r="2.7"/><circle cx="2222.6" cy="640.2" r="2.7"/><circle cx="2175.8" cy="641.6" r="2.7"/><circle cx="2149.1" cy="645.1" r="2.7"/><circle cx="2197.4" cy="647.5" r="2.7"/><circle cx="2338.1" cy="647.2" r="2.7"/><circle cx="2241.5" cy="650.8" r="2.7"/><circle cx="2229.7" cy="653.7" r="2.7"/><circle cx="2309.4" cy="653.3" r="2.7"/><circle cx="2246" cy="661.7" r="2.7"/><circle cx="2263" cy="661.7" r="2.7"/><circle cx="2208.5" cy="664.4" r="2.7"/><circle cx="2156.7" cy="666.1" r="2.7"/><circle cx="2228.6" cy="666.9" r="2.7"/><circle cx="2178.2" cy="670" r="2.7"/><circle cx="2339.2" cy="670.8" r="2.7"/><circle cx="2305" cy="674.3" r="2.7"/><circle cx="2308.5" cy="674.3" r="2.7"/><circle cx="2246" cy="675.5" r="2.7"/><circle cx="2313.4" cy="679.5" r="2.7"/><circle cx="2198.3" cy="679.8" r="2.7"/><circle cx="2353.3" cy="680.4" r="2.7"/><circle cx="2153" cy="681.6" r="2.7"/><circle cx="2173.1" cy="685.1" r="2.7"/><circle cx="2284.2" cy="685.1" r="2.7"/><circle cx="2340.5" cy="689.5" r="2.7"/><circle cx="2210.3" cy="696.7" r="2.7"/><circle cx="2276.5" cy="700.5" r="2.7"/><circle cx="2196" cy="701.1" r="2.7"/><circle cx="2335.8" cy="701.1" r="2.7"/><circle cx="2166.9" cy="703.8" r="2.7"/><circle cx="2220.8" cy="710.1" r="2.7"/><circle cx="2236.7" cy="713.6" r="2.7"/><circle cx="2286.5" cy="713" r="2.7"/><circle cx="2337.6" cy="712.4" r="2.7"/><circle cx="2154.7" cy="717.5" r="2.7"/><circle cx="2171.6" cy="718.4" r="2.7"/><circle cx="2151.8" cy="722.4" r="2.7"/><circle cx="2293.8" cy="722.4" r="2.7"/><circle cx="2307.3" cy="729.3" r="2.7"/><circle cx="2166.5" cy="731.2" r="2.7"/><circle cx="2326.9" cy="730.9" r="2.7"/><circle cx="2204.6" cy="735" r="2.7"/><circle cx="2215.3" cy="733.8" r="2.7"/><circle cx="2150.6" cy="737.9" r="2.7"/><circle cx="2275.3" cy="737.9" r="2.7"/><circle cx="2343.3" cy="738.5" r="2.7"/><circle cx="2238.8" cy="740.4" r="2.7"/><circle cx="2241.7" cy="742.1" r="2.7"/><circle cx="2155.8" cy="741.7" r="2.7"/><circle cx="2161.4" cy="743.3" r="2.7"/><circle cx="2332.2" cy="741.1" r="2.7"/><circle cx="2177" cy="746" r="2.7"/><circle cx="2170.8" cy="748.7" r="2.7"/><circle cx="2234.9" cy="748.1" r="2.7"/><circle cx="1484.3" cy="86.3" r="2.7"/><circle cx="1591.9" cy="89.6" r="2.7"/><circle cx="1819.8" cy="163.7" r="2.7"/><circle cx="1821.4" cy="166.6" r="2.7"/><circle cx="1797.9" cy="176" r="2.7"/><circle cx="1871.6" cy="207.2" r="2.7"/><circle cx="1935.2" cy="212.1" r="2.7"/><circle cx="2238.8" cy="136.1" r="2.7"/><circle cx="2329.7" cy="114.8" r="2.7"/><circle cx="2345.2" cy="129.9" r="2.7"/><circle cx="2352.8" cy="172.3" r="2.7"/><circle cx="1875.8" cy="231.4" r="2.7"/></g><g fill="#008000"><circle cx="1493.7" cy="78" r="2.7"/><circle cx="1493.7" cy="81.7" r="2.7"/><circle cx="1506.3" cy="70.5" r="2.7"/><circle cx="1509.3" cy="68.8" r="2.7"/><circle cx="1509.3" cy="63.9" r="2.7"/><circle cx="1514.1" cy="60.7" r="2.7"/><circle cx="1516.8" cy="63.6" r="2.7"/><circle cx="1521.8" cy="74.7" r="2.7"/><circle cx="1527.4" cy="75.5" r="2.7"/><circle cx="1528.3" cy="79.4" r="2.7"/><circle cx="1533.7" cy="59.6" r="2.7"/><circle cx="1537.7" cy="58.8" r="2.7"/><circle cx="1533.7" cy="64.7" r="2.7"/><circle cx="1534.1" cy="66.4" r="2.7"/><circle cx="1544.4" cy="62.8" r="2.7"/><circle cx="1546.8" cy="62.4" r="2.7"/><circle cx="1546.5" cy="64.2" r="2.7"/><circle cx="1549.9" cy="65.5" r="2.7"/><circle cx="1552.7" cy="65.1" r="2.7"/><circle cx="1559.2" cy="60.2" r="2.7"/><circle cx="1560.4" cy="61.9" r="2.7"/><circle cx="1563" cy="62.9" r="2.7"/><circle cx="1557.9" cy="63.7" r="2.7"/><circle cx="1569" cy="65.1" r="2.7"/><circle cx="1569.3" cy="65.9" r="2.7"/><circle cx="1574.2" cy="61" r="2.7"/><circle cx="1556.6" cy="70" r="2.7"/><circle cx="1561.1" cy="69" r="2.7"/><circle cx="1562.2" cy="70.5" r="2.7"/><circle cx="1560.8" cy="72.2" r="2.7"/><circle cx="1573.9" cy="69.1" r="2.7"/><circle cx="1577.2" cy="66.6" r="2.7"/><circle cx="1580.6" cy="67.4" r="2.7"/><circle cx="1577.2" cy="72.2" r="2.7"/><circle cx="1574.2" cy="73.7" r="2.7"/><circle cx="1584.4" cy="72.9" r="2.7"/><circle cx="1584.8" cy="75.5" r="2.7"/><circle cx="1580.4" cy="76.8" r="2.7"/><circle cx="1572" cy="80.6" r="2.7"/><circle cx="1582.4" cy="82.2" r="2.7"/><circle cx="1586.3" cy="83.7" r="2.7"/><circle cx="1588.4" cy="86.6" r="2.7"/><circle cx="1559.6" cy="88.8" r="2.7"/><circle cx="1590.1" cy="98.9" r="2.7"/><circle cx="1598.6" cy="101.5" r="2.7"/><circle cx="1601.4" cy="109.8" r="2.7"/><circle cx="1610" cy="114.8" r="2.7"/><circle cx="1638.7" cy="112.7" r="2.7"/><circle cx="1644.6" cy="117.3" r="2.7"/><circle cx="1646.9" cy="118.3" r="2.7"/><circle cx="1620.1" cy="122.5" r="2.7"/><circle cx="1623.9" cy="123.2" r="2.7"/><circle cx="1625.3" cy="124.1" r="2.7"/><circle cx="1634.7" cy="122.8" r="2.7"/><circle cx="1607.2" cy="125.2" r="2.7"/><circle cx="1591.5" cy="128.8" r="2.7"/><circle cx="1615.3" cy="128.3" r="2.7"/><circle cx="1619" cy="127.5" r="2.7"/><circle cx="1630.1" cy="127.4" r="2.7"/><circle cx="1636.5" cy="126.4" r="2.7"/><circle cx="1643.5" cy="126.7" r="2.7"/><circle cx="1648" cy="127.3" r="2.7"/><circle cx="1657.7" cy="125.6" r="2.7"/><circle cx="1660.7" cy="126.3" r="2.7"/><circle cx="1664.1" cy="127.1" r="2.7"/><circle cx="1653.2" cy="128.8" r="2.7"/><circle cx="1644" cy="130.1" r="2.7"/><circle cx="1651.3" cy="130.3" r="2.7"/><circle cx="1655.8" cy="131" r="2.7"/><circle cx="1650.2" cy="131.9" r="2.7"/><circle cx="1663.7" cy="131.5" r="2.7"/><circle cx="1662.6" cy="132.4" r="2.7"/><circle cx="1638.6" cy="133.2" r="2.7"/><circle cx="1648.7" cy="133.3" r="2.7"/><circle cx="1656.6" cy="133.2" r="2.7"/><circle cx="1669" cy="133.5" r="2.7"/><circle cx="1665.6" cy="134.3" r="2.7"/><circle cx="1666" cy="135.8" r="2.7"/><circle cx="1645.3" cy="135.6" r="2.7"/><circle cx="1605" cy="135.1" r="2.7"/><circle cx="1612.4" cy="134.9" r="2.7"/><circle cx="1628.8" cy="138.2" r="2.7"/><circle cx="1661" cy="139.1" r="2.7"/><circle cx="1651.5" cy="140.7" r="2.7"/><circle cx="1625.2" cy="142.4" r="2.7"/><circle cx="1684.4" cy="128" r="2.7"/><circle cx="1667.6" cy="144.5" r="2.7"/><circle cx="1674.6" cy="143.5" r="2.7"/><circle cx="1684.8" cy="143.3" r="2.7"/><circle cx="1687.4" cy="146.2" r="2.7"/><circle cx="1696" cy="145" r="2.7"/><circle cx="1682.5" cy="148.6" r="2.7"/><circle cx="1704.3" cy="147.4" r="2.7"/><circle cx="1711.3" cy="146.1" r="2.7"/><circle cx="1727.8" cy="138" r="2.7"/><circle cx="1730.6" cy="146" r="2.7"/><circle cx="1705.5" cy="149.6" r="2.7"/><circle cx="1712.2" cy="151.2" r="2.7"/><circle cx="1705.8" cy="152.6" r="2.7"/><circle cx="1714.4" cy="153.7" r="2.7"/><circle cx="1732.3" cy="152" r="2.7"/><circle cx="1707" cy="162.6" r="2.7"/><circle cx="1710" cy="161.8" r="2.7"/><circle cx="1723.4" cy="159.1" r="2.7"/><circle cx="1723.5" cy="160.4" r="2.7"/><circle cx="1729.1" cy="159.3" r="2.7"/><circle cx="1738.4" cy="158.5" r="2.7"/><circle cx="1754.2" cy="159.1" r="2.7"/><circle cx="1744" cy="161.3" r="2.7"/><circle cx="1732.6" cy="162.1" r="2.7"/><circle cx="1745.1" cy="166.3" r="2.7"/><circle cx="1748.7" cy="167.1" r="2.7"/><circle cx="1752.8" cy="166.6" r="2.7"/><circle cx="1748" cy="170.2" r="2.7"/><circle cx="1761.2" cy="170.3" r="2.7"/><circle cx="1789.5" cy="177.5" r="2.7"/><circle cx="1788.4" cy="181.8" r="2.7"/><circle cx="1779" cy="183.3" r="2.7"/><circle cx="1791.2" cy="183.9" r="2.7"/><circle cx="1780.5" cy="186.1" r="2.7"/><circle cx="1780.9" cy="188.3" r="2.7"/><circle cx="1786.8" cy="189" r="2.7"/><circle cx="1784.3" cy="191.2" r="2.7"/><circle cx="1788" cy="192.1" r="2.7"/><circle cx="1795.7" cy="190.9" r="2.7"/><circle cx="1777.3" cy="192.4" r="2.7"/><circle cx="1775.5" cy="196.5" r="2.7"/><circle cx="1795.7" cy="195.8" r="2.7"/><circle cx="1800.4" cy="196.6" r="2.7"/><circle cx="1802.3" cy="197.2" r="2.7"/><circle cx="1794" cy="198" r="2.7"/><circle cx="1800.2" cy="198.8" r="2.7"/><circle cx="1791.8" cy="201" r="2.7"/><circle cx="1790.5" cy="202.6" r="2.7"/><circle cx="1801.3" cy="201.4" r="2.7"/><circle cx="1801.3" cy="203.8" r="2.7"/><circle cx="1805.3" cy="205.7" r="2.7"/><circle cx="1809.4" cy="206.8" r="2.7"/><circle cx="1817.1" cy="205" r="2.7"/><circle cx="1779.4" cy="210.4" r="2.7"/><circle cx="1827.3" cy="180.5" r="2.7"/><circle cx="1836.2" cy="187.3" r="2.7"/><circle cx="1854.5" cy="179.1" r="2.7"/><circle cx="1867.3" cy="179" r="2.7"/><circle cx="1876.9" cy="177.8" r="2.7"/><circle cx="1881.5" cy="181.2" r="2.7"/><circle cx="1854.7" cy="182.9" r="2.7"/><circle cx="1875.9" cy="182.9" r="2.7"/><circle cx="1866.5" cy="183.9" r="2.7"/><circle cx="1870.3" cy="184" r="2.7"/><circle cx="1860.5" cy="185.6" r="2.7"/><circle cx="1846.4" cy="189.7" r="2.7"/><circle cx="1849.6" cy="190.8" r="2.7"/><circle cx="1854.5" cy="189.5" r="2.7"/><circle cx="1862.2" cy="190.1" r="2.7"/><circle cx="1853.5" cy="192.6" r="2.7"/><circle cx="1873.1" cy="191.4" r="2.7"/><circle cx="1870.9" cy="192.6" r="2.7"/><circle cx="1852.5" cy="196.1" r="2.7"/><circle cx="1846.3" cy="197" r="2.7"/><circle cx="1876.4" cy="195.9" r="2.7"/><circle cx="1844.5" cy="199.7" r="2.7"/><circle cx="1859" cy="200.6" r="2.7"/><circle cx="1839.3" cy="201.8" r="2.7"/><circle cx="1829.3" cy="201.8" r="2.7"/><circle cx="1832" cy="203.3" r="2.7"/><circle cx="1828.2" cy="204.4" r="2.7"/><circle cx="1824.1" cy="205" r="2.7"/><circle cx="1826.7" cy="205.8" r="2.7"/><circle cx="1823.3" cy="206.8" r="2.7"/><circle cx="1845.9" cy="203.8" r="2.7"/><circle cx="1878.9" cy="203.6" r="2.7"/><circle cx="1831.2" cy="207.1" r="2.7"/><circle cx="1835.1" cy="206.7" r="2.7"/><circle cx="1842.9" cy="206" r="2.7"/><circle cx="1845.1" cy="206.7" r="2.7"/><circle cx="1840.1" cy="208.5" r="2.7"/><circle cx="1865.6" cy="206" r="2.7"/><circle cx="1814.1" cy="211" r="2.7"/><circle cx="1817.3" cy="211.6" r="2.7"/><circle cx="1819.7" cy="212.7" r="2.7"/><circle cx="1823.6" cy="211.7" r="2.7"/><circle cx="1838.9" cy="212.1" r="2.7"/><circle cx="1841.5" cy="213" r="2.7"/><circle cx="1889.4" cy="209.2" r="2.7"/><circle cx="1885.7" cy="210.2" r="2.7"/><circle cx="1902" cy="208.6" r="2.7"/><circle cx="1892.8" cy="213.4" r="2.7"/><circle cx="1905.6" cy="213.3" r="2.7"/><circle cx="1908.2" cy="215.2" r="2.7"/><circle cx="1895.8" cy="218.8" r="2.7"/><circle cx="1913.2" cy="211.8" r="2.7"/><circle cx="1917" cy="212.1" r="2.7"/><circle cx="1914.4" cy="213.9" r="2.7"/><circle cx="1929.4" cy="188.9" r="2.7"/><circle cx="1963" cy="183.9" r="2.7"/><circle cx="2005.3" cy="182.9" r="2.7"/><circle cx="2029.5" cy="183.6" r="2.7"/><circle cx="1994.4" cy="188.2" r="2.7"/><circle cx="2020.9" cy="186.8" r="2.7"/><circle cx="2026.5" cy="186.4" r="2.7"/><circle cx="2039.1" cy="186.2" r="2.7"/><circle cx="2042.8" cy="187" r="2.7"/><circle cx="2037.9" cy="187.6" r="2.7"/><circle cx="1981.3" cy="192.6" r="2.7"/><circle cx="2003.4" cy="193.4" r="2.7"/><circle cx="1963.6" cy="195.3" r="2.7"/><circle cx="1961.2" cy="199.9" r="2.7"/><circle cx="1978.3" cy="199.4" r="2.7"/><circle cx="1981.3" cy="198.8" r="2.7"/><circle cx="2000.6" cy="200.1" r="2.7"/><circle cx="1982.5" cy="202.9" r="2.7"/><circle cx="1947.8" cy="206.9" r="2.7"/><circle cx="1952" cy="208.5" r="2.7"/><circle cx="1960.6" cy="207" r="2.7"/><circle cx="1959.9" cy="208" r="2.7"/><circle cx="1940.8" cy="210.1" r="2.7"/><circle cx="1938.8" cy="211.5" r="2.7"/><circle cx="1949.5" cy="214.7" r="2.7"/><circle cx="1954.6" cy="217.8" r="2.7"/><circle cx="1929" cy="218.7" r="2.7"/><circle cx="1924.3" cy="220.3" r="2.7"/><circle cx="2027.6" cy="175.1" r="2.7"/><circle cx="2046.7" cy="194.6" r="2.7"/><circle cx="2052" cy="196.1" r="2.7"/><circle cx="2058.8" cy="198.7" r="2.7"/><circle cx="2063.7" cy="199.3" r="2.7"/><circle cx="2069.8" cy="199" r="2.7"/><circle cx="2066.5" cy="201.3" r="2.7"/><circle cx="2070.8" cy="203.4" r="2.7"/><circle cx="2068.4" cy="204.8" r="2.7"/><circle cx="2065" cy="208.1" r="2.7"/><circle cx="2068.5" cy="212.4" r="2.7"/><circle cx="2080.4" cy="190.6" r="2.7"/><circle cx="2087.1" cy="192.8" r="2.7"/><circle cx="2096.4" cy="193.7" r="2.7"/><circle cx="2099.8" cy="193.5" r="2.7"/><circle cx="2111.4" cy="193.2" r="2.7"/><circle cx="2080.2" cy="199.8" r="2.7"/><circle cx="2085.5" cy="200.9" r="2.7"/><circle cx="2089.4" cy="203.6" r="2.7"/><circle cx="2081.5" cy="205.1" r="2.7"/><circle cx="2103.1" cy="204.5" r="2.7"/><circle cx="2105" cy="185.2" r="2.7"/><circle cx="2111.4" cy="186.7" r="2.7"/><circle cx="2114" cy="186" r="2.7"/><circle cx="2120.4" cy="186.5" r="2.7"/><circle cx="2130.3" cy="188.8" r="2.7"/><circle cx="2121.5" cy="174.6" r="2.7"/><circle cx="2123.5" cy="178.5" r="2.7"/><circle cx="2130.8" cy="178.6" r="2.7"/><circle cx="2127.9" cy="181.1" r="2.7"/><circle cx="2133" cy="163.9" r="2.7"/><circle cx="2141.2" cy="168.1" r="2.7"/><circle cx="2150" cy="168.2" r="2.7"/><circle cx="2147.5" cy="164.1" r="2.7"/><circle cx="2150" cy="165.8" r="2.7"/><circle cx="2150.9" cy="162.6" r="2.7"/><circle cx="2153.7" cy="161.3" r="2.7"/><circle cx="2161.2" cy="159.4" r="2.7"/><circle cx="2165" cy="160.8" r="2.7"/><circle cx="2158.4" cy="166.3" r="2.7"/><circle cx="2163.3" cy="167" r="2.7"/><circle cx="2167.1" cy="166.4" r="2.7"/><circle cx="2166.5" cy="164.7" r="2.7"/><circle cx="2176" cy="164.5" r="2.7"/><circle cx="2175.1" cy="168.2" r="2.7"/><circle cx="2172.5" cy="170" r="2.7"/><circle cx="2180.2" cy="160" r="2.7"/><circle cx="2190.9" cy="161" r="2.7"/><circle cx="2183" cy="165.1" r="2.7"/><circle cx="2188.5" cy="164.8" r="2.7"/><circle cx="2189.4" cy="165.6" r="2.7"/><circle cx="2183" cy="170.6" r="2.7"/><circle cx="2199.7" cy="166.4" r="2.7"/><circle cx="2203.6" cy="166.2" r="2.7"/><circle cx="2204.3" cy="169.6" r="2.7"/><circle cx="2202" cy="170.3" r="2.7"/><circle cx="2198.2" cy="174.3" r="2.7"/><circle cx="2203.9" cy="177.6" r="2.7"/><circle cx="2212.8" cy="161" r="2.7"/><circle cx="2211.1" cy="158.8" r="2.7"/><circle cx="2213" cy="156.6" r="2.7"/><circle cx="2216.2" cy="155.4" r="2.7"/><circle cx="2221.1" cy="154.9" r="2.7"/><circle cx="2218.1" cy="152.8" r="2.7"/><circle cx="2221.3" cy="151.2" r="2.7"/><circle cx="2220.9" cy="150.5" r="2.7"/><circle cx="2222.7" cy="146.6" r="2.7"/><circle cx="2224.9" cy="148.1" r="2.7"/><circle cx="2228.3" cy="148.2" r="2.7"/><circle cx="2231.3" cy="144.7" r="2.7"/><circle cx="2219.1" cy="142.7" r="2.7"/><circle cx="2225.5" cy="141.8" r="2.7"/><circle cx="2272.1" cy="102.9" r="2.7"/><circle cx="2275.3" cy="108.5" r="2.7"/><circle cx="2280.4" cy="112" r="2.7"/><circle cx="2267.9" cy="113.8" r="2.7"/><circle cx="2263.5" cy="118" r="2.7"/><circle cx="2261.5" cy="119.5" r="2.7"/><circle cx="2252.1" cy="123.4" r="2.7"/><circle cx="2251.2" cy="126" r="2.7"/><circle cx="2256.2" cy="128.4" r="2.7"/><circle cx="2282.5" cy="123.3" r="2.7"/><circle cx="2336.3" cy="117.2" r="2.7"/><circle cx="2336.9" cy="125.5" r="2.7"/><circle cx="2345.2" cy="175.6" r="2.7"/><circle cx="2347.2" cy="179.3" r="2.7"/><circle cx="1808.4" cy="221.2" r="2.7"/><circle cx="1801.4" cy="224.6" r="2.7"/><circle cx="1819.1" cy="231.2" r="2.7"/><circle cx="1888.2" cy="230.7" r="2.7"/><circle cx="2018.2" cy="171.8" r="2.7"/><circle cx="1981.8" cy="178" r="2.7"/><circle cx="2010.3" cy="179.2" r="2.7"/><circle cx="2020.3" cy="178.3" r="2.7"/></g>
<rect x="1445" y="21.2" width="914.1" height="763.1" fill="none" stroke="#000" stroke-width="2.1"/>
<line x1="1447.6" y1="784.3" x2="1447.6" y2="793" stroke="#000" stroke-width="2.1"/>
<text class="tk" x="1447.2" y="832.5" font-size="42" text-anchor="middle">632<tspan dx="-5.46" dy="1.2" font-family="Liberation Serif, DejaVu Serif, serif" font-weight="bold" font-size="43.7">,</tspan><tspan dx="-5.46" dy="-1.2">376</tspan></text>
<line x1="1750.5" y1="784.3" x2="1750.5" y2="793" stroke="#000" stroke-width="2.1"/>
<text class="tk" x="1750.1" y="832.5" font-size="42" text-anchor="middle">632<tspan dx="-5.46" dy="1.2" font-family="Liberation Serif, DejaVu Serif, serif" font-weight="bold" font-size="43.7">,</tspan><tspan dx="-5.46" dy="-1.2">954</tspan></text>
<line x1="2053.3" y1="784.3" x2="2053.3" y2="793" stroke="#000" stroke-width="2.1"/>
<text class="tk" x="2052.9" y="832.5" font-size="42" text-anchor="middle">633<tspan dx="-5.46" dy="1.2" font-family="Liberation Serif, DejaVu Serif, serif" font-weight="bold" font-size="43.7">,</tspan><tspan dx="-5.46" dy="-1.2">532</tspan></text>
<line x1="2356.2" y1="784.3" x2="2356.2" y2="793" stroke="#000" stroke-width="2.1"/>
<text class="tk" x="2355.8" y="832.5" font-size="42" text-anchor="middle">634<tspan dx="-5.46" dy="1.2" font-family="Liberation Serif, DejaVu Serif, serif" font-weight="bold" font-size="43.7">,</tspan><tspan dx="-5.46" dy="-1.2">110</tspan></text>
<line x1="1436.4" y1="126.7" x2="1445" y2="126.7" stroke="#000" stroke-width="2.1"/>
<text class="tk" x="1428.7" y="142" font-size="42" text-anchor="end">10</text>
<line x1="1436.4" y1="251.5" x2="1445" y2="251.5" stroke="#000" stroke-width="2.1"/>
<text class="tk" x="1428.7" y="266.8" font-size="42" text-anchor="end">0</text>
<line x1="1436.4" y1="376.3" x2="1445" y2="376.3" stroke="#000" stroke-width="2.1"/>
<text class="tk" x="1428.7" y="391.6" font-size="42" text-anchor="end">−10</text>
<line x1="1436.4" y1="501.2" x2="1445" y2="501.2" stroke="#000" stroke-width="2.1"/>
<text class="tk" x="1428.7" y="516.5" font-size="42" text-anchor="end">−20</text>
<line x1="1436.4" y1="626" x2="1445" y2="626" stroke="#000" stroke-width="2.1"/>
<text class="tk" x="1428.7" y="641.3" font-size="42" text-anchor="end">−30</text>
<line x1="1436.4" y1="750.8" x2="1445" y2="750.8" stroke="#000" stroke-width="2.1"/>
<text class="tk" x="1428.7" y="766.1" font-size="42" text-anchor="end">−40</text>
<text class="lb" transform="translate(1900.8 882.8) scale(1.055 1)" font-size="39.8" text-anchor="middle">Along_track_distance/m</text>
<text class="lb" transform="translate(1324.5 406.2) rotate(-90)" font-size="42" text-anchor="middle">Elevation/m</text>
<text class="cap" font-size="86"><tspan x="543.2" y="997.6" textLength="26.6" lengthAdjust="spacingAndGlyphs">(</tspan><tspan x="570.4" y="998.2" font-weight="bold" font-size="90" textLength="42.0" lengthAdjust="spacingAndGlyphs">a</tspan><tspan x="612.4" y="997.6" textLength="26.6" lengthAdjust="spacingAndGlyphs">)</tspan></text>
<text class="cap" font-size="86"><tspan x="1817.2" y="997.6" textLength="26.6" lengthAdjust="spacingAndGlyphs">(</tspan><tspan x="1845" y="998.2" font-weight="bold" font-size="90" textLength="36.2" lengthAdjust="spacingAndGlyphs">c</tspan><tspan x="1881.5" y="997.6" textLength="26.6" lengthAdjust="spacingAndGlyphs">)</tspan></text>
<text class="cap" font-size="86"><tspan x="1084.3" y="2110.6" textLength="26.6" lengthAdjust="spacingAndGlyphs">(</tspan><tspan x="1112" y="2111.3" font-weight="bold" font-size="90" textLength="49.7" lengthAdjust="spacingAndGlyphs">b</tspan><tspan x="1162.4" y="2110.6" textLength="26.6" lengthAdjust="spacingAndGlyphs">)</tspan></text>
<rect x="401" y="1022" width="1653" height="18" fill="#fcfcfc"/>
<defs><filter id="soft" x="-2%" y="-2%" width="104%" height="104%"><feGaussianBlur stdDeviation="0.65"/></filter></defs>
<g filter="url(#soft)">
<g fill="#008000"><circle cx="604.3" cy="1208.3" r="4.2"/><circle cx="619" cy="1173.8" r="4.2"/><circle cx="619" cy="1189.3" r="4.2"/><circle cx="638.6" cy="1142.7" r="4.2"/><circle cx="643.3" cy="1135.7" r="4.2"/><circle cx="643.3" cy="1115.4" r="4.2"/><circle cx="650.9" cy="1102.5" r="4.2"/><circle cx="655" cy="1114.3" r="4.2"/><circle cx="662.9" cy="1160.4" r="4.2"/><circle cx="671.6" cy="1163.4" r="4.2"/><circle cx="672.9" cy="1179.6" r="4.2"/><circle cx="681.4" cy="1097.8" r="4.2"/><circle cx="687.6" cy="1094.6" r="4.2"/><circle cx="681.4" cy="1118.7" r="4.2"/><circle cx="682" cy="1126.1" r="4.2"/><circle cx="698.1" cy="1111.1" r="4.2"/><circle cx="701.9" cy="1109.3" r="4.2"/><circle cx="701.3" cy="1116.9" r="4.2"/><circle cx="706.6" cy="1122.4" r="4.2"/><circle cx="711" cy="1120.4" r="4.2"/><circle cx="721.2" cy="1100.2" r="4.2"/><circle cx="723" cy="1107.5" r="4.2"/><circle cx="727.1" cy="1111.6" r="4.2"/><circle cx="719.2" cy="1114.9" r="4.2"/><circle cx="736.4" cy="1120.4" r="4.2"/><circle cx="737" cy="1123.9" r="4.2"/><circle cx="744.6" cy="1103.4" r="4.2"/><circle cx="717.1" cy="1140.7" r="4.2"/><circle cx="724.1" cy="1136.6" r="4.2"/><circle cx="725.9" cy="1142.7" r="4.2"/><circle cx="723.6" cy="1150.1" r="4.2"/><circle cx="744.1" cy="1137.1" r="4.2"/><circle cx="749.3" cy="1126.9" r="4.2"/><circle cx="754.6" cy="1130.2" r="4.2"/><circle cx="749.3" cy="1150.1" r="4.2"/><circle cx="744.6" cy="1156.2" r="4.2"/><circle cx="760.5" cy="1152.7" r="4.2"/><circle cx="761.1" cy="1163.4" r="4.2"/><circle cx="754.3" cy="1169.1" r="4.2"/><circle cx="741.1" cy="1184.6" r="4.2"/><circle cx="757.3" cy="1191.3" r="4.2"/><circle cx="763.4" cy="1197.5" r="4.2"/><circle cx="766.7" cy="1209.5" r="4.2"/><circle cx="772.2" cy="1221.8" r="4.2"/><circle cx="721.8" cy="1218.6" r="4.2"/><circle cx="769.3" cy="1260.5" r="4.2"/><circle cx="782.7" cy="1271.2" r="4.2"/><circle cx="787" cy="1305.5" r="4.2"/><circle cx="800.4" cy="1326.3" r="4.2"/><circle cx="845.2" cy="1317.5" r="4.2"/><circle cx="854.3" cy="1336.8" r="4.2"/><circle cx="857.9" cy="1340.9" r="4.2"/><circle cx="816.2" cy="1358.3" r="4.2"/><circle cx="822.1" cy="1360.9" r="4.2"/><circle cx="824.2" cy="1364.6" r="4.2"/><circle cx="838.9" cy="1359.5" r="4.2"/><circle cx="796" cy="1369.3" r="4.2"/><circle cx="771.5" cy="1384.1" r="4.2"/><circle cx="808.6" cy="1382.2" r="4.2"/><circle cx="814.5" cy="1379" r="4.2"/><circle cx="831.7" cy="1378.4" r="4.2"/><circle cx="841.7" cy="1374.3" r="4.2"/><circle cx="852.6" cy="1375.5" r="4.2"/><circle cx="859.6" cy="1377.9" r="4.2"/><circle cx="874.8" cy="1370.8" r="4.2"/><circle cx="879.5" cy="1373.8" r="4.2"/><circle cx="884.8" cy="1377.3" r="4.2"/><circle cx="867.8" cy="1384.3" r="4.2"/><circle cx="853.5" cy="1389.6" r="4.2"/><circle cx="864.9" cy="1390.2" r="4.2"/><circle cx="871.9" cy="1393.1" r="4.2"/><circle cx="863.1" cy="1397.2" r="4.2"/><circle cx="884.2" cy="1395.4" r="4.2"/><circle cx="882.5" cy="1398.9" r="4.2"/><circle cx="845" cy="1402.5" r="4.2"/><circle cx="860.8" cy="1403" r="4.2"/><circle cx="873.1" cy="1402.5" r="4.2"/><circle cx="892.4" cy="1403.6" r="4.2"/><circle cx="887.1" cy="1407.1" r="4.2"/><circle cx="887.7" cy="1413" r="4.2"/><circle cx="855.5" cy="1412.4" r="4.2"/><circle cx="792.6" cy="1410.3" r="4.2"/><circle cx="804.2" cy="1409.3" r="4.2"/><circle cx="829.7" cy="1423.2" r="4.2"/><circle cx="879.9" cy="1426.7" r="4.2"/><circle cx="865.1" cy="1433.5" r="4.2"/><circle cx="824.1" cy="1440.5" r="4.2"/><circle cx="916.4" cy="1380.8" r="4.2"/><circle cx="890.3" cy="1449.1" r="4.2"/><circle cx="901.2" cy="1445.2" r="4.2"/><circle cx="917" cy="1444.1" r="4.2"/><circle cx="921.1" cy="1456.4" r="4.2"/><circle cx="934.6" cy="1451.4" r="4.2"/><circle cx="913.5" cy="1466.3" r="4.2"/><circle cx="947.5" cy="1461.1" r="4.2"/><circle cx="958.4" cy="1455.8" r="4.2"/><circle cx="984.2" cy="1422.1" r="4.2"/><circle cx="988.5" cy="1455.4" r="4.2"/><circle cx="949.3" cy="1470.4" r="4.2"/><circle cx="959.8" cy="1476.9" r="4.2"/><circle cx="949.8" cy="1482.7" r="4.2"/><circle cx="963.3" cy="1487.4" r="4.2"/><circle cx="991.1" cy="1480.4" r="4.2"/><circle cx="951.7" cy="1523.9" r="4.2"/><circle cx="956.4" cy="1520.6" r="4.2"/><circle cx="977.3" cy="1509.5" r="4.2"/><circle cx="977.5" cy="1514.8" r="4.2"/><circle cx="986.1" cy="1510.3" r="4.2"/><circle cx="1000.7" cy="1507.1" r="4.2"/><circle cx="1025.3" cy="1509.7" r="4.2"/><circle cx="1009.4" cy="1518.9" r="4.2"/><circle cx="991.6" cy="1522.1" r="4.2"/><circle cx="1011.1" cy="1539.6" r="4.2"/><circle cx="1016.8" cy="1542.5" r="4.2"/><circle cx="1023.2" cy="1540.8" r="4.2"/><circle cx="1015.6" cy="1555.4" r="4.2"/><circle cx="1036.3" cy="1556.1" r="4.2"/><circle cx="1127.7" cy="1528.8" r="4.2"/><circle cx="1130.1" cy="1540.5" r="4.2"/><circle cx="1093.5" cy="1579.6" r="4.2"/><circle cx="1080.4" cy="1585.7" r="4.2"/><circle cx="1078.6" cy="1603.7" r="4.2"/><circle cx="1064" cy="1609.8" r="4.2"/><circle cx="1083" cy="1612.3" r="4.2"/><circle cx="1066.3" cy="1621.5" r="4.2"/><circle cx="1066.9" cy="1630.3" r="4.2"/><circle cx="1076.1" cy="1633.4" r="4.2"/><circle cx="1072.2" cy="1642.6" r="4.2"/><circle cx="1078" cy="1646.1" r="4.2"/><circle cx="1090.1" cy="1641.4" r="4.2"/><circle cx="1061.4" cy="1647.5" r="4.2"/><circle cx="1058.5" cy="1664.3" r="4.2"/><circle cx="1090.1" cy="1661.3" r="4.2"/><circle cx="1097.4" cy="1664.8" r="4.2"/><circle cx="1100.3" cy="1667.2" r="4.2"/><circle cx="1087.4" cy="1670.5" r="4.2"/><circle cx="1097" cy="1674" r="4.2"/><circle cx="1083.9" cy="1683" r="4.2"/><circle cx="1081.9" cy="1689.5" r="4.2"/><circle cx="1098.8" cy="1684.8" r="4.2"/><circle cx="1098.8" cy="1694.4" r="4.2"/><circle cx="1105" cy="1702.3" r="4.2"/><circle cx="1111.4" cy="1707" r="4.2"/><circle cx="1123.5" cy="1699.4" r="4.2"/><circle cx="1064.6" cy="1722" r="4.2"/><circle cx="1139.3" cy="1598" r="4.2"/><circle cx="1153.3" cy="1626.4" r="4.2"/><circle cx="1181.8" cy="1592.4" r="4.2"/><circle cx="1201.7" cy="1591.8" r="4.2"/><circle cx="1216.7" cy="1587.1" r="4.2"/><circle cx="1223.9" cy="1601.2" r="4.2"/><circle cx="1182.1" cy="1608" r="4.2"/><circle cx="1215.2" cy="1608" r="4.2"/><circle cx="1200.5" cy="1612.1" r="4.2"/><circle cx="1206.4" cy="1612.5" r="4.2"/><circle cx="1191.1" cy="1619.1" r="4.2"/><circle cx="1169.2" cy="1636.1" r="4.2"/><circle cx="1174.1" cy="1640.8" r="4.2"/><circle cx="1181.8" cy="1635.5" r="4.2"/><circle cx="1193.8" cy="1637.9" r="4.2"/><circle cx="1180.2" cy="1648.4" r="4.2"/><circle cx="1210.8" cy="1643.2" r="4.2"/><circle cx="1207.3" cy="1648.2" r="4.2"/><circle cx="1178.6" cy="1662.7" r="4.2"/><circle cx="1168.9" cy="1666.6" r="4.2"/><circle cx="1216" cy="1661.9" r="4.2"/><circle cx="1166.2" cy="1677.7" r="4.2"/><circle cx="1188.8" cy="1681.5" r="4.2"/><circle cx="1158.1" cy="1686.5" r="4.2"/><circle cx="1142.5" cy="1686.5" r="4.2"/><circle cx="1146.6" cy="1692.4" r="4.2"/><circle cx="1140.7" cy="1697.1" r="4.2"/><circle cx="1134.3" cy="1699.4" r="4.2"/><circle cx="1138.4" cy="1702.9" r="4.2"/><circle cx="1133.1" cy="1707" r="4.2"/><circle cx="1168.3" cy="1694.4" r="4.2"/><circle cx="1219.8" cy="1693.6" r="4.2"/><circle cx="1145.4" cy="1708.2" r="4.2"/><circle cx="1151.5" cy="1706.4" r="4.2"/><circle cx="1163.6" cy="1703.5" r="4.2"/><circle cx="1167.1" cy="1706.4" r="4.2"/><circle cx="1159.3" cy="1714.1" r="4.2"/><circle cx="1199.1" cy="1703.9" r="4.2"/><circle cx="1208.4" cy="1708.8" r="4.2"/><circle cx="1118.7" cy="1724.6" r="4.2"/><circle cx="1123.8" cy="1727" r="4.2"/><circle cx="1127.5" cy="1731.6" r="4.2"/><circle cx="1133.5" cy="1727.3" r="4.2"/><circle cx="1157.4" cy="1728.9" r="4.2"/><circle cx="1161.5" cy="1732.8" r="4.2"/><circle cx="1236.2" cy="1717" r="4.2"/><circle cx="1230.4" cy="1721.1" r="4.2"/><circle cx="1255.8" cy="1714.6" r="4.2"/><circle cx="1241.5" cy="1734.3" r="4.2"/><circle cx="1261.4" cy="1734" r="4.2"/><circle cx="1265.5" cy="1741.6" r="4.2"/><circle cx="1246.2" cy="1756.8" r="4.2"/><circle cx="1273.4" cy="1727.7" r="4.2"/><circle cx="1279.3" cy="1728.9" r="4.2"/><circle cx="1275.2" cy="1736.5" r="4.2"/><circle cx="1298.6" cy="1633" r="4.2"/><circle cx="1351" cy="1612.3" r="4.2"/><circle cx="1417" cy="1608" r="4.2"/><circle cx="1454.7" cy="1611.1" r="4.2"/><circle cx="1400" cy="1629.9" r="4.2"/><circle cx="1441.3" cy="1624.4" r="4.2"/><circle cx="1450" cy="1622.6" r="4.2"/><circle cx="1469.7" cy="1621.7" r="4.2"/><circle cx="1475.5" cy="1625.2" r="4.2"/><circle cx="1467.9" cy="1627.5" r="4.2"/><circle cx="1379.5" cy="1648.3" r="4.2"/><circle cx="1414" cy="1651.6" r="4.2"/><circle cx="1351.9" cy="1659.4" r="4.2"/><circle cx="1348.2" cy="1678.5" r="4.2"/><circle cx="1374.8" cy="1676.2" r="4.2"/><circle cx="1379.5" cy="1674.1" r="4.2"/><circle cx="1409.7" cy="1679.1" r="4.2"/><circle cx="1381.4" cy="1690.8" r="4.2"/><circle cx="1327.3" cy="1707.5" r="4.2"/><circle cx="1333.8" cy="1713.9" r="4.2"/><circle cx="1347.2" cy="1707.8" r="4.2"/><circle cx="1346.1" cy="1711.9" r="4.2"/><circle cx="1316.4" cy="1720.7" r="4.2"/><circle cx="1313.2" cy="1726.6" r="4.2"/><circle cx="1307.7" cy="1729.1" r="4.2"/><circle cx="1329.9" cy="1739.7" r="4.2"/><circle cx="1337.9" cy="1752.7" r="4.2"/><circle cx="1298" cy="1756.4" r="4.2"/><circle cx="1290.6" cy="1762.7" r="4.2"/><circle cx="1451.8" cy="1576" r="4.2"/><circle cx="1481.6" cy="1656.5" r="4.2"/><circle cx="1489.8" cy="1662.6" r="4.2"/><circle cx="1500.4" cy="1673.5" r="4.2"/><circle cx="1508" cy="1675.9" r="4.2"/><circle cx="1517.6" cy="1674.7" r="4.2"/><circle cx="1512.5" cy="1684.1" r="4.2"/><circle cx="1519.1" cy="1692.9" r="4.2"/><circle cx="1515.4" cy="1698.7" r="4.2"/><circle cx="1510.1" cy="1712.2" r="4.2"/><circle cx="1515.6" cy="1730" r="4.2"/><circle cx="1534.1" cy="1639.8" r="4.2"/><circle cx="1544.6" cy="1648.9" r="4.2"/><circle cx="1559" cy="1652.8" r="4.2"/><circle cx="1564.3" cy="1652.1" r="4.2"/><circle cx="1582.4" cy="1650.9" r="4.2"/><circle cx="1533.8" cy="1677.9" r="4.2"/><circle cx="1542" cy="1682.7" r="4.2"/><circle cx="1548.2" cy="1693.7" r="4.2"/><circle cx="1535.9" cy="1699.9" r="4.2"/><circle cx="1569.5" cy="1697.5" r="4.2"/><circle cx="1572.5" cy="1617.6" r="4.2"/><circle cx="1582.4" cy="1623.7" r="4.2"/><circle cx="1586.5" cy="1621.1" r="4.2"/><circle cx="1596.5" cy="1622.8" r="4.2"/><circle cx="1612" cy="1632.5" r="4.2"/><circle cx="1598.2" cy="1573.6" r="4.2"/><circle cx="1601.4" cy="1589.7" r="4.2"/><circle cx="1612.7" cy="1590.1" r="4.2"/><circle cx="1608.2" cy="1600.6" r="4.2"/><circle cx="1616.2" cy="1529.4" r="4.2"/><circle cx="1628.9" cy="1546.7" r="4.2"/><circle cx="1642.7" cy="1547.3" r="4.2"/><circle cx="1638.8" cy="1530.4" r="4.2"/><circle cx="1642.7" cy="1537.3" r="4.2"/><circle cx="1644.1" cy="1524.2" r="4.2"/><circle cx="1648.5" cy="1518.9" r="4.2"/><circle cx="1660.2" cy="1510.7" r="4.2"/><circle cx="1666" cy="1516.6" r="4.2"/><circle cx="1655.8" cy="1539.5" r="4.2"/><circle cx="1663.4" cy="1542.4" r="4.2"/><circle cx="1669.3" cy="1540" r="4.2"/><circle cx="1668.4" cy="1532.7" r="4.2"/><circle cx="1683.3" cy="1531.8" r="4.2"/><circle cx="1681.9" cy="1547.4" r="4.2"/><circle cx="1677.8" cy="1554.7" r="4.2"/><circle cx="1689.8" cy="1513.3" r="4.2"/><circle cx="1706.4" cy="1517.5" r="4.2"/><circle cx="1694.2" cy="1534.5" r="4.2"/><circle cx="1702.7" cy="1533" r="4.2"/><circle cx="1704.1" cy="1536.5" r="4.2"/><circle cx="1694.1" cy="1557" r="4.2"/><circle cx="1720.2" cy="1539.8" r="4.2"/><circle cx="1726.3" cy="1539.1" r="4.2"/><circle cx="1727.3" cy="1552.9" r="4.2"/><circle cx="1723.8" cy="1555.9" r="4.2"/><circle cx="1717.9" cy="1572.5" r="4.2"/><circle cx="1726.7" cy="1586" r="4.2"/><circle cx="1740.7" cy="1517.4" r="4.2"/><circle cx="1738" cy="1508.4" r="4.2"/><circle cx="1741" cy="1499.4" r="4.2"/><circle cx="1746" cy="1494.3" r="4.2"/><circle cx="1753.6" cy="1492.3" r="4.2"/><circle cx="1748.9" cy="1483.4" r="4.2"/><circle cx="1753.9" cy="1476.8" r="4.2"/><circle cx="1753.3" cy="1473.8" r="4.2"/><circle cx="1756" cy="1458" r="4.2"/><circle cx="1759.5" cy="1464.2" r="4.2"/><circle cx="1764.8" cy="1464.5" r="4.2"/><circle cx="1769.5" cy="1449.8" r="4.2"/><circle cx="1750.5" cy="1441.6" r="4.2"/><circle cx="1760.4" cy="1438.1" r="4.2"/><circle cx="1781.2" cy="1414.3" r="4.2"/><circle cx="1833.2" cy="1276.8" r="4.2"/><circle cx="1838.1" cy="1300.2" r="4.2"/><circle cx="1846.1" cy="1314.8" r="4.2"/><circle cx="1826.5" cy="1322.2" r="4.2"/><circle cx="1819.7" cy="1339.5" r="4.2"/><circle cx="1816.6" cy="1345.9" r="4.2"/><circle cx="1801.9" cy="1362" r="4.2"/><circle cx="1800.6" cy="1372.5" r="4.2"/><circle cx="1808.4" cy="1382.5" r="4.2"/><circle cx="1849.3" cy="1361.5" r="4.2"/><circle cx="1922.9" cy="1326.3" r="4.2"/><circle cx="1933.2" cy="1336.2" r="4.2"/><circle cx="1934.2" cy="1370.7" r="4.2"/><circle cx="1947.2" cy="1388.9" r="4.2"/><circle cx="1959" cy="1564.4" r="4.2"/><circle cx="1947.2" cy="1577.8" r="4.2"/><circle cx="1950.2" cy="1593.1" r="4.2"/><circle cx="1109.8" cy="1766.8" r="4.2"/><circle cx="1099" cy="1780.5" r="4.2"/><circle cx="1126.6" cy="1807.8" r="4.2"/><circle cx="1215" cy="1809" r="4.2"/><circle cx="1234.3" cy="1806.1" r="4.2"/><circle cx="1437.1" cy="1562" r="4.2"/><circle cx="1380.3" cy="1587.7" r="4.2"/><circle cx="1424.8" cy="1592.7" r="4.2"/><circle cx="1440.3" cy="1588.9" r="4.2"/></g>
<text class="an" x="952" y="1096" font-size="38" textLength="526" lengthAdjust="spacingAndGlyphs">segment in along-track direction</text>
<text class="an" transform="translate(896 1120.3) rotate(90)" font-size="38" textLength="437.5" lengthAdjust="spacingAndGlyphs">segment in height direction</text>
<line x1="541.1" y1="1059.4" x2="1969.2" y2="1059.4" stroke="#262626" stroke-width="2.2"/>
<line x1="1968.1" y1="1059.4" x2="1968.1" y2="1894.8" stroke="#262626" stroke-width="2.2"/>
<line x1="1966" y1="1060.4" x2="1966" y2="1890.9" stroke="#e2e2e2" stroke-width="2"/>
<line x1="542.9" y1="1059.4" x2="542.9" y2="1894.8" stroke="#6e6e6e" stroke-width="3.5"/>
<line x1="541.1" y1="1892" x2="1969.2" y2="1892" stroke="#4a4a4a" stroke-width="1.9"/>
<line x1="541.1" y1="1893.8" x2="1969.2" y2="1893.8" stroke="#999" stroke-width="1.9"/>
<rect x="703.8" y="1059.4" width="41" height="833.5" stroke="#ff0000" stroke-opacity="0.48" fill="none" stroke-width="2"/>
<rect x="745.8" y="1059.4" width="41" height="833.5" stroke="#ff0000" stroke-opacity="0.48" fill="none" stroke-width="2"/>
<rect x="787.8" y="1059.4" width="40.8" height="833.5" stroke="#ff0000" stroke-opacity="0.48" fill="none" stroke-width="2"/>
<rect x="787.6" y="1194.2" width="41" height="268.7" stroke="#ff0000" stroke-opacity="0.48" fill="none" stroke-width="2.4"/>
<line x1="787.3" y1="1327.8" x2="828.6" y2="1327.8" stroke="#ff0000" stroke-opacity="0.42" stroke-width="2.6"/>
<line x1="787.3" y1="1194.2" x2="828.6" y2="1194.2" stroke="#ff0000" stroke-opacity="0.45" stroke-width="2"/>
<path d="M952.9 1255 V1119.6 H1028" fill="none" stroke="#ff0000" stroke-opacity="0.6" stroke-width="1.8"/>
<path d="M1027 1113.2 L1039.6 1119.6 L1027 1126 Z" fill="#ff0000"/>
<path d="M946.8 1254.6 L952.9 1267.4 L959 1254.6 Z" fill="#ff0000"/>
<rect x="1066.6" y="1456.6" width="23" height="108" fill="none" stroke="#ff0000" stroke-width="4.8" stroke-dasharray="13.4 3.7"/>
<rect x="1876.6" y="1306.7" width="19" height="108.6" fill="none" stroke="#ffc000" stroke-width="4.8" stroke-dasharray="13.4 3.7"/>
<line x1="547.1" y1="1892.9" x2="547.1" y2="1902.7" stroke="#3a3a3a" stroke-width="2.2"/>
<text class="tk" transform="translate(547.1 1940.2) scale(0.955 1)" font-size="39.8" text-anchor="middle">632<tspan dx="-6.33" fill="#333">,</tspan><tspan dx="-6.33">376</tspan></text>
<line x1="724.5" y1="1892.9" x2="724.5" y2="1902.7" stroke="#3a3a3a" stroke-width="2.2"/>
<text class="tk" transform="translate(724.5 1940.2) scale(0.955 1)" font-size="39.8" text-anchor="middle">632<tspan dx="-6.33" fill="#333">,</tspan><tspan dx="-6.33">593</tspan></text>
<line x1="901.8" y1="1892.9" x2="901.8" y2="1902.7" stroke="#3a3a3a" stroke-width="2.2"/>
<text class="tk" transform="translate(901.8 1940.2) scale(0.955 1)" font-size="39.8" text-anchor="middle">632<tspan dx="-6.33" fill="#333">,</tspan><tspan dx="-6.33">810</tspan></text>
<line x1="1078.3" y1="1892.9" x2="1078.3" y2="1902.7" stroke="#3a3a3a" stroke-width="2.2"/>
<text class="tk" transform="translate(1078.3 1940.2) scale(0.955 1)" font-size="39.8" text-anchor="middle">633<tspan dx="-6.33" fill="#333">,</tspan><tspan dx="-6.33">026</tspan></text>
<line x1="1255.7" y1="1892.9" x2="1255.7" y2="1902.7" stroke="#3a3a3a" stroke-width="2.2"/>
<text class="tk" transform="translate(1255.7 1940.2) scale(0.955 1)" font-size="39.8" text-anchor="middle">633<tspan dx="-6.33" fill="#333">,</tspan><tspan dx="-6.33">243</tspan></text>
<line x1="1433.1" y1="1892.9" x2="1433.1" y2="1902.7" stroke="#3a3a3a" stroke-width="2.2"/>
<text class="tk" transform="translate(1433.1 1940.2) scale(0.955 1)" font-size="39.8" text-anchor="middle">633<tspan dx="-6.33" fill="#333">,</tspan><tspan dx="-6.33">460</tspan></text>
<line x1="1610.4" y1="1892.9" x2="1610.4" y2="1902.7" stroke="#3a3a3a" stroke-width="2.2"/>
<text class="tk" transform="translate(1610.4 1940.2) scale(0.955 1)" font-size="39.8" text-anchor="middle">633<tspan dx="-6.33" fill="#333">,</tspan><tspan dx="-6.33">677</tspan></text>
<line x1="1786.9" y1="1892.9" x2="1786.9" y2="1902.7" stroke="#3a3a3a" stroke-width="2.2"/>
<text class="tk" transform="translate(1786.9 1940.2) scale(0.955 1)" font-size="39.8" text-anchor="middle">633<tspan dx="-6.33" fill="#333">,</tspan><tspan dx="-6.33">893</tspan></text>
<line x1="1964.3" y1="1892.9" x2="1964.3" y2="1902.7" stroke="#3a3a3a" stroke-width="2.2"/>
<text class="tk" transform="translate(1964.3 1940.2) scale(0.955 1)" font-size="39.8" text-anchor="middle">634<tspan dx="-6.33" fill="#333">,</tspan><tspan dx="-6.33">110</tspan></text>
<line x1="533.2" y1="1892.9" x2="542.9" y2="1892.9" stroke="#6e6e6e" stroke-width="3.6"/>
<text class="tk" x="523.9" y="1909.4" font-size="46" text-anchor="end">0</text>
<line x1="533.2" y1="1633.8" x2="542.9" y2="1633.8" stroke="#3a3a3a" stroke-width="2.2"/>
<text class="tk" x="523.9" y="1651.1" font-size="46" text-anchor="end">5</text>
<line x1="533.2" y1="1375.5" x2="542.9" y2="1375.5" stroke="#3a3a3a" stroke-width="2.2"/>
<text class="tk" x="523.9" y="1392.8" font-size="46" text-anchor="end">10</text>
<line x1="533.2" y1="1117.2" x2="542.9" y2="1117.2" stroke="#3a3a3a" stroke-width="2.2"/>
<text class="tk" x="523.9" y="1134.5" font-size="46" text-anchor="end">15</text>
<text class="lb" x="1254.5" y="1993.2" font-size="46" text-anchor="middle">Along_track_distance/m</text>
<text class="lb" transform="translate(450.5 1480.4) rotate(-90)" font-size="46" text-anchor="middle">Elevation/m</text>
</g>
</svg></body></html>
